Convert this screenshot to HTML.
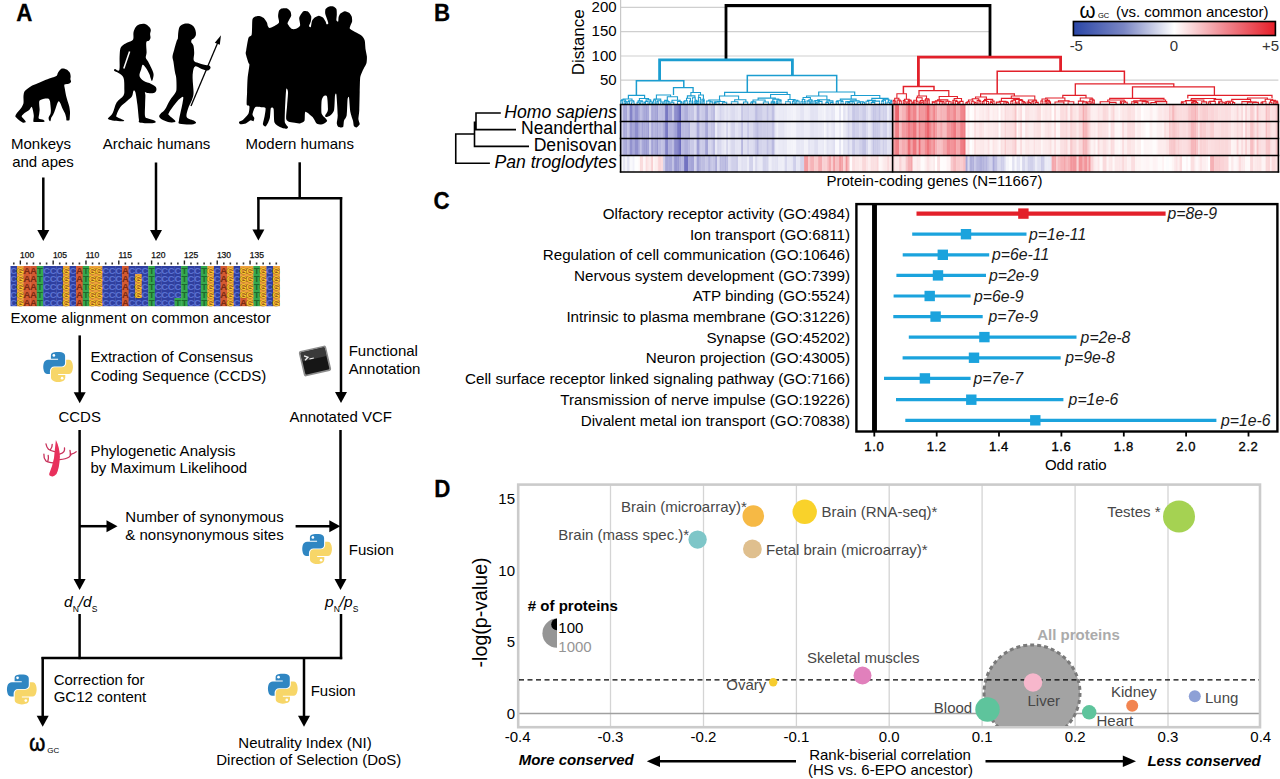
<!DOCTYPE html>
<html><head><meta charset="utf-8"><style>
html,body{margin:0;padding:0;background:#fff;width:1280px;height:779px;overflow:hidden}
svg{display:block}
text{font-family:"Liberation Sans", sans-serif}
</style></head><body>
<svg width="1280" height="779" viewBox="0 0 1280 779">
<rect width="1280" height="779" fill="#fff"/>
<text x="16.3" y="20.9" font-size="24" font-weight="bold" stroke="#000" stroke-width="0.3" transform="translate(16.3,20.9) scale(0.93,1) translate(-16.3,-20.9)">A</text>
<text x="434" y="21.3" font-size="24" font-weight="bold" stroke="#000" stroke-width="0.3" transform="translate(434,21.3) scale(0.93,1) translate(-434,-21.3)">B</text>
<text x="433.5" y="208.8" font-size="24" font-weight="bold" stroke="#000" stroke-width="0.3" transform="translate(433.5,208.8) scale(0.93,1) translate(-433.5,-208.8)">C</text>
<text x="434.2" y="497" font-size="24" font-weight="bold" stroke="#000" stroke-width="0.3" transform="translate(434.2,497) scale(0.93,1) translate(-434.2,-497)">D</text>
<path d="M61.67,68.54 C62.81,68.12 65.53,68.90 66.61,69.44 C67.69,69.97 69.22,71.68 69.76,72.58 C70.30,73.48 70.57,75.28 70.66,76.17 C70.74,77.07 70.33,78.60 70.39,79.32 C70.45,80.04 71.19,81.03 71.10,81.57 C71.02,82.11 70.24,83.03 69.76,83.36 C69.28,83.70 68.23,83.90 67.51,84.08 C66.79,84.26 64.72,84.09 64.37,84.71 C64.01,85.33 64.57,87.26 64.81,88.76 C65.05,90.25 65.74,94.15 66.16,95.94 C66.58,97.74 67.54,100.80 67.96,102.23 C68.38,103.67 69.03,105.41 69.31,106.73 C69.58,108.05 69.97,110.68 70.03,112.12 C70.09,113.56 69.85,116.43 69.76,117.51 C69.66,118.59 69.73,119.82 69.31,120.21 C68.89,120.59 67.03,120.75 66.61,120.39 C66.19,120.03 66.40,118.49 66.16,117.51 C65.92,116.53 65.35,114.34 64.81,113.02 C64.28,111.70 62.72,108.94 62.12,107.63 C61.52,106.31 60.80,103.97 60.32,103.13 C59.84,102.29 59.00,101.10 58.52,101.34 C58.05,101.58 57.21,103.73 56.73,104.93 C56.25,106.13 55.41,109.00 54.93,110.32 C54.45,111.64 53.61,113.86 53.13,114.81 C52.65,115.77 51.70,116.67 51.34,117.51 C50.98,118.35 50.74,120.75 50.44,121.10 C50.14,121.46 49.33,120.69 49.09,120.21 C48.85,119.73 48.46,118.35 48.64,117.51 C48.82,116.67 50.14,114.87 50.44,113.92 C50.74,112.96 50.89,111.52 50.89,110.32 C50.89,109.12 50.56,106.13 50.44,104.93 C50.32,103.73 50.23,102.17 49.99,101.34 C49.75,100.50 49.42,99.00 48.64,98.64 C47.86,98.28 45.34,98.40 44.15,98.64 C42.95,98.88 40.31,99.72 39.65,100.44 C38.99,101.16 39.20,102.83 39.20,104.03 C39.20,105.23 39.65,108.11 39.65,109.42 C39.65,110.74 39.32,112.72 39.20,113.92 C39.08,115.11 38.22,117.63 38.76,118.41 C39.29,119.19 42.53,119.30 43.25,119.76 C43.97,120.21 45.34,121.52 44.15,121.82 C42.95,122.12 35.70,122.22 34.26,122.00 C32.82,121.79 33.42,121.04 33.36,120.21 C33.30,119.37 33.87,117.03 33.81,115.71 C33.75,114.40 33.21,111.52 32.91,110.32 C32.61,109.12 32.11,106.73 31.57,106.73 C31.03,106.73 29.95,109.36 28.87,110.32 C27.79,111.28 24.44,113.08 23.48,113.92 C22.52,114.75 21.56,115.83 21.68,116.61 C21.80,117.39 23.84,119.04 24.38,119.76 C24.92,120.48 25.97,121.64 25.73,122.00 C25.49,122.36 23.72,122.93 22.58,122.45 C21.44,121.97 18.15,119.19 17.19,118.41 C16.23,117.63 15.51,117.21 15.39,116.61 C15.27,116.01 15.57,114.99 16.29,113.92 C17.01,112.84 19.82,109.96 20.78,108.52 C21.74,107.09 23.12,104.81 23.48,103.13 C23.84,101.46 23.30,97.56 23.48,95.94 C23.66,94.33 23.87,92.26 24.83,91.00 C25.79,89.74 28.93,87.53 30.67,86.51 C32.41,85.49 35.82,84.26 37.86,83.36 C39.89,82.46 44.03,80.55 45.94,79.77 C47.86,78.99 50.80,78.06 52.23,77.52 C53.67,76.98 55.95,76.38 56.73,75.73 C57.51,75.07 57.42,73.54 58.08,72.58 C58.73,71.62 60.53,68.96 61.67,68.54Z" fill="#000"/>
<path d="M139.70,24.20 C141.25,23.70 143.50,23.45 145.10,23.90 C146.70,24.35 148.35,25.88 149.30,26.90 C150.25,27.92 150.67,28.83 150.80,30.00 C150.93,31.17 150.15,32.62 150.10,33.90 C150.05,35.18 150.70,36.55 150.50,37.70 C150.30,38.85 149.55,40.15 148.90,40.80 C148.25,41.45 147.05,40.83 146.60,41.60 C146.15,42.37 146.20,43.60 146.20,45.40 C146.20,47.20 146.67,50.33 146.60,52.40 C146.53,54.47 145.55,56.27 145.80,57.80 C146.05,59.33 147.20,59.93 148.10,61.60 C149.00,63.27 150.35,66.00 151.20,67.80 C152.05,69.60 152.82,71.03 153.20,72.40 C153.58,73.77 153.70,74.57 153.50,76.00 C153.30,77.43 152.50,80.72 152.00,81.00 C151.50,81.28 150.95,78.88 150.50,77.70 C150.05,76.52 150.08,75.55 149.30,73.90 C148.52,72.25 146.90,69.33 145.80,67.80 C144.70,66.27 143.47,64.45 142.70,64.70 C141.93,64.95 141.73,67.42 141.20,69.30 C140.67,71.18 139.12,74.08 139.50,76.00 C139.88,77.92 141.55,79.48 143.50,80.80 C145.45,82.12 149.15,82.88 151.20,83.90 C153.25,84.92 154.97,85.75 155.80,86.90 C156.63,88.05 156.58,89.77 156.20,90.80 C155.82,91.83 154.85,92.72 153.50,93.10 C152.15,93.48 149.52,93.23 148.10,93.10 C146.68,92.97 145.45,91.92 145.00,92.30 C144.55,92.68 145.38,93.33 145.40,95.40 C145.42,97.47 145.15,101.23 145.10,104.70 C145.05,108.17 144.60,113.90 145.10,116.20 C145.60,118.50 146.57,117.78 148.10,118.50 C149.63,119.22 153.07,119.85 154.30,120.50 C155.53,121.15 156.13,121.95 155.50,122.40 C154.87,122.85 153.13,123.20 150.50,123.20 C147.87,123.20 141.63,123.05 139.70,122.40 C137.77,121.75 139.28,122.25 138.90,119.30 C138.52,116.35 137.98,109.20 137.40,104.70 C136.82,100.20 136.05,94.62 135.40,92.30 C134.75,89.98 134.07,90.15 133.50,90.80 C132.93,91.45 133.03,94.53 132.00,96.20 C130.97,97.87 129.23,99.00 127.30,100.80 C125.37,102.60 122.18,104.68 120.40,107.00 C118.62,109.32 117.18,113.03 116.60,114.70 C116.02,116.37 115.75,116.10 116.90,117.00 C118.05,117.90 122.47,119.40 123.50,120.10 C124.53,120.80 124.65,121.08 123.10,121.20 C121.55,121.32 116.63,121.12 114.20,120.80 C111.77,120.48 109.45,119.80 108.50,119.30 C107.55,118.80 107.80,118.83 108.50,117.80 C109.20,116.77 111.35,115.67 112.70,113.10 C114.05,110.53 114.80,105.35 116.60,102.40 C118.40,99.45 122.22,97.72 123.50,95.40 C124.78,93.08 124.30,91.45 124.30,88.50 C124.30,85.55 124.47,80.27 123.50,77.70 C122.53,75.13 120.05,74.25 118.50,73.10 C116.95,71.95 114.78,71.50 114.20,70.80 C113.62,70.10 114.15,69.02 115.00,68.90 C115.85,68.78 118.53,72.08 119.30,70.10 C120.07,68.12 119.42,60.60 119.60,57.00 C119.78,53.40 119.75,50.55 120.40,48.50 C121.05,46.45 122.22,45.73 123.50,44.70 C124.78,43.67 126.50,43.15 128.10,42.30 C129.70,41.45 132.20,41.27 133.10,39.60 C134.00,37.93 133.05,34.42 133.50,32.30 C133.95,30.18 134.77,28.25 135.80,26.90 C136.83,25.55 138.15,24.70 139.70,24.20Z" fill="#000"/>
<line x1="129.6" y1="51.5" x2="123.8" y2="68.5" stroke="#fff" stroke-width="1.5"/>
<path d="M184.20,23.80 C185.73,23.37 187.67,23.28 189.20,23.70 C190.73,24.12 192.35,25.17 193.40,26.30 C194.45,27.43 195.08,29.10 195.50,30.50 C195.92,31.90 196.12,33.45 195.90,34.70 C195.68,35.95 194.90,37.17 194.20,38.00 C193.50,38.83 192.18,39.00 191.70,39.70 C191.22,40.40 191.02,41.23 191.30,42.20 C191.58,43.17 192.92,43.70 193.40,45.50 C193.88,47.30 194.13,50.48 194.20,53.00 C194.27,55.52 193.10,58.92 193.80,60.60 C194.50,62.28 196.67,62.42 198.40,63.10 C200.13,63.78 202.40,64.28 204.20,64.70 C206.00,65.12 208.15,65.03 209.20,65.60 C210.25,66.17 210.77,67.27 210.50,68.10 C210.23,68.93 209.07,70.47 207.60,70.60 C206.13,70.73 203.78,69.60 201.70,68.90 C199.62,68.20 196.55,65.98 195.10,66.40 C193.65,66.82 193.42,69.47 193.00,71.40 C192.58,73.33 192.58,75.63 192.60,78.00 C192.62,80.37 192.95,82.92 193.10,85.60 C193.25,88.28 193.73,91.63 193.50,94.10 C193.27,96.57 192.58,98.05 191.70,100.40 C190.82,102.75 189.02,105.38 188.20,108.20 C187.38,111.02 185.75,115.18 186.80,117.30 C187.85,119.42 192.98,119.95 194.50,120.90 C196.02,121.85 196.37,122.42 195.90,123.00 C195.43,123.58 194.40,124.28 191.70,124.40 C189.00,124.52 181.82,124.40 179.70,123.70 C177.58,123.00 178.88,121.97 179.00,120.20 C179.12,118.43 179.82,115.93 180.40,113.10 C180.98,110.27 182.03,105.90 182.50,103.20 C182.97,100.50 183.55,97.72 183.20,96.90 C182.85,96.08 181.57,97.37 180.40,98.30 C179.23,99.23 178.08,100.15 176.20,102.50 C174.32,104.85 170.28,110.28 169.10,112.40 C167.92,114.52 168.15,113.90 169.10,115.20 C170.05,116.50 173.85,119.08 174.80,120.20 C175.75,121.32 175.75,121.55 174.80,121.90 C173.85,122.25 171.23,122.70 169.10,122.30 C166.97,121.90 163.65,120.45 162.00,119.50 C160.35,118.55 159.43,117.55 159.20,116.60 C158.97,115.65 159.65,114.97 160.60,113.80 C161.55,112.63 163.37,111.83 164.90,109.60 C166.43,107.37 168.03,103.23 169.80,100.40 C171.57,97.57 174.38,94.72 175.50,92.60 C176.62,90.48 176.38,90.17 176.50,87.70 C176.62,85.23 176.45,80.37 176.20,77.80 C175.95,75.23 175.47,75.03 175.00,72.30 C174.53,69.57 173.82,64.05 173.40,61.40 C172.98,58.75 172.37,58.35 172.50,56.40 C172.63,54.45 173.57,52.07 174.20,49.70 C174.83,47.33 175.75,43.93 176.30,42.20 C176.85,40.47 177.23,40.00 177.50,39.30 C177.77,38.60 177.75,39.32 177.90,38.00 C178.05,36.68 178.05,33.35 178.40,31.40 C178.75,29.45 179.03,27.57 180.00,26.30 C180.97,25.03 182.67,24.23 184.20,23.80Z" fill="#000"/>
<line x1="217.6" y1="43" x2="191" y2="106" stroke="#000" stroke-width="1.3"/><polygon points="221,35.3 219.8,44.8 214.8,42.8" fill="#000"/>
<path d="M246.20,50.30 C246.51,48.41 247.87,39.48 248.50,37.70 C249.13,35.92 251.18,36.25 251.60,35.00 C252.02,33.75 252.00,28.83 252.10,27.00 C252.20,25.17 252.14,20.51 252.50,19.30 C252.86,18.09 254.41,16.99 255.20,16.60 C255.99,16.21 258.30,15.84 259.30,16.00 C260.30,16.16 262.91,17.24 263.80,18.00 C264.69,18.76 266.43,21.57 266.90,22.50 C267.37,23.43 267.49,25.37 267.80,26.00 C268.12,26.63 268.82,27.90 269.60,27.90 C270.38,27.90 273.40,26.63 274.50,26.00 C275.60,25.37 278.58,23.64 279.00,22.50 C279.42,21.36 278.10,17.56 278.10,16.20 C278.10,14.83 278.58,11.70 279.00,10.80 C279.42,9.90 280.80,8.79 281.70,8.50 C282.60,8.21 285.70,7.99 286.70,8.30 C287.70,8.62 289.78,10.34 290.30,11.20 C290.82,12.06 291.36,14.65 291.20,15.70 C291.04,16.75 289.32,19.25 288.90,20.20 C288.48,21.14 287.29,22.80 287.60,23.80 C287.92,24.80 290.61,28.22 291.60,28.80 C292.59,29.38 295.11,29.17 296.10,28.80 C297.09,28.43 299.74,26.86 300.10,25.60 C300.46,24.34 299.04,19.41 299.20,18.00 C299.36,16.59 300.99,14.29 301.50,13.50 C302.01,12.71 302.83,11.41 303.60,11.20 C304.37,10.99 307.21,11.12 308.10,11.70 C308.99,12.28 310.88,15.04 311.20,16.20 C311.51,17.36 311.06,20.46 310.80,21.60 C310.54,22.74 309.00,25.37 309.00,26.00 C309.00,26.63 310.44,27.62 310.80,27.00 C311.16,26.38 311.63,21.81 312.10,20.70 C312.57,19.59 314.01,18.08 314.80,17.50 C315.59,16.92 317.95,15.70 318.90,15.70 C319.84,15.70 322.12,16.81 322.90,17.50 C323.68,18.19 325.18,20.81 325.60,21.60 C326.02,22.39 326.19,24.09 326.50,24.30 C326.81,24.51 328.24,24.03 328.30,23.40 C328.36,22.77 327.36,20.05 327.00,18.90 C326.64,17.74 325.36,14.65 325.20,13.50 C325.04,12.35 325.18,9.79 325.60,9.00 C326.02,8.21 327.91,6.99 328.80,6.70 C329.69,6.41 332.31,6.23 333.20,6.50 C334.09,6.77 335.98,8.08 336.40,9.00 C336.82,9.92 336.80,13.09 336.80,14.40 C336.80,15.71 336.24,19.36 336.40,20.20 C336.56,21.04 337.94,21.96 338.20,21.60 C338.46,21.24 338.34,18.05 338.60,17.10 C338.86,16.16 339.66,14.19 340.40,13.50 C341.13,12.81 343.85,11.26 344.90,11.20 C345.95,11.14 348.61,12.37 349.40,13.00 C350.19,13.63 351.38,15.60 351.70,16.60 C352.01,17.60 352.26,20.50 352.10,21.60 C351.94,22.70 350.56,25.16 350.30,26.00 C350.04,26.84 349.27,28.07 349.90,28.80 C350.53,29.54 354.29,31.47 355.70,32.30 C357.11,33.13 360.95,34.95 362.00,35.90 C363.05,36.84 364.28,38.82 364.70,40.40 C365.12,41.98 365.34,47.51 365.60,49.40 C365.86,51.29 366.79,55.02 366.90,56.60 C367.00,58.18 366.84,61.57 366.50,62.90 C366.16,64.23 364.52,66.92 364.00,68.00 C363.48,69.08 362.44,71.08 362.00,72.20 C361.56,73.32 360.47,75.29 360.20,77.60 C359.93,79.91 359.81,88.23 359.70,92.00 C359.59,95.77 359.45,106.76 359.30,109.90 C359.15,113.04 358.35,117.22 358.40,118.90 C358.45,120.58 359.91,123.31 359.70,124.30 C359.49,125.29 357.28,127.19 356.60,127.40 C355.92,127.61 354.32,126.88 353.90,126.10 C353.48,125.32 353.42,122.38 353.00,120.70 C352.58,119.02 350.77,114.43 350.30,111.70 C349.83,108.97 349.31,98.77 349.00,97.30 C348.69,95.83 347.87,97.00 347.60,99.10 C347.33,101.20 347.12,112.78 346.70,115.30 C346.28,117.82 344.42,119.34 344.00,120.70 C343.58,122.06 343.73,126.27 343.10,127.00 C342.47,127.73 339.34,127.42 338.60,127.00 C337.87,126.58 336.91,124.77 336.80,123.40 C336.69,122.04 337.75,118.66 337.70,115.30 C337.65,111.94 336.71,96.91 336.40,94.60 C336.08,92.29 335.27,93.72 335.00,95.50 C334.73,97.28 334.62,107.59 334.10,109.90 C333.58,112.21 331.43,114.46 330.50,115.30 C329.57,116.14 326.72,117.10 326.10,117.10 C325.48,117.10 324.99,116.14 325.20,115.30 C325.41,114.46 327.69,112.11 327.90,109.90 C328.11,107.70 327.52,97.98 327.00,96.40 C326.48,94.83 324.03,95.88 323.40,96.40 C322.77,96.93 321.81,98.91 321.60,100.90 C321.39,102.90 321.08,111.40 321.60,113.50 C322.12,115.60 325.47,118.00 326.10,118.90 C326.73,119.80 327.42,120.57 327.00,121.20 C326.58,121.83 323.71,124.04 322.50,124.30 C321.29,124.56 317.75,124.24 316.60,123.40 C315.45,122.56 313.91,118.46 312.60,117.10 C311.29,115.73 306.34,111.28 305.40,111.70 C304.45,112.12 305.13,119.34 304.50,120.70 C303.87,122.06 300.98,123.13 300.00,123.40 C299.02,123.67 297.29,123.16 296.10,123.00 C294.91,122.84 290.96,122.48 289.80,122.00 C288.64,121.52 286.51,120.84 286.20,118.90 C285.88,116.96 286.89,108.54 287.10,105.40 C287.31,102.26 288.11,93.88 288.00,92.00 C287.89,90.12 286.56,87.00 286.20,89.30 C285.84,91.60 285.05,107.83 284.90,111.70 C284.75,115.57 284.54,120.72 284.90,122.50 C285.26,124.28 287.85,126.27 288.00,127.00 C288.15,127.73 287.14,128.80 286.20,128.80 C285.25,128.80 281.26,127.73 279.90,127.00 C278.53,126.27 275.24,124.60 274.50,122.50 C273.76,120.40 274.02,110.68 273.60,109.00 C273.18,107.32 271.32,107.16 270.90,108.10 C270.48,109.04 270.31,115.42 270.00,117.10 C269.69,118.78 268.72,121.40 268.20,122.50 C267.68,123.60 266.12,126.29 265.50,126.50 C264.88,126.71 263.00,125.50 262.90,124.30 C262.79,123.10 264.30,118.09 264.60,116.20 C264.90,114.31 265.91,109.15 265.50,108.10 C265.09,107.05 262.30,107.31 261.10,107.20 C259.90,107.09 256.20,106.36 255.20,107.20 C254.20,108.04 252.60,113.14 252.50,114.40 C252.40,115.66 254.20,117.21 254.30,118.00 C254.41,118.79 253.82,120.93 253.40,121.20 C252.98,121.47 251.59,120.04 250.70,120.30 C249.81,120.56 247.00,122.93 245.80,123.40 C244.60,123.87 241.19,124.46 240.40,124.30 C239.61,124.14 238.69,122.53 239.00,122.00 C239.31,121.47 241.99,120.79 243.10,119.80 C244.21,118.81 247.76,115.08 248.50,113.50 C249.24,111.92 249.61,107.35 249.40,106.30 C249.19,105.25 246.97,106.17 246.70,104.50 C246.43,102.83 247.00,95.03 247.10,92.00 C247.20,88.97 247.33,81.65 247.60,78.50 C247.87,75.35 249.30,66.82 249.40,65.00 C249.50,63.18 248.92,64.19 248.50,62.90 C248.08,61.60 246.07,55.37 245.80,53.90 C245.53,52.43 245.88,52.19 246.20,50.30Z" fill="#000"/>
<text x="41.0" y="149.3" font-size="15" text-anchor="middle" fill="#000" font-weight="normal" font-style="normal" >Monkeys</text>
<text x="43.0" y="167.0" font-size="15" text-anchor="middle" fill="#000" font-weight="normal" font-style="normal" >and apes</text>
<text x="156.5" y="149.3" font-size="15" text-anchor="middle" fill="#000" font-weight="normal" font-style="normal" >Archaic humans</text>
<text x="299.7" y="149.3" font-size="15" text-anchor="middle" fill="#000" font-weight="normal" font-style="normal" >Modern humans</text>
<line x1="43.3" y1="177.5" x2="43.3" y2="231.0" stroke="#000" stroke-width="2.5" />
<polygon points="37.3,230.0 49.3,230.0 43.3,241.0" fill="#000"/>
<line x1="156.0" y1="162.5" x2="156.0" y2="231.0" stroke="#000" stroke-width="2.5" />
<polygon points="150.0,230.0 162.0,230.0 156.0,241.0" fill="#000"/>
<line x1="299.7" y1="162.3" x2="299.7" y2="198.3" stroke="#000" stroke-width="2.5" />
<line x1="257.2" y1="198.3" x2="342.2" y2="198.3" stroke="#000" stroke-width="2.5" />
<line x1="258.4" y1="197.0" x2="258.4" y2="230.5" stroke="#000" stroke-width="2.5" />
<polygon points="252.4,229.5 264.4,229.5 258.4,240.5" fill="#000"/>
<line x1="341.0" y1="197.0" x2="341.0" y2="393.0" stroke="#000" stroke-width="2.5" />
<polygon points="335.0,392.0 347.0,392.0 341.0,403.0" fill="#000"/>
<rect x="10.50" y="266" width="6.86" height="8.2" fill="#2f3f9f"/>
<rect x="10.50" y="274" width="6.86" height="8.2" fill="#2f3f9f"/>
<rect x="10.50" y="282" width="6.86" height="8.2" fill="#2f3f9f"/>
<rect x="10.50" y="290" width="6.86" height="8.2" fill="#2f3f9f"/>
<rect x="10.50" y="298" width="6.86" height="8.2" fill="#2f3f9f"/>
<rect x="17.06" y="266" width="6.86" height="8.2" fill="#eea23c"/>
<rect x="17.06" y="274" width="6.86" height="8.2" fill="#eea23c"/>
<rect x="17.06" y="282" width="6.86" height="8.2" fill="#eea23c"/>
<rect x="17.06" y="290" width="6.86" height="8.2" fill="#eea23c"/>
<rect x="17.06" y="298" width="6.86" height="8.2" fill="#eea23c"/>
<rect x="23.63" y="266" width="6.86" height="8.2" fill="#d45a32"/>
<rect x="23.63" y="274" width="6.86" height="8.2" fill="#d45a32"/>
<rect x="23.63" y="282" width="6.86" height="8.2" fill="#d45a32"/>
<rect x="23.63" y="290" width="6.86" height="8.2" fill="#d45a32"/>
<rect x="23.63" y="298" width="6.86" height="8.2" fill="#d45a32"/>
<rect x="30.19" y="266" width="6.86" height="8.2" fill="#d45a32"/>
<rect x="30.19" y="274" width="6.86" height="8.2" fill="#d45a32"/>
<rect x="30.19" y="282" width="6.86" height="8.2" fill="#d45a32"/>
<rect x="30.19" y="290" width="6.86" height="8.2" fill="#d45a32"/>
<rect x="30.19" y="298" width="6.86" height="8.2" fill="#d45a32"/>
<rect x="36.75" y="266" width="6.86" height="8.2" fill="#35a84e"/>
<rect x="36.75" y="274" width="6.86" height="8.2" fill="#35a84e"/>
<rect x="36.75" y="282" width="6.86" height="8.2" fill="#35a84e"/>
<rect x="36.75" y="290" width="6.86" height="8.2" fill="#35a84e"/>
<rect x="36.75" y="298" width="6.86" height="8.2" fill="#35a84e"/>
<rect x="43.31" y="266" width="6.86" height="8.2" fill="#2f3f9f"/>
<rect x="43.31" y="274" width="6.86" height="8.2" fill="#2f3f9f"/>
<rect x="43.31" y="282" width="6.86" height="8.2" fill="#2f3f9f"/>
<rect x="43.31" y="290" width="6.86" height="8.2" fill="#2f3f9f"/>
<rect x="43.31" y="298" width="6.86" height="8.2" fill="#2f3f9f"/>
<rect x="49.88" y="266" width="6.86" height="8.2" fill="#2f3f9f"/>
<rect x="49.88" y="274" width="6.86" height="8.2" fill="#2f3f9f"/>
<rect x="49.88" y="282" width="6.86" height="8.2" fill="#2f3f9f"/>
<rect x="49.88" y="290" width="6.86" height="8.2" fill="#2f3f9f"/>
<rect x="49.88" y="298" width="6.86" height="8.2" fill="#2f3f9f"/>
<rect x="56.44" y="266" width="6.86" height="8.2" fill="#2f3f9f"/>
<rect x="56.44" y="274" width="6.86" height="8.2" fill="#2f3f9f"/>
<rect x="56.44" y="282" width="6.86" height="8.2" fill="#2f3f9f"/>
<rect x="56.44" y="290" width="6.86" height="8.2" fill="#2f3f9f"/>
<rect x="56.44" y="298" width="6.86" height="8.2" fill="#2f3f9f"/>
<rect x="63.00" y="266" width="6.86" height="8.2" fill="#eea23c"/>
<rect x="63.00" y="274" width="6.86" height="8.2" fill="#eea23c"/>
<rect x="63.00" y="282" width="6.86" height="8.2" fill="#eea23c"/>
<rect x="63.00" y="290" width="6.86" height="8.2" fill="#eea23c"/>
<rect x="63.00" y="298" width="6.86" height="8.2" fill="#eea23c"/>
<rect x="69.57" y="266" width="6.86" height="8.2" fill="#2f3f9f"/>
<rect x="69.57" y="274" width="6.86" height="8.2" fill="#2f3f9f"/>
<rect x="69.57" y="282" width="6.86" height="8.2" fill="#2f3f9f"/>
<rect x="69.57" y="290" width="6.86" height="8.2" fill="#2f3f9f"/>
<rect x="69.57" y="298" width="6.86" height="8.2" fill="#2f3f9f"/>
<rect x="76.13" y="266" width="6.86" height="8.2" fill="#d45a32"/>
<rect x="76.13" y="274" width="6.86" height="8.2" fill="#d45a32"/>
<rect x="76.13" y="282" width="6.86" height="8.2" fill="#d45a32"/>
<rect x="76.13" y="290" width="6.86" height="8.2" fill="#d45a32"/>
<rect x="76.13" y="298" width="6.86" height="8.2" fill="#d45a32"/>
<rect x="82.69" y="266" width="6.86" height="8.2" fill="#35a84e"/>
<rect x="82.69" y="274" width="6.86" height="8.2" fill="#35a84e"/>
<rect x="82.69" y="282" width="6.86" height="8.2" fill="#35a84e"/>
<rect x="82.69" y="290" width="6.86" height="8.2" fill="#35a84e"/>
<rect x="82.69" y="298" width="6.86" height="8.2" fill="#35a84e"/>
<rect x="89.26" y="266" width="6.86" height="8.2" fill="#eea23c"/>
<rect x="89.26" y="274" width="6.86" height="8.2" fill="#eea23c"/>
<rect x="89.26" y="282" width="6.86" height="8.2" fill="#eea23c"/>
<rect x="89.26" y="290" width="6.86" height="8.2" fill="#eea23c"/>
<rect x="89.26" y="298" width="6.86" height="8.2" fill="#eea23c"/>
<rect x="95.82" y="266" width="6.86" height="8.2" fill="#eea23c"/>
<rect x="95.82" y="274" width="6.86" height="8.2" fill="#eea23c"/>
<rect x="95.82" y="282" width="6.86" height="8.2" fill="#eea23c"/>
<rect x="95.82" y="290" width="6.86" height="8.2" fill="#eea23c"/>
<rect x="95.82" y="298" width="6.86" height="8.2" fill="#eea23c"/>
<rect x="102.38" y="266" width="6.86" height="8.2" fill="#2f3f9f"/>
<rect x="102.38" y="274" width="6.86" height="8.2" fill="#2f3f9f"/>
<rect x="102.38" y="282" width="6.86" height="8.2" fill="#2f3f9f"/>
<rect x="102.38" y="290" width="6.86" height="8.2" fill="#2f3f9f"/>
<rect x="102.38" y="298" width="6.86" height="8.2" fill="#2f3f9f"/>
<rect x="108.94" y="266" width="6.86" height="8.2" fill="#2f3f9f"/>
<rect x="108.94" y="274" width="6.86" height="8.2" fill="#2f3f9f"/>
<rect x="108.94" y="282" width="6.86" height="8.2" fill="#2f3f9f"/>
<rect x="108.94" y="290" width="6.86" height="8.2" fill="#2f3f9f"/>
<rect x="108.94" y="298" width="6.86" height="8.2" fill="#2f3f9f"/>
<rect x="115.51" y="266" width="6.86" height="8.2" fill="#2f3f9f"/>
<rect x="115.51" y="274" width="6.86" height="8.2" fill="#2f3f9f"/>
<rect x="115.51" y="282" width="6.86" height="8.2" fill="#2f3f9f"/>
<rect x="115.51" y="290" width="6.86" height="8.2" fill="#2f3f9f"/>
<rect x="115.51" y="298" width="6.86" height="8.2" fill="#2f3f9f"/>
<rect x="122.07" y="266" width="6.86" height="8.2" fill="#d45a32"/>
<rect x="122.07" y="274" width="6.86" height="8.2" fill="#d45a32"/>
<rect x="122.07" y="282" width="6.86" height="8.2" fill="#d45a32"/>
<rect x="122.07" y="290" width="6.86" height="8.2" fill="#d45a32"/>
<rect x="122.07" y="298" width="6.86" height="8.2" fill="#d45a32"/>
<rect x="128.63" y="266" width="6.86" height="8.2" fill="#2f3f9f"/>
<rect x="128.63" y="274" width="6.86" height="8.2" fill="#2f3f9f"/>
<rect x="128.63" y="282" width="6.86" height="8.2" fill="#2f3f9f"/>
<rect x="128.63" y="290" width="6.86" height="8.2" fill="#2f3f9f"/>
<rect x="128.63" y="298" width="6.86" height="8.2" fill="#2f3f9f"/>
<rect x="135.20" y="266" width="6.86" height="8.2" fill="#2f3f9f"/>
<rect x="135.20" y="274" width="6.86" height="8.2" fill="#eea23c"/>
<rect x="135.20" y="282" width="6.86" height="8.2" fill="#eea23c"/>
<rect x="135.20" y="290" width="6.86" height="8.2" fill="#eea23c"/>
<rect x="135.20" y="298" width="6.86" height="8.2" fill="#2f3f9f"/>
<rect x="141.76" y="266" width="6.86" height="8.2" fill="#2f3f9f"/>
<rect x="141.76" y="274" width="6.86" height="8.2" fill="#2f3f9f"/>
<rect x="141.76" y="282" width="6.86" height="8.2" fill="#2f3f9f"/>
<rect x="141.76" y="290" width="6.86" height="8.2" fill="#2f3f9f"/>
<rect x="141.76" y="298" width="6.86" height="8.2" fill="#2f3f9f"/>
<rect x="148.32" y="266" width="6.86" height="8.2" fill="#35a84e"/>
<rect x="148.32" y="274" width="6.86" height="8.2" fill="#35a84e"/>
<rect x="148.32" y="282" width="6.86" height="8.2" fill="#35a84e"/>
<rect x="148.32" y="290" width="6.86" height="8.2" fill="#35a84e"/>
<rect x="148.32" y="298" width="6.86" height="8.2" fill="#35a84e"/>
<rect x="154.89" y="266" width="6.86" height="8.2" fill="#2f3f9f"/>
<rect x="154.89" y="274" width="6.86" height="8.2" fill="#2f3f9f"/>
<rect x="154.89" y="282" width="6.86" height="8.2" fill="#2f3f9f"/>
<rect x="154.89" y="290" width="6.86" height="8.2" fill="#2f3f9f"/>
<rect x="154.89" y="298" width="6.86" height="8.2" fill="#2f3f9f"/>
<rect x="161.45" y="266" width="6.86" height="8.2" fill="#2f3f9f"/>
<rect x="161.45" y="274" width="6.86" height="8.2" fill="#2f3f9f"/>
<rect x="161.45" y="282" width="6.86" height="8.2" fill="#2f3f9f"/>
<rect x="161.45" y="290" width="6.86" height="8.2" fill="#2f3f9f"/>
<rect x="161.45" y="298" width="6.86" height="8.2" fill="#2f3f9f"/>
<rect x="168.01" y="266" width="6.86" height="8.2" fill="#2f3f9f"/>
<rect x="168.01" y="274" width="6.86" height="8.2" fill="#2f3f9f"/>
<rect x="168.01" y="282" width="6.86" height="8.2" fill="#2f3f9f"/>
<rect x="168.01" y="290" width="6.86" height="8.2" fill="#2f3f9f"/>
<rect x="168.01" y="298" width="6.86" height="8.2" fill="#2f3f9f"/>
<rect x="174.57" y="266" width="6.86" height="8.2" fill="#2f3f9f"/>
<rect x="174.57" y="274" width="6.86" height="8.2" fill="#2f3f9f"/>
<rect x="174.57" y="282" width="6.86" height="8.2" fill="#2f3f9f"/>
<rect x="174.57" y="290" width="6.86" height="8.2" fill="#2f3f9f"/>
<rect x="174.57" y="298" width="6.86" height="8.2" fill="#35a84e"/>
<rect x="181.14" y="266" width="6.86" height="8.2" fill="#35a84e"/>
<rect x="181.14" y="274" width="6.86" height="8.2" fill="#35a84e"/>
<rect x="181.14" y="282" width="6.86" height="8.2" fill="#35a84e"/>
<rect x="181.14" y="290" width="6.86" height="8.2" fill="#35a84e"/>
<rect x="181.14" y="298" width="6.86" height="8.2" fill="#35a84e"/>
<rect x="187.70" y="266" width="6.86" height="8.2" fill="#2f3f9f"/>
<rect x="187.70" y="274" width="6.86" height="8.2" fill="#2f3f9f"/>
<rect x="187.70" y="282" width="6.86" height="8.2" fill="#2f3f9f"/>
<rect x="187.70" y="290" width="6.86" height="8.2" fill="#2f3f9f"/>
<rect x="187.70" y="298" width="6.86" height="8.2" fill="#2f3f9f"/>
<rect x="194.26" y="266" width="6.86" height="8.2" fill="#2f3f9f"/>
<rect x="194.26" y="274" width="6.86" height="8.2" fill="#2f3f9f"/>
<rect x="194.26" y="282" width="6.86" height="8.2" fill="#2f3f9f"/>
<rect x="194.26" y="290" width="6.86" height="8.2" fill="#2f3f9f"/>
<rect x="194.26" y="298" width="6.86" height="8.2" fill="#2f3f9f"/>
<rect x="200.83" y="266" width="6.86" height="8.2" fill="#35a84e"/>
<rect x="200.83" y="274" width="6.86" height="8.2" fill="#35a84e"/>
<rect x="200.83" y="282" width="6.86" height="8.2" fill="#35a84e"/>
<rect x="200.83" y="290" width="6.86" height="8.2" fill="#35a84e"/>
<rect x="200.83" y="298" width="6.86" height="8.2" fill="#35a84e"/>
<rect x="207.39" y="266" width="6.86" height="8.2" fill="#eea23c"/>
<rect x="207.39" y="274" width="6.86" height="8.2" fill="#eea23c"/>
<rect x="207.39" y="282" width="6.86" height="8.2" fill="#eea23c"/>
<rect x="207.39" y="290" width="6.86" height="8.2" fill="#eea23c"/>
<rect x="207.39" y="298" width="6.86" height="8.2" fill="#eea23c"/>
<rect x="213.95" y="266" width="6.86" height="8.2" fill="#2f3f9f"/>
<rect x="213.95" y="274" width="6.86" height="8.2" fill="#2f3f9f"/>
<rect x="213.95" y="282" width="6.86" height="8.2" fill="#2f3f9f"/>
<rect x="213.95" y="290" width="6.86" height="8.2" fill="#2f3f9f"/>
<rect x="213.95" y="298" width="6.86" height="8.2" fill="#2f3f9f"/>
<rect x="220.52" y="266" width="6.86" height="8.2" fill="#d45a32"/>
<rect x="220.52" y="274" width="6.86" height="8.2" fill="#d45a32"/>
<rect x="220.52" y="282" width="6.86" height="8.2" fill="#d45a32"/>
<rect x="220.52" y="290" width="6.86" height="8.2" fill="#d45a32"/>
<rect x="220.52" y="298" width="6.86" height="8.2" fill="#d45a32"/>
<rect x="227.08" y="266" width="6.86" height="8.2" fill="#eea23c"/>
<rect x="227.08" y="274" width="6.86" height="8.2" fill="#eea23c"/>
<rect x="227.08" y="282" width="6.86" height="8.2" fill="#eea23c"/>
<rect x="227.08" y="290" width="6.86" height="8.2" fill="#eea23c"/>
<rect x="227.08" y="298" width="6.86" height="8.2" fill="#eea23c"/>
<rect x="233.64" y="266" width="6.86" height="8.2" fill="#2f3f9f"/>
<rect x="233.64" y="274" width="6.86" height="8.2" fill="#2f3f9f"/>
<rect x="233.64" y="282" width="6.86" height="8.2" fill="#2f3f9f"/>
<rect x="233.64" y="290" width="6.86" height="8.2" fill="#2f3f9f"/>
<rect x="233.64" y="298" width="6.86" height="8.2" fill="#2f3f9f"/>
<rect x="240.20" y="266" width="6.86" height="8.2" fill="#eea23c"/>
<rect x="240.20" y="274" width="6.86" height="8.2" fill="#eea23c"/>
<rect x="240.20" y="282" width="6.86" height="8.2" fill="#eea23c"/>
<rect x="240.20" y="290" width="6.86" height="8.2" fill="#eea23c"/>
<rect x="240.20" y="298" width="6.86" height="8.2" fill="#d45a32"/>
<rect x="246.77" y="266" width="6.86" height="8.2" fill="#eea23c"/>
<rect x="246.77" y="274" width="6.86" height="8.2" fill="#eea23c"/>
<rect x="246.77" y="282" width="6.86" height="8.2" fill="#eea23c"/>
<rect x="246.77" y="290" width="6.86" height="8.2" fill="#eea23c"/>
<rect x="246.77" y="298" width="6.86" height="8.2" fill="#eea23c"/>
<rect x="253.33" y="266" width="6.86" height="8.2" fill="#35a84e"/>
<rect x="253.33" y="274" width="6.86" height="8.2" fill="#35a84e"/>
<rect x="253.33" y="282" width="6.86" height="8.2" fill="#35a84e"/>
<rect x="253.33" y="290" width="6.86" height="8.2" fill="#35a84e"/>
<rect x="253.33" y="298" width="6.86" height="8.2" fill="#35a84e"/>
<rect x="259.89" y="266" width="6.86" height="8.2" fill="#eea23c"/>
<rect x="259.89" y="274" width="6.86" height="8.2" fill="#eea23c"/>
<rect x="259.89" y="282" width="6.86" height="8.2" fill="#eea23c"/>
<rect x="259.89" y="290" width="6.86" height="8.2" fill="#eea23c"/>
<rect x="259.89" y="298" width="6.86" height="8.2" fill="#eea23c"/>
<rect x="266.46" y="266" width="6.86" height="8.2" fill="#2f3f9f"/>
<rect x="266.46" y="274" width="6.86" height="8.2" fill="#2f3f9f"/>
<rect x="266.46" y="282" width="6.86" height="8.2" fill="#2f3f9f"/>
<rect x="266.46" y="290" width="6.86" height="8.2" fill="#2f3f9f"/>
<rect x="266.46" y="298" width="6.86" height="8.2" fill="#2f3f9f"/>
<rect x="273.02" y="266" width="6.86" height="8.2" fill="#eea23c"/>
<rect x="273.02" y="274" width="6.86" height="8.2" fill="#eea23c"/>
<rect x="273.02" y="282" width="6.86" height="8.2" fill="#eea23c"/>
<rect x="273.02" y="290" width="6.86" height="8.2" fill="#eea23c"/>
<rect x="273.02" y="298" width="6.86" height="8.2" fill="#eea23c"/>
<g style="font-size:9.5px;font-weight:bold" text-anchor="middle">
<text x="13.78" y="273.6" fill="#5b73d3">C</text>
<text x="13.78" y="281.6" fill="#5b73d3">C</text>
<text x="13.78" y="289.6" fill="#5b73d3">C</text>
<text x="13.78" y="297.6" fill="#5b73d3">C</text>
<text x="13.78" y="305.6" fill="#5b73d3">C</text>
<text x="20.34" y="273.6" fill="#f7c52e" stroke="#6a3a08" stroke-width="0.7" paint-order="stroke">G</text>
<text x="20.34" y="281.6" fill="#f7c52e" stroke="#6a3a08" stroke-width="0.7" paint-order="stroke">G</text>
<text x="20.34" y="289.6" fill="#f7c52e" stroke="#6a3a08" stroke-width="0.7" paint-order="stroke">G</text>
<text x="20.34" y="297.6" fill="#f7c52e" stroke="#6a3a08" stroke-width="0.7" paint-order="stroke">G</text>
<text x="20.34" y="305.6" fill="#f7c52e" stroke="#6a3a08" stroke-width="0.7" paint-order="stroke">G</text>
<text x="26.91" y="273.6" fill="#7a2a12">A</text>
<text x="26.91" y="281.6" fill="#7a2a12">A</text>
<text x="26.91" y="289.6" fill="#7a2a12">A</text>
<text x="26.91" y="297.6" fill="#7a2a12">A</text>
<text x="26.91" y="305.6" fill="#7a2a12">A</text>
<text x="33.47" y="273.6" fill="#7a2a12">A</text>
<text x="33.47" y="281.6" fill="#7a2a12">A</text>
<text x="33.47" y="289.6" fill="#7a2a12">A</text>
<text x="33.47" y="297.6" fill="#7a2a12">A</text>
<text x="33.47" y="305.6" fill="#7a2a12">A</text>
<text x="40.03" y="273.6" fill="#1d6a2c">T</text>
<text x="40.03" y="281.6" fill="#1d6a2c">T</text>
<text x="40.03" y="289.6" fill="#1d6a2c">T</text>
<text x="40.03" y="297.6" fill="#1d6a2c">T</text>
<text x="40.03" y="305.6" fill="#1d6a2c">T</text>
<text x="46.60" y="273.6" fill="#5b73d3">C</text>
<text x="46.60" y="281.6" fill="#5b73d3">C</text>
<text x="46.60" y="289.6" fill="#5b73d3">C</text>
<text x="46.60" y="297.6" fill="#5b73d3">C</text>
<text x="46.60" y="305.6" fill="#5b73d3">C</text>
<text x="53.16" y="273.6" fill="#5b73d3">C</text>
<text x="53.16" y="281.6" fill="#5b73d3">C</text>
<text x="53.16" y="289.6" fill="#5b73d3">C</text>
<text x="53.16" y="297.6" fill="#5b73d3">C</text>
<text x="53.16" y="305.6" fill="#5b73d3">C</text>
<text x="59.72" y="273.6" fill="#5b73d3">C</text>
<text x="59.72" y="281.6" fill="#5b73d3">C</text>
<text x="59.72" y="289.6" fill="#5b73d3">C</text>
<text x="59.72" y="297.6" fill="#5b73d3">C</text>
<text x="59.72" y="305.6" fill="#5b73d3">C</text>
<text x="66.29" y="273.6" fill="#f7c52e" stroke="#6a3a08" stroke-width="0.7" paint-order="stroke">G</text>
<text x="66.29" y="281.6" fill="#f7c52e" stroke="#6a3a08" stroke-width="0.7" paint-order="stroke">G</text>
<text x="66.29" y="289.6" fill="#f7c52e" stroke="#6a3a08" stroke-width="0.7" paint-order="stroke">G</text>
<text x="66.29" y="297.6" fill="#f7c52e" stroke="#6a3a08" stroke-width="0.7" paint-order="stroke">G</text>
<text x="66.29" y="305.6" fill="#f7c52e" stroke="#6a3a08" stroke-width="0.7" paint-order="stroke">G</text>
<text x="72.85" y="273.6" fill="#5b73d3">C</text>
<text x="72.85" y="281.6" fill="#5b73d3">C</text>
<text x="72.85" y="289.6" fill="#5b73d3">C</text>
<text x="72.85" y="297.6" fill="#5b73d3">C</text>
<text x="72.85" y="305.6" fill="#5b73d3">C</text>
<text x="79.41" y="273.6" fill="#7a2a12">A</text>
<text x="79.41" y="281.6" fill="#7a2a12">A</text>
<text x="79.41" y="289.6" fill="#7a2a12">A</text>
<text x="79.41" y="297.6" fill="#7a2a12">A</text>
<text x="79.41" y="305.6" fill="#7a2a12">A</text>
<text x="85.97" y="273.6" fill="#1d6a2c">T</text>
<text x="85.97" y="281.6" fill="#1d6a2c">T</text>
<text x="85.97" y="289.6" fill="#1d6a2c">T</text>
<text x="85.97" y="297.6" fill="#1d6a2c">T</text>
<text x="85.97" y="305.6" fill="#1d6a2c">T</text>
<text x="92.54" y="273.6" fill="#f7c52e" stroke="#6a3a08" stroke-width="0.7" paint-order="stroke">G</text>
<text x="92.54" y="281.6" fill="#f7c52e" stroke="#6a3a08" stroke-width="0.7" paint-order="stroke">G</text>
<text x="92.54" y="289.6" fill="#f7c52e" stroke="#6a3a08" stroke-width="0.7" paint-order="stroke">G</text>
<text x="92.54" y="297.6" fill="#f7c52e" stroke="#6a3a08" stroke-width="0.7" paint-order="stroke">G</text>
<text x="92.54" y="305.6" fill="#f7c52e" stroke="#6a3a08" stroke-width="0.7" paint-order="stroke">G</text>
<text x="99.10" y="273.6" fill="#f7c52e" stroke="#6a3a08" stroke-width="0.7" paint-order="stroke">G</text>
<text x="99.10" y="281.6" fill="#f7c52e" stroke="#6a3a08" stroke-width="0.7" paint-order="stroke">G</text>
<text x="99.10" y="289.6" fill="#f7c52e" stroke="#6a3a08" stroke-width="0.7" paint-order="stroke">G</text>
<text x="99.10" y="297.6" fill="#f7c52e" stroke="#6a3a08" stroke-width="0.7" paint-order="stroke">G</text>
<text x="99.10" y="305.6" fill="#f7c52e" stroke="#6a3a08" stroke-width="0.7" paint-order="stroke">G</text>
<text x="105.66" y="273.6" fill="#5b73d3">C</text>
<text x="105.66" y="281.6" fill="#5b73d3">C</text>
<text x="105.66" y="289.6" fill="#5b73d3">C</text>
<text x="105.66" y="297.6" fill="#5b73d3">C</text>
<text x="105.66" y="305.6" fill="#5b73d3">C</text>
<text x="112.23" y="273.6" fill="#5b73d3">C</text>
<text x="112.23" y="281.6" fill="#5b73d3">C</text>
<text x="112.23" y="289.6" fill="#5b73d3">C</text>
<text x="112.23" y="297.6" fill="#5b73d3">C</text>
<text x="112.23" y="305.6" fill="#5b73d3">C</text>
<text x="118.79" y="273.6" fill="#5b73d3">C</text>
<text x="118.79" y="281.6" fill="#5b73d3">C</text>
<text x="118.79" y="289.6" fill="#5b73d3">C</text>
<text x="118.79" y="297.6" fill="#5b73d3">C</text>
<text x="118.79" y="305.6" fill="#5b73d3">C</text>
<text x="125.35" y="273.6" fill="#7a2a12">A</text>
<text x="125.35" y="281.6" fill="#7a2a12">A</text>
<text x="125.35" y="289.6" fill="#7a2a12">A</text>
<text x="125.35" y="297.6" fill="#7a2a12">A</text>
<text x="125.35" y="305.6" fill="#7a2a12">A</text>
<text x="131.92" y="273.6" fill="#5b73d3">C</text>
<text x="131.92" y="281.6" fill="#5b73d3">C</text>
<text x="131.92" y="289.6" fill="#5b73d3">C</text>
<text x="131.92" y="297.6" fill="#5b73d3">C</text>
<text x="131.92" y="305.6" fill="#5b73d3">C</text>
<text x="138.48" y="273.6" fill="#5b73d3">C</text>
<text x="138.48" y="281.6" fill="#f7c52e" stroke="#6a3a08" stroke-width="0.7" paint-order="stroke">G</text>
<text x="138.48" y="289.6" fill="#f7c52e" stroke="#6a3a08" stroke-width="0.7" paint-order="stroke">G</text>
<text x="138.48" y="297.6" fill="#f7c52e" stroke="#6a3a08" stroke-width="0.7" paint-order="stroke">G</text>
<text x="138.48" y="305.6" fill="#5b73d3">C</text>
<text x="145.04" y="273.6" fill="#5b73d3">C</text>
<text x="145.04" y="281.6" fill="#5b73d3">C</text>
<text x="145.04" y="289.6" fill="#5b73d3">C</text>
<text x="145.04" y="297.6" fill="#5b73d3">C</text>
<text x="145.04" y="305.6" fill="#5b73d3">C</text>
<text x="151.60" y="273.6" fill="#1d6a2c">T</text>
<text x="151.60" y="281.6" fill="#1d6a2c">T</text>
<text x="151.60" y="289.6" fill="#1d6a2c">T</text>
<text x="151.60" y="297.6" fill="#1d6a2c">T</text>
<text x="151.60" y="305.6" fill="#1d6a2c">T</text>
<text x="158.17" y="273.6" fill="#5b73d3">C</text>
<text x="158.17" y="281.6" fill="#5b73d3">C</text>
<text x="158.17" y="289.6" fill="#5b73d3">C</text>
<text x="158.17" y="297.6" fill="#5b73d3">C</text>
<text x="158.17" y="305.6" fill="#5b73d3">C</text>
<text x="164.73" y="273.6" fill="#5b73d3">C</text>
<text x="164.73" y="281.6" fill="#5b73d3">C</text>
<text x="164.73" y="289.6" fill="#5b73d3">C</text>
<text x="164.73" y="297.6" fill="#5b73d3">C</text>
<text x="164.73" y="305.6" fill="#5b73d3">C</text>
<text x="171.29" y="273.6" fill="#5b73d3">C</text>
<text x="171.29" y="281.6" fill="#5b73d3">C</text>
<text x="171.29" y="289.6" fill="#5b73d3">C</text>
<text x="171.29" y="297.6" fill="#5b73d3">C</text>
<text x="171.29" y="305.6" fill="#5b73d3">C</text>
<text x="177.86" y="273.6" fill="#5b73d3">C</text>
<text x="177.86" y="281.6" fill="#5b73d3">C</text>
<text x="177.86" y="289.6" fill="#5b73d3">C</text>
<text x="177.86" y="297.6" fill="#5b73d3">C</text>
<text x="177.86" y="305.6" fill="#1d6a2c">T</text>
<text x="184.42" y="273.6" fill="#1d6a2c">T</text>
<text x="184.42" y="281.6" fill="#1d6a2c">T</text>
<text x="184.42" y="289.6" fill="#1d6a2c">T</text>
<text x="184.42" y="297.6" fill="#1d6a2c">T</text>
<text x="184.42" y="305.6" fill="#1d6a2c">T</text>
<text x="190.98" y="273.6" fill="#5b73d3">C</text>
<text x="190.98" y="281.6" fill="#5b73d3">C</text>
<text x="190.98" y="289.6" fill="#5b73d3">C</text>
<text x="190.98" y="297.6" fill="#5b73d3">C</text>
<text x="190.98" y="305.6" fill="#5b73d3">C</text>
<text x="197.55" y="273.6" fill="#5b73d3">C</text>
<text x="197.55" y="281.6" fill="#5b73d3">C</text>
<text x="197.55" y="289.6" fill="#5b73d3">C</text>
<text x="197.55" y="297.6" fill="#5b73d3">C</text>
<text x="197.55" y="305.6" fill="#5b73d3">C</text>
<text x="204.11" y="273.6" fill="#1d6a2c">T</text>
<text x="204.11" y="281.6" fill="#1d6a2c">T</text>
<text x="204.11" y="289.6" fill="#1d6a2c">T</text>
<text x="204.11" y="297.6" fill="#1d6a2c">T</text>
<text x="204.11" y="305.6" fill="#1d6a2c">T</text>
<text x="210.67" y="273.6" fill="#f7c52e" stroke="#6a3a08" stroke-width="0.7" paint-order="stroke">G</text>
<text x="210.67" y="281.6" fill="#f7c52e" stroke="#6a3a08" stroke-width="0.7" paint-order="stroke">G</text>
<text x="210.67" y="289.6" fill="#f7c52e" stroke="#6a3a08" stroke-width="0.7" paint-order="stroke">G</text>
<text x="210.67" y="297.6" fill="#f7c52e" stroke="#6a3a08" stroke-width="0.7" paint-order="stroke">G</text>
<text x="210.67" y="305.6" fill="#f7c52e" stroke="#6a3a08" stroke-width="0.7" paint-order="stroke">G</text>
<text x="217.23" y="273.6" fill="#5b73d3">C</text>
<text x="217.23" y="281.6" fill="#5b73d3">C</text>
<text x="217.23" y="289.6" fill="#5b73d3">C</text>
<text x="217.23" y="297.6" fill="#5b73d3">C</text>
<text x="217.23" y="305.6" fill="#5b73d3">C</text>
<text x="223.80" y="273.6" fill="#7a2a12">A</text>
<text x="223.80" y="281.6" fill="#7a2a12">A</text>
<text x="223.80" y="289.6" fill="#7a2a12">A</text>
<text x="223.80" y="297.6" fill="#7a2a12">A</text>
<text x="223.80" y="305.6" fill="#7a2a12">A</text>
<text x="230.36" y="273.6" fill="#f7c52e" stroke="#6a3a08" stroke-width="0.7" paint-order="stroke">G</text>
<text x="230.36" y="281.6" fill="#f7c52e" stroke="#6a3a08" stroke-width="0.7" paint-order="stroke">G</text>
<text x="230.36" y="289.6" fill="#f7c52e" stroke="#6a3a08" stroke-width="0.7" paint-order="stroke">G</text>
<text x="230.36" y="297.6" fill="#f7c52e" stroke="#6a3a08" stroke-width="0.7" paint-order="stroke">G</text>
<text x="230.36" y="305.6" fill="#f7c52e" stroke="#6a3a08" stroke-width="0.7" paint-order="stroke">G</text>
<text x="236.92" y="273.6" fill="#5b73d3">C</text>
<text x="236.92" y="281.6" fill="#5b73d3">C</text>
<text x="236.92" y="289.6" fill="#5b73d3">C</text>
<text x="236.92" y="297.6" fill="#5b73d3">C</text>
<text x="236.92" y="305.6" fill="#5b73d3">C</text>
<text x="243.49" y="273.6" fill="#f7c52e" stroke="#6a3a08" stroke-width="0.7" paint-order="stroke">G</text>
<text x="243.49" y="281.6" fill="#f7c52e" stroke="#6a3a08" stroke-width="0.7" paint-order="stroke">G</text>
<text x="243.49" y="289.6" fill="#f7c52e" stroke="#6a3a08" stroke-width="0.7" paint-order="stroke">G</text>
<text x="243.49" y="297.6" fill="#f7c52e" stroke="#6a3a08" stroke-width="0.7" paint-order="stroke">G</text>
<text x="243.49" y="305.6" fill="#7a2a12">A</text>
<text x="250.05" y="273.6" fill="#f7c52e" stroke="#6a3a08" stroke-width="0.7" paint-order="stroke">G</text>
<text x="250.05" y="281.6" fill="#f7c52e" stroke="#6a3a08" stroke-width="0.7" paint-order="stroke">G</text>
<text x="250.05" y="289.6" fill="#f7c52e" stroke="#6a3a08" stroke-width="0.7" paint-order="stroke">G</text>
<text x="250.05" y="297.6" fill="#f7c52e" stroke="#6a3a08" stroke-width="0.7" paint-order="stroke">G</text>
<text x="250.05" y="305.6" fill="#f7c52e" stroke="#6a3a08" stroke-width="0.7" paint-order="stroke">G</text>
<text x="256.61" y="273.6" fill="#1d6a2c">T</text>
<text x="256.61" y="281.6" fill="#1d6a2c">T</text>
<text x="256.61" y="289.6" fill="#1d6a2c">T</text>
<text x="256.61" y="297.6" fill="#1d6a2c">T</text>
<text x="256.61" y="305.6" fill="#1d6a2c">T</text>
<text x="263.18" y="273.6" fill="#f7c52e" stroke="#6a3a08" stroke-width="0.7" paint-order="stroke">G</text>
<text x="263.18" y="281.6" fill="#f7c52e" stroke="#6a3a08" stroke-width="0.7" paint-order="stroke">G</text>
<text x="263.18" y="289.6" fill="#f7c52e" stroke="#6a3a08" stroke-width="0.7" paint-order="stroke">G</text>
<text x="263.18" y="297.6" fill="#f7c52e" stroke="#6a3a08" stroke-width="0.7" paint-order="stroke">G</text>
<text x="263.18" y="305.6" fill="#f7c52e" stroke="#6a3a08" stroke-width="0.7" paint-order="stroke">G</text>
<text x="269.74" y="273.6" fill="#5b73d3">C</text>
<text x="269.74" y="281.6" fill="#5b73d3">C</text>
<text x="269.74" y="289.6" fill="#5b73d3">C</text>
<text x="269.74" y="297.6" fill="#5b73d3">C</text>
<text x="269.74" y="305.6" fill="#5b73d3">C</text>
<text x="276.30" y="273.6" fill="#f7c52e" stroke="#6a3a08" stroke-width="0.7" paint-order="stroke">G</text>
<text x="276.30" y="281.6" fill="#f7c52e" stroke="#6a3a08" stroke-width="0.7" paint-order="stroke">G</text>
<text x="276.30" y="289.6" fill="#f7c52e" stroke="#6a3a08" stroke-width="0.7" paint-order="stroke">G</text>
<text x="276.30" y="297.6" fill="#f7c52e" stroke="#6a3a08" stroke-width="0.7" paint-order="stroke">G</text>
<text x="276.30" y="305.6" fill="#f7c52e" stroke="#6a3a08" stroke-width="0.7" paint-order="stroke">G</text>
</g>
<rect x="12.98" y="262.5" width="1.6" height="2" fill="#333"/>
<rect x="19.64" y="260.5" width="1.4" height="4" fill="#222"/>
<text x="20.0" y="258.0" font-size="8.5" text-anchor="start" fill="#111" font-weight="normal" font-style="normal" stroke="#111" stroke-width="0.25">100</text>
<rect x="26.11" y="262.5" width="1.6" height="2" fill="#333"/>
<rect x="32.67" y="262.5" width="1.6" height="2" fill="#333"/>
<rect x="39.23" y="262.5" width="1.6" height="2" fill="#333"/>
<rect x="45.80" y="262.5" width="1.6" height="2" fill="#333"/>
<rect x="52.46" y="260.5" width="1.4" height="4" fill="#222"/>
<text x="52.9" y="258.0" font-size="8.5" text-anchor="start" fill="#111" font-weight="normal" font-style="normal" stroke="#111" stroke-width="0.25">105</text>
<rect x="58.92" y="262.5" width="1.6" height="2" fill="#333"/>
<rect x="65.49" y="262.5" width="1.6" height="2" fill="#333"/>
<rect x="72.05" y="262.5" width="1.6" height="2" fill="#333"/>
<rect x="78.61" y="262.5" width="1.6" height="2" fill="#333"/>
<rect x="85.27" y="260.5" width="1.4" height="4" fill="#222"/>
<text x="85.7" y="258.0" font-size="8.5" text-anchor="start" fill="#111" font-weight="normal" font-style="normal" stroke="#111" stroke-width="0.25">110</text>
<rect x="91.74" y="262.5" width="1.6" height="2" fill="#333"/>
<rect x="98.30" y="262.5" width="1.6" height="2" fill="#333"/>
<rect x="104.86" y="262.5" width="1.6" height="2" fill="#333"/>
<rect x="111.43" y="262.5" width="1.6" height="2" fill="#333"/>
<rect x="118.09" y="260.5" width="1.4" height="4" fill="#222"/>
<text x="118.5" y="258.0" font-size="8.5" text-anchor="start" fill="#111" font-weight="normal" font-style="normal" stroke="#111" stroke-width="0.25">115</text>
<rect x="124.55" y="262.5" width="1.6" height="2" fill="#333"/>
<rect x="131.12" y="262.5" width="1.6" height="2" fill="#333"/>
<rect x="137.68" y="262.5" width="1.6" height="2" fill="#333"/>
<rect x="144.24" y="262.5" width="1.6" height="2" fill="#333"/>
<rect x="150.90" y="260.5" width="1.4" height="4" fill="#222"/>
<text x="151.3" y="258.0" font-size="8.5" text-anchor="start" fill="#111" font-weight="normal" font-style="normal" stroke="#111" stroke-width="0.25">120</text>
<rect x="157.37" y="262.5" width="1.6" height="2" fill="#333"/>
<rect x="163.93" y="262.5" width="1.6" height="2" fill="#333"/>
<rect x="170.49" y="262.5" width="1.6" height="2" fill="#333"/>
<rect x="177.06" y="262.5" width="1.6" height="2" fill="#333"/>
<rect x="183.72" y="260.5" width="1.4" height="4" fill="#222"/>
<text x="184.1" y="258.0" font-size="8.5" text-anchor="start" fill="#111" font-weight="normal" font-style="normal" stroke="#111" stroke-width="0.25">125</text>
<rect x="190.18" y="262.5" width="1.6" height="2" fill="#333"/>
<rect x="196.75" y="262.5" width="1.6" height="2" fill="#333"/>
<rect x="203.31" y="262.5" width="1.6" height="2" fill="#333"/>
<rect x="209.87" y="262.5" width="1.6" height="2" fill="#333"/>
<rect x="216.53" y="260.5" width="1.4" height="4" fill="#222"/>
<text x="216.9" y="258.0" font-size="8.5" text-anchor="start" fill="#111" font-weight="normal" font-style="normal" stroke="#111" stroke-width="0.25">130</text>
<rect x="223.00" y="262.5" width="1.6" height="2" fill="#333"/>
<rect x="229.56" y="262.5" width="1.6" height="2" fill="#333"/>
<rect x="236.12" y="262.5" width="1.6" height="2" fill="#333"/>
<rect x="242.69" y="262.5" width="1.6" height="2" fill="#333"/>
<rect x="249.35" y="260.5" width="1.4" height="4" fill="#222"/>
<text x="249.7" y="258.0" font-size="8.5" text-anchor="start" fill="#111" font-weight="normal" font-style="normal" stroke="#111" stroke-width="0.25">135</text>
<rect x="255.81" y="262.5" width="1.6" height="2" fill="#333"/>
<rect x="262.38" y="262.5" width="1.6" height="2" fill="#333"/>
<rect x="268.94" y="262.5" width="1.6" height="2" fill="#333"/>
<rect x="275.50" y="262.5" width="1.6" height="2" fill="#333"/>
<text x="10.5" y="323.0" font-size="15" text-anchor="start" fill="#000" font-weight="normal" font-style="normal" >Exome alignment on common ancestor</text>
<g transform="translate(43,352) scale(0.2727)"><path d="M54.9,0 C50.3,0 46,0.4 42.2,1.1 C31,3.1 29,7.2 29,14.9 L29,25 L55.2,25 L55.2,28.4 L29,28.4 L19,28.4 C11.4,28.4 4.8,33 2.7,41.6 C0.3,51.5 0.2,57.7 2.7,68 C4.6,75.7 8.9,81.1 16.5,81.1 L25.4,81.1 L25.4,69.3 C25.4,60.7 32.9,53.1 41.7,53.1 L67.9,53.1 C75.2,53.1 81,47.1 81,39.9 L81,14.9 C81,7.8 75,2.5 67.9,1.3 C63.4,0.5 58.7,0.2 54.9,0 Z" fill="#2f86c2"/><path d="M84.9,28.4 L84.9,39.9 C84.9,48.8 77.4,56.3 68.7,56.3 L42.5,56.3 C35.3,56.3 29.4,62.4 29.4,69.6 L29.4,94.6 C29.4,101.7 35.6,105.9 42.5,107.9 C50.8,110.4 58.8,110.8 68.7,107.9 C75.3,106 81.7,102.2 81.7,94.6 L81.7,84.6 L55.6,84.6 L55.6,81.1 L81.7,81.1 L94.9,81.1 C102.5,81.1 105.3,75.8 107.9,68 C110.6,60 110.5,52.3 107.9,41.6 C106,34 102.4,28.4 94.9,28.4 Z" fill="#f7d668"/><circle cx="39.8" cy="12.6" r="4.9" fill="#fff"/><circle cx="70" cy="96" r="4.9" fill="#fff"/></g>
<text x="90.4" y="362.0" font-size="15" text-anchor="start" fill="#000" font-weight="normal" font-style="normal" >Extraction of Consensus</text>
<text x="90.4" y="380.6" font-size="15" text-anchor="start" fill="#000" font-weight="normal" font-style="normal" >Coding Sequence (CCDS)</text>
<line x1="79.7" y1="335.4" x2="79.7" y2="393.2" stroke="#000" stroke-width="2.5" />
<polygon points="73.7,392.2 85.7,392.2 79.7,403.2" fill="#000"/>
<text x="79.7" y="421.7" font-size="15" text-anchor="middle" fill="#000" font-weight="normal" font-style="normal" >CCDS</text>
<g fill="none" stroke="#c8305a" stroke-width="1.3" stroke-linecap="round"><path d="M54.6,451.7 Q50,450.5 48.5,449.3 Q46.5,447 46,444 M50.3,449.9 Q52.5,447 52.2,444.3"/><path d="M53.4,462.8 Q48,462.5 46,461 Q43.5,458 43.9,454.2 M47.9,461 Q48.8,458 48.2,455.4"/><path d="M59.6,454.2 Q63,453 63.9,451.7 Q64.8,450 64.5,448"/><path d="M59.6,459.7 Q66,459 68.8,457.3 Q71,455.5 71.3,454.2 Q74,453.5 76.2,451.7 M70.2,455.6 Q70.5,452.5 70,450.5"/></g>
<path d="M55.9,440 Q59.5,447 59.9,456.6 Q59.5,468 56.5,474 Q54,476.8 52.2,476.4 Q48.5,476 49.3,473.5 Q52.5,466 54,458 Q55,448 55.9,440 Z" fill="#e8305c"/>
<text x="90.4" y="455.6" font-size="15" text-anchor="start" fill="#000" font-weight="normal" font-style="normal" >Phylogenetic Analysis</text>
<text x="90.4" y="473.0" font-size="15" text-anchor="start" fill="#000" font-weight="normal" font-style="normal" >by Maximum Likelihood</text>
<g transform="translate(315,361) rotate(-13)"><rect x="-14" y="-13" width="28" height="26" rx="2" fill="#8c8c8c"/><rect x="-12.3" y="-11.3" width="24.6" height="22.6" rx="1.2" fill="#161616"/><rect x="-12.3" y="-11.3" width="24.6" height="9" rx="1.2" fill="#3a3a3a"/><path d="M-9.5,-7.5 L-6,-5.2 L-9.5,-3" stroke="#eee" stroke-width="1.3" fill="none"/><path d="M-5,-3.2 H-0.5" stroke="#eee" stroke-width="1.2"/></g>
<text x="348.7" y="356.0" font-size="15" text-anchor="start" fill="#000" font-weight="normal" font-style="normal" >Functional</text>
<text x="348.7" y="373.8" font-size="15" text-anchor="start" fill="#000" font-weight="normal" font-style="normal" >Annotation</text>
<text x="340.7" y="421.6" font-size="15" text-anchor="middle" fill="#000" font-weight="normal" font-style="normal" >Annotated VCF</text>
<line x1="79.6" y1="430.0" x2="79.6" y2="580.0" stroke="#000" stroke-width="2.5" />
<polygon points="73.6,579.0 85.6,579.0 79.6,590.0" fill="#000"/>
<line x1="340.5" y1="430.0" x2="340.5" y2="580.0" stroke="#000" stroke-width="2.5" />
<polygon points="334.5,579.0 346.5,579.0 340.5,590.0" fill="#000"/>
<line x1="79.6" y1="526.2" x2="107.5" y2="526.2" stroke="#000" stroke-width="2.5" />
<polygon points="106.5,520.2 106.5,532.2 117.5,526.2" fill="#000"/>
<line x1="295.6" y1="526.2" x2="330.3" y2="526.2" stroke="#000" stroke-width="2.5" />
<polygon points="329.3,520.2 329.3,532.2 340.3,526.2" fill="#000"/>
<text x="125.3" y="522.0" font-size="15" text-anchor="start" fill="#000" font-weight="normal" font-style="normal" >Number of synonymous</text>
<text x="125.3" y="540.0" font-size="15" text-anchor="start" fill="#000" font-weight="normal" font-style="normal" >&amp; nonsynonymous sites</text>
<g transform="translate(302,534) scale(0.2727)"><path d="M54.9,0 C50.3,0 46,0.4 42.2,1.1 C31,3.1 29,7.2 29,14.9 L29,25 L55.2,25 L55.2,28.4 L29,28.4 L19,28.4 C11.4,28.4 4.8,33 2.7,41.6 C0.3,51.5 0.2,57.7 2.7,68 C4.6,75.7 8.9,81.1 16.5,81.1 L25.4,81.1 L25.4,69.3 C25.4,60.7 32.9,53.1 41.7,53.1 L67.9,53.1 C75.2,53.1 81,47.1 81,39.9 L81,14.9 C81,7.8 75,2.5 67.9,1.3 C63.4,0.5 58.7,0.2 54.9,0 Z" fill="#2f86c2"/><path d="M84.9,28.4 L84.9,39.9 C84.9,48.8 77.4,56.3 68.7,56.3 L42.5,56.3 C35.3,56.3 29.4,62.4 29.4,69.6 L29.4,94.6 C29.4,101.7 35.6,105.9 42.5,107.9 C50.8,110.4 58.8,110.8 68.7,107.9 C75.3,106 81.7,102.2 81.7,94.6 L81.7,84.6 L55.6,84.6 L55.6,81.1 L81.7,81.1 L94.9,81.1 C102.5,81.1 105.3,75.8 107.9,68 C110.6,60 110.5,52.3 107.9,41.6 C106,34 102.4,28.4 94.9,28.4 Z" fill="#f7d668"/><circle cx="39.8" cy="12.6" r="4.9" fill="#fff"/><circle cx="70" cy="96" r="4.9" fill="#fff"/></g>
<text x="348.8" y="555.0" font-size="15" text-anchor="start" fill="#000" font-weight="normal" font-style="normal" >Fusion</text>
<text x="64" y="607.2" font-size="15.5" font-style="italic">d<tspan font-size="8.5" font-style="normal" dy="4.3">N</tspan><tspan dy="-4.3">/d</tspan><tspan font-size="8.5" font-style="normal" dy="4.3">S</tspan></text>
<text x="325" y="607.2" font-size="15.5" font-style="italic">p<tspan font-size="8.5" font-style="normal" dy="4.3">N</tspan><tspan dy="-4.3">/p</tspan><tspan font-size="8.5" font-style="normal" dy="4.3">S</tspan></text>
<line x1="79.6" y1="614.0" x2="79.6" y2="659.2" stroke="#000" stroke-width="2.5" />
<line x1="341.0" y1="614.0" x2="341.0" y2="659.2" stroke="#000" stroke-width="2.5" />
<line x1="41.5" y1="658.0" x2="342.2" y2="658.0" stroke="#000" stroke-width="2.5" />
<line x1="42.7" y1="657.0" x2="42.7" y2="716.8" stroke="#000" stroke-width="2.5" />
<polygon points="36.7,715.8 48.7,715.8 42.7,726.8" fill="#000"/>
<line x1="304.0" y1="657.0" x2="304.0" y2="716.8" stroke="#000" stroke-width="2.5" />
<polygon points="298.0,715.8 310.0,715.8 304.0,726.8" fill="#000"/>
<g transform="translate(6.7,674.4) scale(0.2727)"><path d="M54.9,0 C50.3,0 46,0.4 42.2,1.1 C31,3.1 29,7.2 29,14.9 L29,25 L55.2,25 L55.2,28.4 L29,28.4 L19,28.4 C11.4,28.4 4.8,33 2.7,41.6 C0.3,51.5 0.2,57.7 2.7,68 C4.6,75.7 8.9,81.1 16.5,81.1 L25.4,81.1 L25.4,69.3 C25.4,60.7 32.9,53.1 41.7,53.1 L67.9,53.1 C75.2,53.1 81,47.1 81,39.9 L81,14.9 C81,7.8 75,2.5 67.9,1.3 C63.4,0.5 58.7,0.2 54.9,0 Z" fill="#2f86c2"/><path d="M84.9,28.4 L84.9,39.9 C84.9,48.8 77.4,56.3 68.7,56.3 L42.5,56.3 C35.3,56.3 29.4,62.4 29.4,69.6 L29.4,94.6 C29.4,101.7 35.6,105.9 42.5,107.9 C50.8,110.4 58.8,110.8 68.7,107.9 C75.3,106 81.7,102.2 81.7,94.6 L81.7,84.6 L55.6,84.6 L55.6,81.1 L81.7,81.1 L94.9,81.1 C102.5,81.1 105.3,75.8 107.9,68 C110.6,60 110.5,52.3 107.9,41.6 C106,34 102.4,28.4 94.9,28.4 Z" fill="#f7d668"/><circle cx="39.8" cy="12.6" r="4.9" fill="#fff"/><circle cx="70" cy="96" r="4.9" fill="#fff"/></g>
<text x="53.7" y="684.5" font-size="15" text-anchor="start" fill="#000" font-weight="normal" font-style="normal" >Correction for</text>
<text x="53.7" y="702.3" font-size="15" text-anchor="start" fill="#000" font-weight="normal" font-style="normal" >GC12 content</text>
<g transform="translate(267.7,673.7) scale(0.2727)"><path d="M54.9,0 C50.3,0 46,0.4 42.2,1.1 C31,3.1 29,7.2 29,14.9 L29,25 L55.2,25 L55.2,28.4 L29,28.4 L19,28.4 C11.4,28.4 4.8,33 2.7,41.6 C0.3,51.5 0.2,57.7 2.7,68 C4.6,75.7 8.9,81.1 16.5,81.1 L25.4,81.1 L25.4,69.3 C25.4,60.7 32.9,53.1 41.7,53.1 L67.9,53.1 C75.2,53.1 81,47.1 81,39.9 L81,14.9 C81,7.8 75,2.5 67.9,1.3 C63.4,0.5 58.7,0.2 54.9,0 Z" fill="#2f86c2"/><path d="M84.9,28.4 L84.9,39.9 C84.9,48.8 77.4,56.3 68.7,56.3 L42.5,56.3 C35.3,56.3 29.4,62.4 29.4,69.6 L29.4,94.6 C29.4,101.7 35.6,105.9 42.5,107.9 C50.8,110.4 58.8,110.8 68.7,107.9 C75.3,106 81.7,102.2 81.7,94.6 L81.7,84.6 L55.6,84.6 L55.6,81.1 L81.7,81.1 L94.9,81.1 C102.5,81.1 105.3,75.8 107.9,68 C110.6,60 110.5,52.3 107.9,41.6 C106,34 102.4,28.4 94.9,28.4 Z" fill="#f7d668"/><circle cx="39.8" cy="12.6" r="4.9" fill="#fff"/><circle cx="70" cy="96" r="4.9" fill="#fff"/></g>
<text x="310.7" y="695.6" font-size="15" text-anchor="start" fill="#000" font-weight="normal" font-style="normal" >Fusion</text>
<text x="0" y="0" font-size="20.5" stroke="#000" stroke-width="0.5" transform="translate(29.3,750.6) scale(1,1.17)">ω</text>
<text x="47.2" y="753.0" font-size="8" text-anchor="start" fill="#000" font-weight="normal" font-style="normal" >GC</text>
<text x="305.0" y="747.6" font-size="15" text-anchor="middle" fill="#000" font-weight="normal" font-style="normal" >Neutrality Index (NI)</text>
<text x="308.8" y="765.0" font-size="15" text-anchor="middle" fill="#000" font-weight="normal" font-style="normal" >Direction of Selection (DoS)</text>
<line x1="621.0" y1="7.3" x2="990.0" y2="7.3" stroke="#cfcfcf" stroke-width="1.2" />
<text x="616.6" y="11.9" font-size="15" text-anchor="end" fill="#000" font-weight="normal" font-style="normal" >200</text>
<line x1="621.0" y1="31.7" x2="990.0" y2="31.7" stroke="#cfcfcf" stroke-width="1.2" />
<text x="616.6" y="36.3" font-size="15" text-anchor="end" fill="#000" font-weight="normal" font-style="normal" >150</text>
<line x1="621.0" y1="56.0" x2="990.0" y2="56.0" stroke="#cfcfcf" stroke-width="1.2" />
<text x="616.6" y="60.6" font-size="15" text-anchor="end" fill="#000" font-weight="normal" font-style="normal" >100</text>
<line x1="621.0" y1="80.2" x2="1278.4" y2="80.2" stroke="#cfcfcf" stroke-width="1.2" />
<text x="616.6" y="84.8" font-size="15" text-anchor="end" fill="#000" font-weight="normal" font-style="normal" >50</text>
<line x1="620.6" y1="0.0" x2="620.6" y2="104.0" stroke="#c8c8c8" stroke-width="1.2" />
<text transform="translate(584,42.3) rotate(-90)" font-size="17" text-anchor="middle">Distance</text>
<g stroke-linejoin="miter"><path d="M726.0,59.8 V5.5 H990.0 V57.2" stroke="#000" stroke-width="2.8" fill="none"/><path d="M659.6,80.7 V59.8 H792.4 V75.5" stroke="#1b9dd0" stroke-width="2.8" fill="none"/><path d="M636.4,95.4 V80.7 H683.8 V87.7" stroke="#1b9dd0" stroke-width="1.5" fill="none"/><path d="M628.4,99.0 V95.4 H644.6 V98.5" stroke="#1b9dd0" stroke-width="1.2" fill="none"/><path d="M623.1,99.9 V99.0 H632.0 V100.8" stroke="#1b9dd0" stroke-width="1.1" fill="none"/><path d="M621.6,100.6 V99.9 H625.3 V101.2" stroke="#1b9dd0" stroke-width="1.1" fill="none"/><path d="M620.9,102.2 V100.6 H622.4 V101.3" stroke="#1b9dd0" stroke-width="1.1" fill="none"/><path d="M620.9,102.2 V104" stroke="#1b9dd0" stroke-width="1" fill="none"/><path d="M622.4,101.3 V104" stroke="#1b9dd0" stroke-width="1" fill="none"/><path d="M624.2,102.3 V101.2 H626.3 V102.1" stroke="#1b9dd0" stroke-width="1.1" fill="none"/><path d="M624.2,102.3 V104" stroke="#1b9dd0" stroke-width="1" fill="none"/><path d="M625.5,102.6 V102.1 H626.9 V102.5" stroke="#1b9dd0" stroke-width="1.1" fill="none"/><path d="M625.5,102.6 V104" stroke="#1b9dd0" stroke-width="1" fill="none"/><path d="M626.9,102.5 V104" stroke="#1b9dd0" stroke-width="1" fill="none"/><path d="M628.5,101.5 V100.8 H633.7 V102.0" stroke="#1b9dd0" stroke-width="1.1" fill="none"/><path d="M627.9,102.0 V101.5 H629.6 V102.0" stroke="#1b9dd0" stroke-width="1.1" fill="none"/><path d="M627.9,102.0 V104" stroke="#1b9dd0" stroke-width="1" fill="none"/><path d="M629.6,102.0 V104" stroke="#1b9dd0" stroke-width="1" fill="none"/><path d="M631.5,102.6 V102.0 H634.1 V102.8" stroke="#1b9dd0" stroke-width="1.1" fill="none"/><path d="M631.5,102.6 V104" stroke="#1b9dd0" stroke-width="1" fill="none"/><path d="M634.1,102.8 V104" stroke="#1b9dd0" stroke-width="1" fill="none"/><path d="M639.4,100.9 V98.5 H648.6 V99.9" stroke="#1b9dd0" stroke-width="1.1" fill="none"/><path d="M638.1,102.2 V100.9 H642.3 V101.7" stroke="#1b9dd0" stroke-width="1.1" fill="none"/><path d="M637.1,103.0 V102.2 H639.4 V102.6" stroke="#1b9dd0" stroke-width="1.1" fill="none"/><path d="M637.1,103.0 V104" stroke="#1b9dd0" stroke-width="1" fill="none"/><path d="M639.4,102.6 V104" stroke="#1b9dd0" stroke-width="1" fill="none"/><path d="M640.7,102.7 V101.7 H642.9 V102.6" stroke="#1b9dd0" stroke-width="1.1" fill="none"/><path d="M640.7,102.7 V104" stroke="#1b9dd0" stroke-width="1" fill="none"/><path d="M642.9,102.6 V104" stroke="#1b9dd0" stroke-width="1" fill="none"/><path d="M646.1,101.5 V99.9 H650.7 V101.4" stroke="#1b9dd0" stroke-width="1.1" fill="none"/><path d="M645.3,102.3 V101.5 H648.1 V102.5" stroke="#1b9dd0" stroke-width="1.1" fill="none"/><path d="M644.2,103.2 V102.3 H645.5 V103.1" stroke="#1b9dd0" stroke-width="1.1" fill="none"/><path d="M644.2,103.2 V104" stroke="#1b9dd0" stroke-width="1" fill="none"/><path d="M645.5,103.1 V104" stroke="#1b9dd0" stroke-width="1" fill="none"/><path d="M648.1,102.5 V104" stroke="#1b9dd0" stroke-width="1" fill="none"/><path d="M649.7,101.8 V101.4 H651.2 V102.3" stroke="#1b9dd0" stroke-width="1.1" fill="none"/><path d="M649.7,101.8 V104" stroke="#1b9dd0" stroke-width="1" fill="none"/><path d="M651.2,102.3 V104" stroke="#1b9dd0" stroke-width="1" fill="none"/><path d="M673.5,95.0 V87.7 H693.1 V92.5" stroke="#1b9dd0" stroke-width="1.3" fill="none"/><path d="M656.4,99.1 V95.0 H670.6 V96.8" stroke="#1b9dd0" stroke-width="1.1" fill="none"/><path d="M654.1,100.0 V99.1 H660.7 V100.7" stroke="#1b9dd0" stroke-width="1.1" fill="none"/><path d="M653.5,102.0 V100.0 H655.7 V101.0" stroke="#1b9dd0" stroke-width="1.1" fill="none"/><path d="M652.5,103.1 V102.0 H653.9 V102.4" stroke="#1b9dd0" stroke-width="1.1" fill="none"/><path d="M652.5,103.1 V104" stroke="#1b9dd0" stroke-width="1" fill="none"/><path d="M653.9,102.4 V104" stroke="#1b9dd0" stroke-width="1" fill="none"/><path d="M655.7,101.0 V104" stroke="#1b9dd0" stroke-width="1" fill="none"/><path d="M657.6,101.9 V100.7 H660.9 V102.0" stroke="#1b9dd0" stroke-width="1.1" fill="none"/><path d="M656.9,102.5 V101.9 H658.3 V102.7" stroke="#1b9dd0" stroke-width="1.1" fill="none"/><path d="M656.9,102.5 V104" stroke="#1b9dd0" stroke-width="1" fill="none"/><path d="M658.3,102.7 V104" stroke="#1b9dd0" stroke-width="1" fill="none"/><path d="M660.7,102.8 V102.0 H662.7 V102.8" stroke="#1b9dd0" stroke-width="1.1" fill="none"/><path d="M660.7,102.8 V104" stroke="#1b9dd0" stroke-width="1" fill="none"/><path d="M662.7,102.8 V104" stroke="#1b9dd0" stroke-width="1" fill="none"/><path d="M667.3,100.4 V96.8 H677.5 V100.2" stroke="#1b9dd0" stroke-width="1.1" fill="none"/><path d="M664.7,101.9 V100.4 H667.6 V101.0" stroke="#1b9dd0" stroke-width="1.1" fill="none"/><path d="M663.8,102.5 V101.9 H665.1 V102.2" stroke="#1b9dd0" stroke-width="1.1" fill="none"/><path d="M663.8,102.5 V104" stroke="#1b9dd0" stroke-width="1" fill="none"/><path d="M665.1,102.2 V104" stroke="#1b9dd0" stroke-width="1" fill="none"/><path d="M666.7,101.9 V101.0 H668.2 V101.5" stroke="#1b9dd0" stroke-width="1.1" fill="none"/><path d="M666.7,101.9 V104" stroke="#1b9dd0" stroke-width="1" fill="none"/><path d="M668.1,102.1 V101.5 H669.2 V102.2" stroke="#1b9dd0" stroke-width="1.1" fill="none"/><path d="M668.1,102.1 V104" stroke="#1b9dd0" stroke-width="1" fill="none"/><path d="M669.2,102.2 V104" stroke="#1b9dd0" stroke-width="1" fill="none"/><path d="M672.0,102.3 V100.2 H680.1 V101.5" stroke="#1b9dd0" stroke-width="1.1" fill="none"/><path d="M670.8,102.8 V102.3 H673.8 V102.7" stroke="#1b9dd0" stroke-width="1.1" fill="none"/><path d="M670.8,102.8 V104" stroke="#1b9dd0" stroke-width="1" fill="none"/><path d="M673.8,102.7 V104" stroke="#1b9dd0" stroke-width="1" fill="none"/><path d="M677.5,102.8 V101.5 H681.3 V102.4" stroke="#1b9dd0" stroke-width="1.1" fill="none"/><path d="M677.5,102.8 V104" stroke="#1b9dd0" stroke-width="1" fill="none"/><path d="M680.8,103.0 V102.4 H681.9 V103.3" stroke="#1b9dd0" stroke-width="1.1" fill="none"/><path d="M680.8,103.0 V104" stroke="#1b9dd0" stroke-width="1" fill="none"/><path d="M681.9,103.3 V104" stroke="#1b9dd0" stroke-width="1" fill="none"/><path d="M690.9,95.9 V92.5 H700.5 V95.0" stroke="#1b9dd0" stroke-width="1.1" fill="none"/><path d="M687.4,98.2 V95.9 H694.9 V97.8" stroke="#1b9dd0" stroke-width="1.1" fill="none"/><path d="M686.5,100.9 V98.2 H690.4 V101.0" stroke="#1b9dd0" stroke-width="1.1" fill="none"/><path d="M684.3,101.8 V100.9 H687.3 V101.4" stroke="#1b9dd0" stroke-width="1.1" fill="none"/><path d="M683.4,102.8 V101.8 H684.9 V103.0" stroke="#1b9dd0" stroke-width="1.1" fill="none"/><path d="M683.4,102.8 V104" stroke="#1b9dd0" stroke-width="1" fill="none"/><path d="M684.9,103.0 V104" stroke="#1b9dd0" stroke-width="1" fill="none"/><path d="M687.3,101.4 V104" stroke="#1b9dd0" stroke-width="1" fill="none"/><path d="M689.4,102.6 V101.0 H691.0 V101.9" stroke="#1b9dd0" stroke-width="1.1" fill="none"/><path d="M689.4,102.6 V104" stroke="#1b9dd0" stroke-width="1" fill="none"/><path d="M691.0,101.9 V104" stroke="#1b9dd0" stroke-width="1" fill="none"/><path d="M692.5,99.3 V97.8 H695.2 V100.3" stroke="#1b9dd0" stroke-width="1.1" fill="none"/><path d="M692.5,99.3 V104" stroke="#1b9dd0" stroke-width="1" fill="none"/><path d="M695.1,101.8 V100.3 H696.6 V102.0" stroke="#1b9dd0" stroke-width="1.1" fill="none"/><path d="M694.2,102.8 V101.8 H695.5 V102.8" stroke="#1b9dd0" stroke-width="1.1" fill="none"/><path d="M694.2,102.8 V104" stroke="#1b9dd0" stroke-width="1" fill="none"/><path d="M695.5,102.8 V104" stroke="#1b9dd0" stroke-width="1" fill="none"/><path d="M696.6,102.0 V104" stroke="#1b9dd0" stroke-width="1" fill="none"/><path d="M698.7,97.5 V95.0 H703.4 V99.2" stroke="#1b9dd0" stroke-width="1.1" fill="none"/><path d="M698.4,101.0 V97.5 H700.4 V100.4" stroke="#1b9dd0" stroke-width="1.1" fill="none"/><path d="M697.6,102.5 V101.0 H698.8 V102.4" stroke="#1b9dd0" stroke-width="1.1" fill="none"/><path d="M697.6,102.5 V104" stroke="#1b9dd0" stroke-width="1" fill="none"/><path d="M698.8,102.4 V104" stroke="#1b9dd0" stroke-width="1" fill="none"/><path d="M700.4,100.4 V104" stroke="#1b9dd0" stroke-width="1" fill="none"/><path d="M701.9,101.2 V99.2 H704.1 V100.6" stroke="#1b9dd0" stroke-width="1.1" fill="none"/><path d="M701.9,101.2 V104" stroke="#1b9dd0" stroke-width="1" fill="none"/><path d="M703.0,102.4 V100.6 H704.2 V102.0" stroke="#1b9dd0" stroke-width="1.1" fill="none"/><path d="M703.0,102.4 V104" stroke="#1b9dd0" stroke-width="1" fill="none"/><path d="M704.2,102.0 V104" stroke="#1b9dd0" stroke-width="1" fill="none"/><path d="M747.3,92.3 V75.5 H836.7 V92.0" stroke="#1b9dd0" stroke-width="1.5" fill="none"/><path d="M724.6,96.0 V92.3 H787.2 V94.5" stroke="#1b9dd0" stroke-width="1.2" fill="none"/><path d="M719.5,100.0 V96.0 H738.6 V99.8" stroke="#1b9dd0" stroke-width="1.1" fill="none"/><path d="M708.8,101.0 V100.0 H720.0 V101.5" stroke="#1b9dd0" stroke-width="1.1" fill="none"/><path d="M706.7,102.5 V101.0 H710.6 V101.9" stroke="#1b9dd0" stroke-width="1.1" fill="none"/><path d="M706.7,102.5 V104" stroke="#1b9dd0" stroke-width="1" fill="none"/><path d="M709.9,102.5 V101.9 H712.8 V103.0" stroke="#1b9dd0" stroke-width="1.1" fill="none"/><path d="M709.9,102.5 V104" stroke="#1b9dd0" stroke-width="1" fill="none"/><path d="M712.8,103.0 V104" stroke="#1b9dd0" stroke-width="1" fill="none"/><path d="M717.4,101.9 V101.5 H724.5 V102.3" stroke="#1b9dd0" stroke-width="1.1" fill="none"/><path d="M714.8,102.4 V101.9 H719.1 V102.6" stroke="#1b9dd0" stroke-width="1.1" fill="none"/><path d="M714.6,103.0 V102.4 H715.9 V103.0" stroke="#1b9dd0" stroke-width="1.1" fill="none"/><path d="M714.6,103.0 V104" stroke="#1b9dd0" stroke-width="1" fill="none"/><path d="M715.9,103.0 V104" stroke="#1b9dd0" stroke-width="1" fill="none"/><path d="M719.1,102.6 V104" stroke="#1b9dd0" stroke-width="1" fill="none"/><path d="M722.6,102.8 V102.3 H726.7 V102.8" stroke="#1b9dd0" stroke-width="1.1" fill="none"/><path d="M722.6,102.8 V104" stroke="#1b9dd0" stroke-width="1" fill="none"/><path d="M726.7,102.8 V104" stroke="#1b9dd0" stroke-width="1" fill="none"/><path d="M734.7,101.7 V99.8 H745.9 V102.0" stroke="#1b9dd0" stroke-width="1.1" fill="none"/><path d="M731.4,102.5 V101.7 H737.9 V102.7" stroke="#1b9dd0" stroke-width="1.1" fill="none"/><path d="M731.4,102.5 V104" stroke="#1b9dd0" stroke-width="1" fill="none"/><path d="M737.9,102.7 V104" stroke="#1b9dd0" stroke-width="1" fill="none"/><path d="M743.5,103.0 V102.0 H747.7 V102.9" stroke="#1b9dd0" stroke-width="1.1" fill="none"/><path d="M743.5,103.0 V104" stroke="#1b9dd0" stroke-width="1" fill="none"/><path d="M747.7,102.9 V104" stroke="#1b9dd0" stroke-width="1" fill="none"/><path d="M770.6,98.1 V94.5 H790.0 V99.5" stroke="#1b9dd0" stroke-width="1.1" fill="none"/><path d="M758.1,100.0 V98.1 H775.3 V99.1" stroke="#1b9dd0" stroke-width="1.1" fill="none"/><path d="M753.0,101.9 V100.0 H765.1 V102.0" stroke="#1b9dd0" stroke-width="1.1" fill="none"/><path d="M751.7,102.3 V101.9 H755.8 V102.9" stroke="#1b9dd0" stroke-width="1.1" fill="none"/><path d="M750.8,102.8 V102.3 H752.6 V102.9" stroke="#1b9dd0" stroke-width="1.1" fill="none"/><path d="M750.8,102.8 V104" stroke="#1b9dd0" stroke-width="1" fill="none"/><path d="M752.6,102.9 V104" stroke="#1b9dd0" stroke-width="1" fill="none"/><path d="M755.8,102.9 V104" stroke="#1b9dd0" stroke-width="1" fill="none"/><path d="M763.4,102.7 V102.0 H768.4 V102.7" stroke="#1b9dd0" stroke-width="1.1" fill="none"/><path d="M763.4,102.7 V104" stroke="#1b9dd0" stroke-width="1" fill="none"/><path d="M768.4,102.7 V104" stroke="#1b9dd0" stroke-width="1" fill="none"/><path d="M772.8,101.3 V99.1 H778.8 V99.9" stroke="#1b9dd0" stroke-width="1.1" fill="none"/><path d="M772.0,102.0 V101.3 H774.3 V102.4" stroke="#1b9dd0" stroke-width="1.1" fill="none"/><path d="M771.2,102.9 V102.0 H772.9 V103.1" stroke="#1b9dd0" stroke-width="1.1" fill="none"/><path d="M771.2,102.9 V104" stroke="#1b9dd0" stroke-width="1" fill="none"/><path d="M772.9,103.1 V104" stroke="#1b9dd0" stroke-width="1" fill="none"/><path d="M773.7,103.1 V102.4 H774.8 V102.8" stroke="#1b9dd0" stroke-width="1.1" fill="none"/><path d="M773.7,103.1 V104" stroke="#1b9dd0" stroke-width="1" fill="none"/><path d="M774.8,102.8 V104" stroke="#1b9dd0" stroke-width="1" fill="none"/><path d="M777.0,101.9 V99.9 H780.9 V100.9" stroke="#1b9dd0" stroke-width="1.1" fill="none"/><path d="M776.4,102.8 V101.9 H777.5 V102.3" stroke="#1b9dd0" stroke-width="1.1" fill="none"/><path d="M776.4,102.8 V104" stroke="#1b9dd0" stroke-width="1" fill="none"/><path d="M777.5,102.3 V104" stroke="#1b9dd0" stroke-width="1" fill="none"/><path d="M779.0,101.5 V100.9 H781.0 V102.5" stroke="#1b9dd0" stroke-width="1.1" fill="none"/><path d="M779.0,101.5 V104" stroke="#1b9dd0" stroke-width="1" fill="none"/><path d="M781.0,102.5 V104" stroke="#1b9dd0" stroke-width="1" fill="none"/><path d="M788.2,101.7 V99.5 H795.1 V100.3" stroke="#1b9dd0" stroke-width="1.1" fill="none"/><path d="M785.6,102.6 V101.7 H790.3 V102.9" stroke="#1b9dd0" stroke-width="1.1" fill="none"/><path d="M785.6,102.6 V104" stroke="#1b9dd0" stroke-width="1" fill="none"/><path d="M790.3,102.9 V104" stroke="#1b9dd0" stroke-width="1" fill="none"/><path d="M793.4,101.2 V100.3 H797.7 V101.0" stroke="#1b9dd0" stroke-width="1.1" fill="none"/><path d="M792.6,102.0 V101.2 H794.2 V102.0" stroke="#1b9dd0" stroke-width="1.1" fill="none"/><path d="M792.6,102.0 V104" stroke="#1b9dd0" stroke-width="1" fill="none"/><path d="M794.2,102.0 V104" stroke="#1b9dd0" stroke-width="1" fill="none"/><path d="M796.6,101.7 V101.0 H799.1 V101.9" stroke="#1b9dd0" stroke-width="1.1" fill="none"/><path d="M795.7,102.7 V101.7 H796.9 V102.5" stroke="#1b9dd0" stroke-width="1.1" fill="none"/><path d="M795.7,102.7 V104" stroke="#1b9dd0" stroke-width="1" fill="none"/><path d="M796.9,102.5 V104" stroke="#1b9dd0" stroke-width="1" fill="none"/><path d="M799.1,101.9 V104" stroke="#1b9dd0" stroke-width="1" fill="none"/><path d="M818.7,96.0 V92.0 H854.7 V95.5" stroke="#1b9dd0" stroke-width="1.2" fill="none"/><path d="M806.5,97.5 V96.0 H826.9 V99.8" stroke="#1b9dd0" stroke-width="1.1" fill="none"/><path d="M803.1,99.5 V97.5 H810.4 V99.8" stroke="#1b9dd0" stroke-width="1.1" fill="none"/><path d="M802.3,101.7 V99.5 H804.8 V101.5" stroke="#1b9dd0" stroke-width="1.1" fill="none"/><path d="M800.9,102.1 V101.7 H802.7 V102.2" stroke="#1b9dd0" stroke-width="1.1" fill="none"/><path d="M800.9,102.1 V104" stroke="#1b9dd0" stroke-width="1" fill="none"/><path d="M802.7,102.2 V104" stroke="#1b9dd0" stroke-width="1" fill="none"/><path d="M804.1,102.0 V101.5 H805.2 V101.9" stroke="#1b9dd0" stroke-width="1.1" fill="none"/><path d="M804.1,102.0 V104" stroke="#1b9dd0" stroke-width="1" fill="none"/><path d="M805.2,101.9 V104" stroke="#1b9dd0" stroke-width="1" fill="none"/><path d="M808.9,100.9 V99.8 H812.0 V100.9" stroke="#1b9dd0" stroke-width="1.1" fill="none"/><path d="M807.1,101.9 V100.9 H809.1 V101.7" stroke="#1b9dd0" stroke-width="1.1" fill="none"/><path d="M807.1,101.9 V104" stroke="#1b9dd0" stroke-width="1" fill="none"/><path d="M809.2,102.3 V101.7 H810.2 V102.9" stroke="#1b9dd0" stroke-width="1.1" fill="none"/><path d="M809.2,102.3 V104" stroke="#1b9dd0" stroke-width="1" fill="none"/><path d="M810.2,102.9 V104" stroke="#1b9dd0" stroke-width="1" fill="none"/><path d="M811.1,101.8 V100.9 H812.2 V101.9" stroke="#1b9dd0" stroke-width="1.1" fill="none"/><path d="M811.1,101.8 V104" stroke="#1b9dd0" stroke-width="1" fill="none"/><path d="M812.2,101.9 V104" stroke="#1b9dd0" stroke-width="1" fill="none"/><path d="M817.6,100.5 V99.8 H829.6 V100.9" stroke="#1b9dd0" stroke-width="1.1" fill="none"/><path d="M814.9,101.0 V100.5 H819.5 V101.4" stroke="#1b9dd0" stroke-width="1.1" fill="none"/><path d="M813.9,102.4 V101.0 H815.7 V102.3" stroke="#1b9dd0" stroke-width="1.1" fill="none"/><path d="M813.9,102.4 V104" stroke="#1b9dd0" stroke-width="1" fill="none"/><path d="M815.4,102.7 V102.3 H816.3 V103.2" stroke="#1b9dd0" stroke-width="1.1" fill="none"/><path d="M815.4,102.7 V104" stroke="#1b9dd0" stroke-width="1" fill="none"/><path d="M816.3,103.2 V104" stroke="#1b9dd0" stroke-width="1" fill="none"/><path d="M818.3,101.9 V101.4 H822.0 V102.7" stroke="#1b9dd0" stroke-width="1.1" fill="none"/><path d="M817.8,102.9 V101.9 H819.1 V102.3" stroke="#1b9dd0" stroke-width="1.1" fill="none"/><path d="M817.8,102.9 V104" stroke="#1b9dd0" stroke-width="1" fill="none"/><path d="M819.1,102.3 V104" stroke="#1b9dd0" stroke-width="1" fill="none"/><path d="M822.0,102.7 V104" stroke="#1b9dd0" stroke-width="1" fill="none"/><path d="M826.9,102.4 V100.9 H832.9 V102.4" stroke="#1b9dd0" stroke-width="1.1" fill="none"/><path d="M825.9,103.1 V102.4 H828.5 V102.8" stroke="#1b9dd0" stroke-width="1.1" fill="none"/><path d="M825.9,103.1 V104" stroke="#1b9dd0" stroke-width="1" fill="none"/><path d="M828.5,102.8 V104" stroke="#1b9dd0" stroke-width="1" fill="none"/><path d="M830.3,102.7 V102.4 H833.0 V103.2" stroke="#1b9dd0" stroke-width="1.1" fill="none"/><path d="M830.3,102.7 V104" stroke="#1b9dd0" stroke-width="1" fill="none"/><path d="M833.0,103.2 V104" stroke="#1b9dd0" stroke-width="1" fill="none"/><path d="M851.2,99.1 V95.5 H879.8 V98.4" stroke="#1b9dd0" stroke-width="1.1" fill="none"/><path d="M840.3,100.8 V99.1 H856.1 V100.9" stroke="#1b9dd0" stroke-width="1.1" fill="none"/><path d="M836.9,101.6 V100.8 H842.4 V101.4" stroke="#1b9dd0" stroke-width="1.1" fill="none"/><path d="M836.2,102.7 V101.6 H838.3 V102.9" stroke="#1b9dd0" stroke-width="1.1" fill="none"/><path d="M836.2,102.7 V104" stroke="#1b9dd0" stroke-width="1" fill="none"/><path d="M838.3,102.9 V104" stroke="#1b9dd0" stroke-width="1" fill="none"/><path d="M841.0,102.5 V101.4 H843.1 V102.6" stroke="#1b9dd0" stroke-width="1.1" fill="none"/><path d="M841.0,102.5 V104" stroke="#1b9dd0" stroke-width="1" fill="none"/><path d="M843.1,102.6 V104" stroke="#1b9dd0" stroke-width="1" fill="none"/><path d="M850.3,101.5 V100.9 H859.1 V101.7" stroke="#1b9dd0" stroke-width="1.1" fill="none"/><path d="M847.1,101.9 V101.5 H853.3 V102.0" stroke="#1b9dd0" stroke-width="1.1" fill="none"/><path d="M845.6,102.8 V101.9 H849.1 V102.5" stroke="#1b9dd0" stroke-width="1.1" fill="none"/><path d="M845.6,102.8 V104" stroke="#1b9dd0" stroke-width="1" fill="none"/><path d="M847.9,102.8 V102.5 H849.9 V103.2" stroke="#1b9dd0" stroke-width="1.1" fill="none"/><path d="M847.9,102.8 V104" stroke="#1b9dd0" stroke-width="1" fill="none"/><path d="M849.9,103.2 V104" stroke="#1b9dd0" stroke-width="1" fill="none"/><path d="M852.1,102.3 V102.0 H854.5 V102.6" stroke="#1b9dd0" stroke-width="1.1" fill="none"/><path d="M852.1,102.3 V104" stroke="#1b9dd0" stroke-width="1" fill="none"/><path d="M854.5,102.6 V104" stroke="#1b9dd0" stroke-width="1" fill="none"/><path d="M859.4,102.3 V101.7 H863.3 V102.2" stroke="#1b9dd0" stroke-width="1.1" fill="none"/><path d="M857.2,102.6 V102.3 H860.6 V102.9" stroke="#1b9dd0" stroke-width="1.1" fill="none"/><path d="M857.2,102.6 V104" stroke="#1b9dd0" stroke-width="1" fill="none"/><path d="M860.6,102.9 V104" stroke="#1b9dd0" stroke-width="1" fill="none"/><path d="M862.5,102.8 V102.2 H864.6 V103.1" stroke="#1b9dd0" stroke-width="1.1" fill="none"/><path d="M862.5,102.8 V104" stroke="#1b9dd0" stroke-width="1" fill="none"/><path d="M864.6,103.1 V104" stroke="#1b9dd0" stroke-width="1" fill="none"/><path d="M871.8,100.4 V98.4 H888.1 V99.3" stroke="#1b9dd0" stroke-width="1.1" fill="none"/><path d="M867.5,101.3 V100.4 H875.3 V101.1" stroke="#1b9dd0" stroke-width="1.1" fill="none"/><path d="M866.0,101.7 V101.3 H868.8 V102.5" stroke="#1b9dd0" stroke-width="1.1" fill="none"/><path d="M866.0,101.7 V104" stroke="#1b9dd0" stroke-width="1" fill="none"/><path d="M868.8,102.5 V104" stroke="#1b9dd0" stroke-width="1" fill="none"/><path d="M872.6,102.4 V101.1 H879.5 V102.6" stroke="#1b9dd0" stroke-width="1.1" fill="none"/><path d="M871.3,103.3 V102.4 H874.8 V103.0" stroke="#1b9dd0" stroke-width="1.1" fill="none"/><path d="M871.3,103.3 V104" stroke="#1b9dd0" stroke-width="1" fill="none"/><path d="M874.8,103.0 V104" stroke="#1b9dd0" stroke-width="1" fill="none"/><path d="M879.5,102.6 V104" stroke="#1b9dd0" stroke-width="1" fill="none"/><path d="M883.5,100.1 V99.3 H888.9 V100.2" stroke="#1b9dd0" stroke-width="1.1" fill="none"/><path d="M882.4,101.1 V100.1 H885.4 V101.1" stroke="#1b9dd0" stroke-width="1.1" fill="none"/><path d="M881.7,102.6 V101.1 H883.4 V102.6" stroke="#1b9dd0" stroke-width="1.1" fill="none"/><path d="M881.7,102.6 V104" stroke="#1b9dd0" stroke-width="1" fill="none"/><path d="M883.4,102.6 V104" stroke="#1b9dd0" stroke-width="1" fill="none"/><path d="M885.4,101.1 V104" stroke="#1b9dd0" stroke-width="1" fill="none"/><path d="M888.3,102.2 V100.2 H891.6 V101.6" stroke="#1b9dd0" stroke-width="1.1" fill="none"/><path d="M887.0,102.8 V102.2 H889.4 V103.0" stroke="#1b9dd0" stroke-width="1.1" fill="none"/><path d="M887.0,102.8 V104" stroke="#1b9dd0" stroke-width="1" fill="none"/><path d="M889.4,103.0 V104" stroke="#1b9dd0" stroke-width="1" fill="none"/><path d="M890.7,102.9 V101.6 H891.8 V102.1" stroke="#1b9dd0" stroke-width="1.1" fill="none"/><path d="M890.7,102.9 V104" stroke="#1b9dd0" stroke-width="1" fill="none"/><path d="M891.8,102.1 V104" stroke="#1b9dd0" stroke-width="1" fill="none"/><path d="M918.4,86.6 V57.2 H1060.6 V71.2" stroke="#e2202a" stroke-width="2.8" fill="none"/><path d="M903.4,93.8 V86.6 H934.0 V90.6" stroke="#e2202a" stroke-width="1.5" fill="none"/><path d="M896.9,98.3 V93.8 H906.4 V99.3" stroke="#e2202a" stroke-width="1.1" fill="none"/><path d="M894.7,100.4 V98.3 H898.9 V100.1" stroke="#e2202a" stroke-width="1.1" fill="none"/><path d="M893.2,102.3 V100.4 H895.0 V101.7" stroke="#e2202a" stroke-width="1.1" fill="none"/><path d="M893.2,102.3 V104" stroke="#e2202a" stroke-width="1" fill="none"/><path d="M894.6,102.4 V101.7 H895.9 V102.2" stroke="#e2202a" stroke-width="1.1" fill="none"/><path d="M894.6,102.4 V104" stroke="#e2202a" stroke-width="1" fill="none"/><path d="M895.9,102.2 V104" stroke="#e2202a" stroke-width="1" fill="none"/><path d="M897.2,100.8 V100.1 H900.2 V101.0" stroke="#e2202a" stroke-width="1.1" fill="none"/><path d="M897.2,100.8 V104" stroke="#e2202a" stroke-width="1" fill="none"/><path d="M899.3,102.4 V101.0 H901.3 V102.0" stroke="#e2202a" stroke-width="1.1" fill="none"/><path d="M899.3,102.4 V104" stroke="#e2202a" stroke-width="1" fill="none"/><path d="M901.3,102.0 V104" stroke="#e2202a" stroke-width="1" fill="none"/><path d="M904.4,100.6 V99.3 H909.2 V100.1" stroke="#e2202a" stroke-width="1.1" fill="none"/><path d="M903.3,101.8 V100.6 H905.0 V102.0" stroke="#e2202a" stroke-width="1.1" fill="none"/><path d="M903.3,101.8 V104" stroke="#e2202a" stroke-width="1" fill="none"/><path d="M904.7,102.5 V102.0 H906.2 V102.6" stroke="#e2202a" stroke-width="1.1" fill="none"/><path d="M904.7,102.5 V104" stroke="#e2202a" stroke-width="1" fill="none"/><path d="M906.2,102.6 V104" stroke="#e2202a" stroke-width="1" fill="none"/><path d="M908.3,102.1 V100.1 H910.9 V100.7" stroke="#e2202a" stroke-width="1.1" fill="none"/><path d="M907.1,102.7 V102.1 H908.6 V102.8" stroke="#e2202a" stroke-width="1.1" fill="none"/><path d="M907.1,102.7 V104" stroke="#e2202a" stroke-width="1" fill="none"/><path d="M908.6,102.8 V104" stroke="#e2202a" stroke-width="1" fill="none"/><path d="M909.6,102.3 V100.7 H911.3 V102.3" stroke="#e2202a" stroke-width="1.1" fill="none"/><path d="M909.6,102.3 V104" stroke="#e2202a" stroke-width="1" fill="none"/><path d="M911.3,102.3 V104" stroke="#e2202a" stroke-width="1" fill="none"/><path d="M919.0,96.0 V90.6 H948.8 V96.5" stroke="#e2202a" stroke-width="1.2" fill="none"/><path d="M917.3,97.7 V96.0 H926.5 V98.9" stroke="#e2202a" stroke-width="1.1" fill="none"/><path d="M916.5,100.3 V97.7 H922.1 V100.6" stroke="#e2202a" stroke-width="1.1" fill="none"/><path d="M913.8,102.0 V100.3 H916.8 V101.2" stroke="#e2202a" stroke-width="1.1" fill="none"/><path d="M913.2,102.4 V102.0 H914.8 V102.5" stroke="#e2202a" stroke-width="1.1" fill="none"/><path d="M912.7,102.7 V102.4 H913.7 V103.0" stroke="#e2202a" stroke-width="1.1" fill="none"/><path d="M912.7,102.7 V104" stroke="#e2202a" stroke-width="1" fill="none"/><path d="M913.7,103.0 V104" stroke="#e2202a" stroke-width="1" fill="none"/><path d="M914.8,102.5 V104" stroke="#e2202a" stroke-width="1" fill="none"/><path d="M916.3,102.3 V101.2 H918.1 V101.6" stroke="#e2202a" stroke-width="1.1" fill="none"/><path d="M916.3,102.3 V104" stroke="#e2202a" stroke-width="1" fill="none"/><path d="M918.1,101.6 V104" stroke="#e2202a" stroke-width="1" fill="none"/><path d="M920.2,102.0 V100.6 H923.3 V102.3" stroke="#e2202a" stroke-width="1.1" fill="none"/><path d="M919.6,103.1 V102.0 H920.7 V102.8" stroke="#e2202a" stroke-width="1.1" fill="none"/><path d="M919.6,103.1 V104" stroke="#e2202a" stroke-width="1" fill="none"/><path d="M920.7,102.8 V104" stroke="#e2202a" stroke-width="1" fill="none"/><path d="M921.8,103.0 V102.3 H923.5 V102.8" stroke="#e2202a" stroke-width="1.1" fill="none"/><path d="M921.8,103.0 V104" stroke="#e2202a" stroke-width="1" fill="none"/><path d="M923.5,102.8 V104" stroke="#e2202a" stroke-width="1" fill="none"/><path d="M925.6,100.1 V98.9 H928.8 V99.7" stroke="#e2202a" stroke-width="1.1" fill="none"/><path d="M924.9,101.0 V100.1 H926.1 V101.9" stroke="#e2202a" stroke-width="1.1" fill="none"/><path d="M924.9,101.0 V104" stroke="#e2202a" stroke-width="1" fill="none"/><path d="M926.1,101.9 V104" stroke="#e2202a" stroke-width="1" fill="none"/><path d="M927.7,102.0 V99.7 H929.2 V100.9" stroke="#e2202a" stroke-width="1.1" fill="none"/><path d="M927.7,102.0 V104" stroke="#e2202a" stroke-width="1" fill="none"/><path d="M929.2,100.9 V104" stroke="#e2202a" stroke-width="1" fill="none"/><path d="M939.2,99.9 V96.5 H957.4 V98.5" stroke="#e2202a" stroke-width="1.1" fill="none"/><path d="M937.5,100.9 V99.9 H947.8 V101.2" stroke="#e2202a" stroke-width="1.1" fill="none"/><path d="M935.4,101.8 V100.9 H941.0 V101.6" stroke="#e2202a" stroke-width="1.1" fill="none"/><path d="M932.3,102.2 V101.8 H936.8 V102.5" stroke="#e2202a" stroke-width="1.1" fill="none"/><path d="M932.4,103.2 V102.2 H935.0 V103.1" stroke="#e2202a" stroke-width="1.1" fill="none"/><path d="M932.4,103.2 V104" stroke="#e2202a" stroke-width="1" fill="none"/><path d="M935.0,103.1 V104" stroke="#e2202a" stroke-width="1" fill="none"/><path d="M936.8,102.5 V104" stroke="#e2202a" stroke-width="1" fill="none"/><path d="M939.6,102.7 V101.6 H943.6 V102.0" stroke="#e2202a" stroke-width="1.1" fill="none"/><path d="M939.6,102.7 V104" stroke="#e2202a" stroke-width="1" fill="none"/><path d="M942.2,102.6 V102.0 H944.1 V102.4" stroke="#e2202a" stroke-width="1.1" fill="none"/><path d="M942.2,102.6 V104" stroke="#e2202a" stroke-width="1" fill="none"/><path d="M944.1,102.4 V104" stroke="#e2202a" stroke-width="1" fill="none"/><path d="M945.9,102.7 V101.2 H949.3 V101.8" stroke="#e2202a" stroke-width="1.1" fill="none"/><path d="M945.9,102.7 V104" stroke="#e2202a" stroke-width="1" fill="none"/><path d="M948.5,102.8 V101.8 H951.1 V102.8" stroke="#e2202a" stroke-width="1.1" fill="none"/><path d="M948.5,102.8 V104" stroke="#e2202a" stroke-width="1" fill="none"/><path d="M951.1,102.8 V104" stroke="#e2202a" stroke-width="1" fill="none"/><path d="M954.2,100.2 V98.5 H961.5 V101.4" stroke="#e2202a" stroke-width="1.1" fill="none"/><path d="M953.0,100.8 V100.2 H956.7 V101.4" stroke="#e2202a" stroke-width="1.1" fill="none"/><path d="M952.8,101.3 V100.8 H953.7 V101.3" stroke="#e2202a" stroke-width="1.1" fill="none"/><path d="M952.8,101.3 V104" stroke="#e2202a" stroke-width="1" fill="none"/><path d="M953.7,101.3 V104" stroke="#e2202a" stroke-width="1" fill="none"/><path d="M955.4,102.7 V101.4 H957.6 V102.1" stroke="#e2202a" stroke-width="1.1" fill="none"/><path d="M955.4,102.7 V104" stroke="#e2202a" stroke-width="1" fill="none"/><path d="M957.6,102.1 V104" stroke="#e2202a" stroke-width="1" fill="none"/><path d="M959.9,102.0 V101.4 H963.1 V102.5" stroke="#e2202a" stroke-width="1.1" fill="none"/><path d="M958.7,102.9 V102.0 H959.9 V103.0" stroke="#e2202a" stroke-width="1.1" fill="none"/><path d="M958.7,102.9 V104" stroke="#e2202a" stroke-width="1" fill="none"/><path d="M959.9,103.0 V104" stroke="#e2202a" stroke-width="1" fill="none"/><path d="M963.1,102.5 V104" stroke="#e2202a" stroke-width="1" fill="none"/><path d="M997.2,93.8 V71.2 H1124.4 V83.8" stroke="#e2202a" stroke-width="1.5" fill="none"/><path d="M980.6,97.0 V93.8 H1014.4 V96.0" stroke="#e2202a" stroke-width="1.2" fill="none"/><path d="M975.5,98.7 V97.0 H986.4 V99.4" stroke="#e2202a" stroke-width="1.1" fill="none"/><path d="M972.2,100.0 V98.7 H978.8 V100.4" stroke="#e2202a" stroke-width="1.1" fill="none"/><path d="M968.5,101.9 V100.0 H972.9 V101.8" stroke="#e2202a" stroke-width="1.1" fill="none"/><path d="M967.1,102.5 V101.9 H969.7 V102.5" stroke="#e2202a" stroke-width="1.1" fill="none"/><path d="M965.9,102.8 V102.5 H967.3 V103.2" stroke="#e2202a" stroke-width="1.1" fill="none"/><path d="M965.9,102.8 V104" stroke="#e2202a" stroke-width="1" fill="none"/><path d="M967.3,103.2 V104" stroke="#e2202a" stroke-width="1" fill="none"/><path d="M969.7,102.5 V104" stroke="#e2202a" stroke-width="1" fill="none"/><path d="M971.5,102.6 V101.8 H974.1 V102.4" stroke="#e2202a" stroke-width="1.1" fill="none"/><path d="M971.5,102.6 V104" stroke="#e2202a" stroke-width="1" fill="none"/><path d="M974.4,102.8 V102.4 H976.0 V102.7" stroke="#e2202a" stroke-width="1.1" fill="none"/><path d="M974.4,102.8 V104" stroke="#e2202a" stroke-width="1" fill="none"/><path d="M976.0,102.7 V104" stroke="#e2202a" stroke-width="1" fill="none"/><path d="M977.2,101.6 V100.4 H980.1 V101.3" stroke="#e2202a" stroke-width="1.1" fill="none"/><path d="M977.2,101.6 V104" stroke="#e2202a" stroke-width="1" fill="none"/><path d="M979.0,102.5 V101.3 H980.8 V102.6" stroke="#e2202a" stroke-width="1.1" fill="none"/><path d="M979.0,102.5 V104" stroke="#e2202a" stroke-width="1" fill="none"/><path d="M980.8,102.6 V104" stroke="#e2202a" stroke-width="1" fill="none"/><path d="M984.5,100.6 V99.4 H992.7 V101.1" stroke="#e2202a" stroke-width="1.1" fill="none"/><path d="M983.6,101.5 V100.6 H986.7 V101.5" stroke="#e2202a" stroke-width="1.1" fill="none"/><path d="M982.4,102.2 V101.5 H984.0 V102.2" stroke="#e2202a" stroke-width="1.1" fill="none"/><path d="M982.4,102.2 V104" stroke="#e2202a" stroke-width="1" fill="none"/><path d="M984.0,102.2 V104" stroke="#e2202a" stroke-width="1" fill="none"/><path d="M986.5,102.7 V101.5 H988.5 V102.5" stroke="#e2202a" stroke-width="1.1" fill="none"/><path d="M986.5,102.7 V104" stroke="#e2202a" stroke-width="1" fill="none"/><path d="M988.5,102.5 V104" stroke="#e2202a" stroke-width="1" fill="none"/><path d="M990.7,102.5 V101.1 H994.1 V102.5" stroke="#e2202a" stroke-width="1.1" fill="none"/><path d="M990.2,102.8 V102.5 H992.5 V102.8" stroke="#e2202a" stroke-width="1.1" fill="none"/><path d="M990.2,102.8 V104" stroke="#e2202a" stroke-width="1" fill="none"/><path d="M992.5,102.8 V104" stroke="#e2202a" stroke-width="1" fill="none"/><path d="M994.1,102.5 V104" stroke="#e2202a" stroke-width="1" fill="none"/><path d="M1011.3,98.4 V96.0 H1034.8 V100.0" stroke="#e2202a" stroke-width="1.1" fill="none"/><path d="M1001.4,101.4 V98.4 H1019.3 V99.5" stroke="#e2202a" stroke-width="1.1" fill="none"/><path d="M999.3,102.1 V101.4 H1005.9 V101.9" stroke="#e2202a" stroke-width="1.1" fill="none"/><path d="M996.3,102.9 V102.1 H1000.7 V102.6" stroke="#e2202a" stroke-width="1.1" fill="none"/><path d="M996.3,102.9 V104" stroke="#e2202a" stroke-width="1" fill="none"/><path d="M1000.7,102.6 V104" stroke="#e2202a" stroke-width="1" fill="none"/><path d="M1003.9,102.4 V101.9 H1007.7 V102.5" stroke="#e2202a" stroke-width="1.1" fill="none"/><path d="M1003.9,102.4 V104" stroke="#e2202a" stroke-width="1" fill="none"/><path d="M1006.2,102.7 V102.5 H1008.4 V102.8" stroke="#e2202a" stroke-width="1.1" fill="none"/><path d="M1006.2,102.7 V104" stroke="#e2202a" stroke-width="1" fill="none"/><path d="M1008.4,102.8 V104" stroke="#e2202a" stroke-width="1" fill="none"/><path d="M1013.7,100.3 V99.5 H1022.0 V100.4" stroke="#e2202a" stroke-width="1.1" fill="none"/><path d="M1011.9,101.3 V100.3 H1015.5 V102.3" stroke="#e2202a" stroke-width="1.1" fill="none"/><path d="M1010.8,102.2 V101.3 H1012.8 V102.6" stroke="#e2202a" stroke-width="1.1" fill="none"/><path d="M1010.8,102.2 V104" stroke="#e2202a" stroke-width="1" fill="none"/><path d="M1012.8,102.6 V104" stroke="#e2202a" stroke-width="1" fill="none"/><path d="M1015.2,103.0 V102.3 H1016.7 V102.7" stroke="#e2202a" stroke-width="1.1" fill="none"/><path d="M1015.2,103.0 V104" stroke="#e2202a" stroke-width="1" fill="none"/><path d="M1016.7,102.7 V104" stroke="#e2202a" stroke-width="1" fill="none"/><path d="M1018.9,102.1 V100.4 H1022.8 V101.6" stroke="#e2202a" stroke-width="1.1" fill="none"/><path d="M1018.1,102.4 V102.1 H1019.4 V102.8" stroke="#e2202a" stroke-width="1.1" fill="none"/><path d="M1018.1,102.4 V104" stroke="#e2202a" stroke-width="1" fill="none"/><path d="M1019.4,102.8 V104" stroke="#e2202a" stroke-width="1" fill="none"/><path d="M1022.0,102.5 V101.6 H1024.3 V102.3" stroke="#e2202a" stroke-width="1.1" fill="none"/><path d="M1022.0,102.5 V104" stroke="#e2202a" stroke-width="1" fill="none"/><path d="M1023.8,102.9 V102.3 H1025.3 V103.2" stroke="#e2202a" stroke-width="1.1" fill="none"/><path d="M1023.8,102.9 V104" stroke="#e2202a" stroke-width="1" fill="none"/><path d="M1025.3,103.2 V104" stroke="#e2202a" stroke-width="1" fill="none"/><path d="M1028.4,102.1 V100.0 H1036.2 V100.9" stroke="#e2202a" stroke-width="1.1" fill="none"/><path d="M1027.1,102.8 V102.1 H1029.7 V102.5" stroke="#e2202a" stroke-width="1.1" fill="none"/><path d="M1027.1,102.8 V104" stroke="#e2202a" stroke-width="1" fill="none"/><path d="M1028.7,103.1 V102.5 H1030.4 V103.2" stroke="#e2202a" stroke-width="1.1" fill="none"/><path d="M1028.7,103.1 V104" stroke="#e2202a" stroke-width="1" fill="none"/><path d="M1030.4,103.2 V104" stroke="#e2202a" stroke-width="1" fill="none"/><path d="M1032.8,101.9 V100.9 H1036.6 V102.4" stroke="#e2202a" stroke-width="1.1" fill="none"/><path d="M1031.7,102.5 V101.9 H1033.4 V102.6" stroke="#e2202a" stroke-width="1.1" fill="none"/><path d="M1031.7,102.5 V104" stroke="#e2202a" stroke-width="1" fill="none"/><path d="M1033.4,102.6 V104" stroke="#e2202a" stroke-width="1" fill="none"/><path d="M1035.2,103.1 V102.4 H1038.2 V103.2" stroke="#e2202a" stroke-width="1.1" fill="none"/><path d="M1035.2,103.1 V104" stroke="#e2202a" stroke-width="1" fill="none"/><path d="M1038.2,103.2 V104" stroke="#e2202a" stroke-width="1" fill="none"/><path d="M1075.3,95.3 V83.8 H1173.8 V86.9" stroke="#e2202a" stroke-width="1.3" fill="none"/><path d="M1062.8,98.0 V95.3 H1086.0 V98.0" stroke="#e2202a" stroke-width="1.2" fill="none"/><path d="M1045.7,99.0 V98.0 H1064.9 V100.9" stroke="#e2202a" stroke-width="1.1" fill="none"/><path d="M1042.0,101.0 V99.0 H1047.6 V100.4" stroke="#e2202a" stroke-width="1.1" fill="none"/><path d="M1040.9,102.2 V101.0 H1042.8 V102.0" stroke="#e2202a" stroke-width="1.1" fill="none"/><path d="M1040.9,102.2 V104" stroke="#e2202a" stroke-width="1" fill="none"/><path d="M1042.8,102.0 V104" stroke="#e2202a" stroke-width="1" fill="none"/><path d="M1045.1,101.6 V100.4 H1049.3 V101.2" stroke="#e2202a" stroke-width="1.1" fill="none"/><path d="M1045.1,102.1 V101.6 H1046.6 V102.4" stroke="#e2202a" stroke-width="1.1" fill="none"/><path d="M1045.1,102.1 V104" stroke="#e2202a" stroke-width="1" fill="none"/><path d="M1046.6,102.4 V104" stroke="#e2202a" stroke-width="1" fill="none"/><path d="M1047.8,101.8 V101.2 H1049.8 V102.1" stroke="#e2202a" stroke-width="1.1" fill="none"/><path d="M1047.8,101.8 V104" stroke="#e2202a" stroke-width="1" fill="none"/><path d="M1049.0,102.5 V102.1 H1050.5 V103.0" stroke="#e2202a" stroke-width="1.1" fill="none"/><path d="M1049.0,102.5 V104" stroke="#e2202a" stroke-width="1" fill="none"/><path d="M1050.5,103.0 V104" stroke="#e2202a" stroke-width="1" fill="none"/><path d="M1058.4,102.0 V100.9 H1069.1 V101.8" stroke="#e2202a" stroke-width="1.1" fill="none"/><path d="M1055.0,103.1 V102.0 H1063.9 V102.9" stroke="#e2202a" stroke-width="1.1" fill="none"/><path d="M1055.0,103.1 V104" stroke="#e2202a" stroke-width="1" fill="none"/><path d="M1063.9,102.9 V104" stroke="#e2202a" stroke-width="1" fill="none"/><path d="M1068.1,102.6 V101.8 H1073.8 V103.0" stroke="#e2202a" stroke-width="1.1" fill="none"/><path d="M1068.1,102.6 V104" stroke="#e2202a" stroke-width="1" fill="none"/><path d="M1073.8,103.0 V104" stroke="#e2202a" stroke-width="1" fill="none"/><path d="M1080.3,101.1 V98.0 H1092.2 V99.1" stroke="#e2202a" stroke-width="1.1" fill="none"/><path d="M1078.4,102.6 V101.1 H1083.8 V101.9" stroke="#e2202a" stroke-width="1.1" fill="none"/><path d="M1078.4,102.6 V104" stroke="#e2202a" stroke-width="1" fill="none"/><path d="M1082.7,103.0 V101.9 H1086.9 V102.4" stroke="#e2202a" stroke-width="1.1" fill="none"/><path d="M1082.7,103.0 V104" stroke="#e2202a" stroke-width="1" fill="none"/><path d="M1086.1,102.6 V102.4 H1087.4 V102.7" stroke="#e2202a" stroke-width="1.1" fill="none"/><path d="M1086.1,102.6 V104" stroke="#e2202a" stroke-width="1" fill="none"/><path d="M1087.4,102.7 V104" stroke="#e2202a" stroke-width="1" fill="none"/><path d="M1089.9,101.6 V99.1 H1093.1 V100.1" stroke="#e2202a" stroke-width="1.1" fill="none"/><path d="M1088.9,102.6 V101.6 H1090.3 V102.3" stroke="#e2202a" stroke-width="1.1" fill="none"/><path d="M1088.9,102.6 V104" stroke="#e2202a" stroke-width="1" fill="none"/><path d="M1090.3,102.3 V104" stroke="#e2202a" stroke-width="1" fill="none"/><path d="M1092.2,102.1 V100.1 H1094.3 V100.9" stroke="#e2202a" stroke-width="1.1" fill="none"/><path d="M1091.8,103.0 V102.1 H1093.1 V102.6" stroke="#e2202a" stroke-width="1.1" fill="none"/><path d="M1091.8,103.0 V104" stroke="#e2202a" stroke-width="1" fill="none"/><path d="M1093.1,102.6 V104" stroke="#e2202a" stroke-width="1" fill="none"/><path d="M1094.3,100.9 V104" stroke="#e2202a" stroke-width="1" fill="none"/><path d="M1132.5,98.4 V86.9 H1214.4 V95.3" stroke="#e2202a" stroke-width="1.3" fill="none"/><path d="M1109.7,100.0 V98.4 H1164.0 V100.0" stroke="#e2202a" stroke-width="1.1" fill="none"/><path d="M1107.7,101.8 V100.0 H1124.2 V101.3" stroke="#e2202a" stroke-width="1.1" fill="none"/><path d="M1100.2,102.9 V101.8 H1109.6 V102.4" stroke="#e2202a" stroke-width="1.1" fill="none"/><path d="M1100.2,102.9 V104" stroke="#e2202a" stroke-width="1" fill="none"/><path d="M1109.5,103.0 V102.4 H1116.1 V102.8" stroke="#e2202a" stroke-width="1.1" fill="none"/><path d="M1109.5,103.0 V104" stroke="#e2202a" stroke-width="1" fill="none"/><path d="M1116.1,102.8 V104" stroke="#e2202a" stroke-width="1" fill="none"/><path d="M1120.5,102.4 V101.3 H1125.5 V102.2" stroke="#e2202a" stroke-width="1.1" fill="none"/><path d="M1120.4,102.8 V102.4 H1121.6 V103.0" stroke="#e2202a" stroke-width="1.1" fill="none"/><path d="M1120.4,102.8 V104" stroke="#e2202a" stroke-width="1" fill="none"/><path d="M1121.6,103.0 V104" stroke="#e2202a" stroke-width="1" fill="none"/><path d="M1123.4,102.5 V102.2 H1127.2 V102.7" stroke="#e2202a" stroke-width="1.1" fill="none"/><path d="M1123.4,102.5 V104" stroke="#e2202a" stroke-width="1" fill="none"/><path d="M1127.2,102.7 V104" stroke="#e2202a" stroke-width="1" fill="none"/><path d="M1140.2,100.9 V100.0 H1165.6 V101.6" stroke="#e2202a" stroke-width="1.1" fill="none"/><path d="M1133.7,101.7 V100.9 H1145.8 V101.6" stroke="#e2202a" stroke-width="1.1" fill="none"/><path d="M1131.7,102.8 V101.7 H1137.1 V102.4" stroke="#e2202a" stroke-width="1.1" fill="none"/><path d="M1131.7,102.8 V104" stroke="#e2202a" stroke-width="1" fill="none"/><path d="M1134.1,103.0 V102.4 H1137.8 V102.9" stroke="#e2202a" stroke-width="1.1" fill="none"/><path d="M1134.1,103.0 V104" stroke="#e2202a" stroke-width="1" fill="none"/><path d="M1137.8,102.9 V104" stroke="#e2202a" stroke-width="1" fill="none"/><path d="M1142.2,102.6 V101.6 H1147.9 V102.2" stroke="#e2202a" stroke-width="1.1" fill="none"/><path d="M1142.2,102.6 V104" stroke="#e2202a" stroke-width="1" fill="none"/><path d="M1146.1,102.7 V102.2 H1148.8 V102.6" stroke="#e2202a" stroke-width="1.1" fill="none"/><path d="M1146.1,102.7 V104" stroke="#e2202a" stroke-width="1" fill="none"/><path d="M1148.8,102.6 V104" stroke="#e2202a" stroke-width="1" fill="none"/><path d="M1155.2,102.5 V101.6 H1166.7 V102.9" stroke="#e2202a" stroke-width="1.1" fill="none"/><path d="M1150.9,103.0 V102.5 H1156.4 V103.1" stroke="#e2202a" stroke-width="1.1" fill="none"/><path d="M1150.9,103.0 V104" stroke="#e2202a" stroke-width="1" fill="none"/><path d="M1156.4,103.1 V104" stroke="#e2202a" stroke-width="1" fill="none"/><path d="M1166.7,102.9 V104" stroke="#e2202a" stroke-width="1" fill="none"/><path d="M1187.8,98.5 V95.3 H1272.0 V98.0" stroke="#e2202a" stroke-width="1.2" fill="none"/><path d="M1191.3,100.0 V98.5 H1215.6 V99.4" stroke="#e2202a" stroke-width="1.1" fill="none"/><path d="M1190.8,100.6 V100.0 H1203.9 V101.9" stroke="#e2202a" stroke-width="1.1" fill="none"/><path d="M1185.4,101.7 V100.6 H1195.3 V101.4" stroke="#e2202a" stroke-width="1.1" fill="none"/><path d="M1181.6,102.4 V101.7 H1186.4 V102.7" stroke="#e2202a" stroke-width="1.1" fill="none"/><path d="M1181.3,102.8 V102.4 H1183.1 V103.0" stroke="#e2202a" stroke-width="1.1" fill="none"/><path d="M1181.3,102.8 V104" stroke="#e2202a" stroke-width="1" fill="none"/><path d="M1183.1,103.0 V104" stroke="#e2202a" stroke-width="1" fill="none"/><path d="M1186.4,102.7 V104" stroke="#e2202a" stroke-width="1" fill="none"/><path d="M1193.1,102.1 V101.4 H1196.5 V102.5" stroke="#e2202a" stroke-width="1.1" fill="none"/><path d="M1192.0,102.4 V102.1 H1194.1 V102.6" stroke="#e2202a" stroke-width="1.1" fill="none"/><path d="M1191.6,103.1 V102.4 H1192.9 V102.8" stroke="#e2202a" stroke-width="1.1" fill="none"/><path d="M1191.6,103.1 V104" stroke="#e2202a" stroke-width="1" fill="none"/><path d="M1192.9,102.8 V104" stroke="#e2202a" stroke-width="1" fill="none"/><path d="M1194.1,102.6 V104" stroke="#e2202a" stroke-width="1" fill="none"/><path d="M1195.7,103.3 V102.5 H1197.7 V103.1" stroke="#e2202a" stroke-width="1.1" fill="none"/><path d="M1195.7,103.3 V104" stroke="#e2202a" stroke-width="1" fill="none"/><path d="M1197.7,103.1 V104" stroke="#e2202a" stroke-width="1" fill="none"/><path d="M1201.5,102.6 V101.9 H1206.7 V102.9" stroke="#e2202a" stroke-width="1.1" fill="none"/><path d="M1201.5,102.6 V104" stroke="#e2202a" stroke-width="1" fill="none"/><path d="M1206.7,102.9 V104" stroke="#e2202a" stroke-width="1" fill="none"/><path d="M1214.1,101.4 V99.4 H1221.3 V101.2" stroke="#e2202a" stroke-width="1.1" fill="none"/><path d="M1209.8,101.9 V101.4 H1215.3 V102.8" stroke="#e2202a" stroke-width="1.1" fill="none"/><path d="M1208.7,103.0 V101.9 H1210.6 V102.5" stroke="#e2202a" stroke-width="1.1" fill="none"/><path d="M1208.7,103.0 V104" stroke="#e2202a" stroke-width="1" fill="none"/><path d="M1210.6,102.5 V104" stroke="#e2202a" stroke-width="1" fill="none"/><path d="M1215.3,102.8 V104" stroke="#e2202a" stroke-width="1" fill="none"/><path d="M1218.8,102.4 V101.2 H1222.1 V102.3" stroke="#e2202a" stroke-width="1.1" fill="none"/><path d="M1218.7,103.0 V102.4 H1219.8 V102.9" stroke="#e2202a" stroke-width="1.1" fill="none"/><path d="M1218.7,103.0 V104" stroke="#e2202a" stroke-width="1" fill="none"/><path d="M1219.8,102.9 V104" stroke="#e2202a" stroke-width="1" fill="none"/><path d="M1222.1,102.6 V102.3 H1224.3 V103.1" stroke="#e2202a" stroke-width="1.1" fill="none"/><path d="M1222.1,102.6 V104" stroke="#e2202a" stroke-width="1" fill="none"/><path d="M1224.3,103.1 V104" stroke="#e2202a" stroke-width="1" fill="none"/><path d="M1247.5,99.4 V98.0 H1267.4 V99.2" stroke="#e2202a" stroke-width="1.1" fill="none"/><path d="M1231.7,101.3 V99.4 H1250.6 V101.6" stroke="#e2202a" stroke-width="1.1" fill="none"/><path d="M1227.7,101.8 V101.3 H1233.1 V102.5" stroke="#e2202a" stroke-width="1.1" fill="none"/><path d="M1226.0,102.1 V101.8 H1229.2 V102.3" stroke="#e2202a" stroke-width="1.1" fill="none"/><path d="M1225.5,102.6 V102.1 H1226.6 V103.1" stroke="#e2202a" stroke-width="1.1" fill="none"/><path d="M1225.5,102.6 V104" stroke="#e2202a" stroke-width="1" fill="none"/><path d="M1226.6,103.1 V104" stroke="#e2202a" stroke-width="1" fill="none"/><path d="M1228.5,102.6 V102.3 H1230.3 V102.9" stroke="#e2202a" stroke-width="1.1" fill="none"/><path d="M1228.5,102.6 V104" stroke="#e2202a" stroke-width="1" fill="none"/><path d="M1230.3,102.9 V104" stroke="#e2202a" stroke-width="1" fill="none"/><path d="M1232.5,103.1 V102.5 H1234.7 V103.0" stroke="#e2202a" stroke-width="1.1" fill="none"/><path d="M1232.5,103.1 V104" stroke="#e2202a" stroke-width="1" fill="none"/><path d="M1234.7,103.0 V104" stroke="#e2202a" stroke-width="1" fill="none"/><path d="M1241.9,102.7 V101.6 H1251.2 V102.1" stroke="#e2202a" stroke-width="1.1" fill="none"/><path d="M1241.9,102.7 V104" stroke="#e2202a" stroke-width="1" fill="none"/><path d="M1247.4,103.1 V102.1 H1256.1 V102.4" stroke="#e2202a" stroke-width="1.1" fill="none"/><path d="M1247.4,103.1 V104" stroke="#e2202a" stroke-width="1" fill="none"/><path d="M1252.7,102.8 V102.4 H1258.4 V103.0" stroke="#e2202a" stroke-width="1.1" fill="none"/><path d="M1252.7,102.8 V104" stroke="#e2202a" stroke-width="1" fill="none"/><path d="M1258.4,103.0 V104" stroke="#e2202a" stroke-width="1" fill="none"/><path d="M1265.2,101.7 V99.2 H1272.7 V100.4" stroke="#e2202a" stroke-width="1.1" fill="none"/><path d="M1262.2,102.2 V101.7 H1266.0 V102.6" stroke="#e2202a" stroke-width="1.1" fill="none"/><path d="M1261.1,103.0 V102.2 H1262.7 V102.9" stroke="#e2202a" stroke-width="1.1" fill="none"/><path d="M1261.1,103.0 V104" stroke="#e2202a" stroke-width="1" fill="none"/><path d="M1262.7,102.9 V104" stroke="#e2202a" stroke-width="1" fill="none"/><path d="M1266.0,102.6 V104" stroke="#e2202a" stroke-width="1" fill="none"/><path d="M1270.5,102.2 V100.4 H1275.4 V101.1" stroke="#e2202a" stroke-width="1.1" fill="none"/><path d="M1269.4,102.7 V102.2 H1271.9 V103.1" stroke="#e2202a" stroke-width="1.1" fill="none"/><path d="M1269.4,102.7 V104" stroke="#e2202a" stroke-width="1" fill="none"/><path d="M1271.9,103.1 V104" stroke="#e2202a" stroke-width="1" fill="none"/><path d="M1274.1,101.8 V101.1 H1277.3 V102.1" stroke="#e2202a" stroke-width="1.1" fill="none"/><path d="M1273.6,102.7 V101.8 H1275.0 V102.4" stroke="#e2202a" stroke-width="1.1" fill="none"/><path d="M1273.6,102.7 V104" stroke="#e2202a" stroke-width="1" fill="none"/><path d="M1275.0,102.4 V104" stroke="#e2202a" stroke-width="1" fill="none"/><path d="M1276.1,102.9 V102.1 H1277.8 V102.9" stroke="#e2202a" stroke-width="1.1" fill="none"/><path d="M1276.1,102.9 V104" stroke="#e2202a" stroke-width="1" fill="none"/><path d="M1277.8,102.9 V104" stroke="#e2202a" stroke-width="1" fill="none"/></g>
<g><rect x="620.6" y="104.5" width="2.75" height="17.0" fill="#d1d1eb"/><rect x="620.6" y="121.5" width="2.75" height="17.0" fill="#d0d0ea"/><rect x="620.6" y="138.5" width="2.75" height="17.0" fill="#c8c8e7"/><rect x="620.6" y="155.5" width="2.75" height="16.5" fill="#fbfbfd"/><rect x="623.1" y="104.5" width="2.25" height="17.0" fill="#a6a6d8"/><rect x="623.1" y="121.5" width="2.25" height="17.0" fill="#a9a9d9"/><rect x="623.1" y="138.5" width="2.25" height="17.0" fill="#adadda"/><rect x="623.1" y="155.5" width="2.25" height="16.5" fill="#e5e5f4"/><rect x="625.1" y="104.5" width="2.25" height="17.0" fill="#a5a5d7"/><rect x="625.1" y="121.5" width="2.25" height="17.0" fill="#adadda"/><rect x="625.1" y="138.5" width="2.25" height="17.0" fill="#a7a7d8"/><rect x="625.1" y="155.5" width="2.25" height="16.5" fill="#f4f4fa"/><rect x="627.1" y="104.5" width="2.75" height="17.0" fill="#c7c7e6"/><rect x="627.1" y="121.5" width="2.75" height="17.0" fill="#c6c6e6"/><rect x="627.1" y="138.5" width="2.75" height="17.0" fill="#bbbbe1"/><rect x="627.1" y="155.5" width="2.75" height="16.5" fill="#e3e3f3"/><rect x="629.6" y="104.5" width="3.25" height="17.0" fill="#8383c8"/><rect x="629.6" y="121.5" width="3.25" height="17.0" fill="#9999d1"/><rect x="629.6" y="138.5" width="3.25" height="17.0" fill="#9292ce"/><rect x="629.6" y="155.5" width="3.25" height="16.5" fill="#f9f9fc"/><rect x="632.6" y="104.5" width="2.25" height="17.0" fill="#aeaedb"/><rect x="632.6" y="121.5" width="2.25" height="17.0" fill="#a6a6d7"/><rect x="632.6" y="138.5" width="2.25" height="17.0" fill="#a9a9d9"/><rect x="632.6" y="155.5" width="2.25" height="16.5" fill="#f1f1f9"/><rect x="634.6" y="104.5" width="4.25" height="17.0" fill="#9494d0"/><rect x="634.6" y="121.5" width="4.25" height="17.0" fill="#8e8ecd"/><rect x="634.6" y="138.5" width="4.25" height="17.0" fill="#9292ce"/><rect x="634.6" y="155.5" width="4.25" height="16.5" fill="#fefefe"/><rect x="638.6" y="104.5" width="1.75" height="17.0" fill="#b0b0dc"/><rect x="638.6" y="121.5" width="1.75" height="17.0" fill="#aeaedb"/><rect x="638.6" y="138.5" width="1.75" height="17.0" fill="#afafdb"/><rect x="638.6" y="155.5" width="1.75" height="16.5" fill="#fef7f7"/><rect x="640.1" y="104.5" width="1.75" height="17.0" fill="#bcbce1"/><rect x="640.1" y="121.5" width="1.75" height="17.0" fill="#b2b2dd"/><rect x="640.1" y="138.5" width="1.75" height="17.0" fill="#bfbfe2"/><rect x="640.1" y="155.5" width="1.75" height="16.5" fill="#fad6d8"/><rect x="641.6" y="104.5" width="1.75" height="17.0" fill="#b5b5de"/><rect x="641.6" y="121.5" width="1.75" height="17.0" fill="#a2a2d6"/><rect x="641.6" y="138.5" width="1.75" height="17.0" fill="#a9a9d9"/><rect x="641.6" y="155.5" width="1.75" height="16.5" fill="#fbdcde"/><rect x="643.1" y="104.5" width="2.75" height="17.0" fill="#a7a7d8"/><rect x="643.1" y="121.5" width="2.75" height="17.0" fill="#ababd9"/><rect x="643.1" y="138.5" width="2.75" height="17.0" fill="#a0a0d4"/><rect x="643.1" y="155.5" width="2.75" height="16.5" fill="#fef6f7"/><rect x="645.6" y="104.5" width="2.25" height="17.0" fill="#a0a0d5"/><rect x="645.6" y="121.5" width="2.25" height="17.0" fill="#ababda"/><rect x="645.6" y="138.5" width="2.25" height="17.0" fill="#9a9ad2"/><rect x="645.6" y="155.5" width="2.25" height="16.5" fill="#fbdcde"/><rect x="647.6" y="104.5" width="1.75" height="17.0" fill="#aaaad9"/><rect x="647.6" y="121.5" width="1.75" height="17.0" fill="#9d9dd3"/><rect x="647.6" y="138.5" width="1.75" height="17.0" fill="#a5a5d7"/><rect x="647.6" y="155.5" width="1.75" height="16.5" fill="#fce7e8"/><rect x="649.1" y="104.5" width="2.25" height="17.0" fill="#d8d8ee"/><rect x="649.1" y="121.5" width="2.25" height="17.0" fill="#d0d0ea"/><rect x="649.1" y="138.5" width="2.25" height="17.0" fill="#cfcfea"/><rect x="649.1" y="155.5" width="2.25" height="16.5" fill="#fce9ea"/><rect x="651.1" y="104.5" width="2.25" height="17.0" fill="#a9a9d9"/><rect x="651.1" y="121.5" width="2.25" height="17.0" fill="#ababda"/><rect x="651.1" y="138.5" width="2.25" height="17.0" fill="#a3a3d6"/><rect x="651.1" y="155.5" width="2.25" height="16.5" fill="#f9d0d2"/><rect x="653.1" y="104.5" width="1.75" height="17.0" fill="#a9a9d9"/><rect x="653.1" y="121.5" width="1.75" height="17.0" fill="#b3b3dd"/><rect x="653.1" y="138.5" width="1.75" height="17.0" fill="#aeaedb"/><rect x="653.1" y="155.5" width="1.75" height="16.5" fill="#fef6f6"/><rect x="654.6" y="104.5" width="2.25" height="17.0" fill="#a6a6d7"/><rect x="654.6" y="121.5" width="2.25" height="17.0" fill="#b1b1dc"/><rect x="654.6" y="138.5" width="2.25" height="17.0" fill="#a8a8d8"/><rect x="654.6" y="155.5" width="2.25" height="16.5" fill="#fdedee"/><rect x="656.6" y="104.5" width="1.75" height="17.0" fill="#9e9ed4"/><rect x="656.6" y="121.5" width="1.75" height="17.0" fill="#a8a8d8"/><rect x="656.6" y="138.5" width="1.75" height="17.0" fill="#9a9ad2"/><rect x="656.6" y="155.5" width="1.75" height="16.5" fill="#fceaeb"/><rect x="658.1" y="104.5" width="3.25" height="17.0" fill="#c1c1e4"/><rect x="658.1" y="121.5" width="3.25" height="17.0" fill="#b7b7df"/><rect x="658.1" y="138.5" width="3.25" height="17.0" fill="#b9b9e0"/><rect x="658.1" y="155.5" width="3.25" height="16.5" fill="#fad5d8"/><rect x="661.1" y="104.5" width="2.25" height="17.0" fill="#bcbce1"/><rect x="661.1" y="121.5" width="2.25" height="17.0" fill="#babae0"/><rect x="661.1" y="138.5" width="2.25" height="17.0" fill="#c3c3e4"/><rect x="661.1" y="155.5" width="2.25" height="16.5" fill="#fbdbdd"/><rect x="663.1" y="104.5" width="2.25" height="17.0" fill="#bbbbe1"/><rect x="663.1" y="121.5" width="2.25" height="17.0" fill="#a6a6d8"/><rect x="663.1" y="138.5" width="2.25" height="17.0" fill="#bbbbe1"/><rect x="663.1" y="155.5" width="2.25" height="16.5" fill="#cfcfea"/><rect x="665.1" y="104.5" width="3.25" height="17.0" fill="#7979c3"/><rect x="665.1" y="121.5" width="3.25" height="17.0" fill="#7b7bc4"/><rect x="665.1" y="138.5" width="3.25" height="17.0" fill="#8686c9"/><rect x="665.1" y="155.5" width="3.25" height="16.5" fill="#a7a7d8"/><rect x="668.1" y="104.5" width="4.25" height="17.0" fill="#a6a6d7"/><rect x="668.1" y="121.5" width="4.25" height="17.0" fill="#b5b5de"/><rect x="668.1" y="138.5" width="4.25" height="17.0" fill="#afafdb"/><rect x="668.1" y="155.5" width="4.25" height="16.5" fill="#a9a9d9"/><rect x="672.1" y="104.5" width="2.25" height="17.0" fill="#c8c8e6"/><rect x="672.1" y="121.5" width="2.25" height="17.0" fill="#b0b0dc"/><rect x="672.1" y="138.5" width="2.25" height="17.0" fill="#babae0"/><rect x="672.1" y="155.5" width="2.25" height="16.5" fill="#c0c0e3"/><rect x="674.1" y="104.5" width="3.25" height="17.0" fill="#8e8ecd"/><rect x="674.1" y="121.5" width="3.25" height="17.0" fill="#a2a2d6"/><rect x="674.1" y="138.5" width="3.25" height="17.0" fill="#8c8ccc"/><rect x="674.1" y="155.5" width="3.25" height="16.5" fill="#9797d1"/><rect x="677.1" y="104.5" width="2.25" height="17.0" fill="#7f7fc6"/><rect x="677.1" y="121.5" width="2.25" height="17.0" fill="#7878c3"/><rect x="677.1" y="138.5" width="2.25" height="17.0" fill="#8080c6"/><rect x="677.1" y="155.5" width="2.25" height="16.5" fill="#9a9ad2"/><rect x="679.1" y="104.5" width="2.25" height="17.0" fill="#6464ba"/><rect x="679.1" y="121.5" width="2.25" height="17.0" fill="#6e6ebf"/><rect x="679.1" y="138.5" width="2.25" height="17.0" fill="#6a6abd"/><rect x="679.1" y="155.5" width="2.25" height="16.5" fill="#ababd9"/><rect x="681.1" y="104.5" width="3.25" height="17.0" fill="#bdbde2"/><rect x="681.1" y="121.5" width="3.25" height="17.0" fill="#bbbbe1"/><rect x="681.1" y="138.5" width="3.25" height="17.0" fill="#bbbbe1"/><rect x="681.1" y="155.5" width="3.25" height="16.5" fill="#b9b9e0"/><rect x="684.1" y="104.5" width="4.25" height="17.0" fill="#aeaedb"/><rect x="684.1" y="121.5" width="4.25" height="17.0" fill="#babae0"/><rect x="684.1" y="138.5" width="4.25" height="17.0" fill="#afafdc"/><rect x="684.1" y="155.5" width="4.25" height="16.5" fill="#7373c1"/><rect x="688.1" y="104.5" width="2.25" height="17.0" fill="#c2c2e4"/><rect x="688.1" y="121.5" width="2.25" height="17.0" fill="#b0b0dc"/><rect x="688.1" y="138.5" width="2.25" height="17.0" fill="#b9b9e0"/><rect x="688.1" y="155.5" width="2.25" height="16.5" fill="#ababda"/><rect x="690.1" y="104.5" width="4.25" height="17.0" fill="#c4c4e5"/><rect x="690.1" y="121.5" width="4.25" height="17.0" fill="#d5d5ec"/><rect x="690.1" y="138.5" width="4.25" height="17.0" fill="#c9c9e7"/><rect x="690.1" y="155.5" width="4.25" height="16.5" fill="#a4a4d7"/><rect x="694.1" y="104.5" width="2.75" height="17.0" fill="#dbdbef"/><rect x="694.1" y="121.5" width="2.75" height="17.0" fill="#d2d2eb"/><rect x="694.1" y="138.5" width="2.75" height="17.0" fill="#d9d9ee"/><rect x="694.1" y="155.5" width="2.75" height="16.5" fill="#d3d3eb"/><rect x="696.6" y="104.5" width="3.25" height="17.0" fill="#adaddb"/><rect x="696.6" y="121.5" width="3.25" height="17.0" fill="#a8a8d8"/><rect x="696.6" y="138.5" width="3.25" height="17.0" fill="#a0a0d5"/><rect x="696.6" y="155.5" width="3.25" height="16.5" fill="#a4a4d6"/><rect x="699.6" y="104.5" width="1.75" height="17.0" fill="#d1d1eb"/><rect x="699.6" y="121.5" width="1.75" height="17.0" fill="#cfcfea"/><rect x="699.6" y="138.5" width="1.75" height="17.0" fill="#cccce8"/><rect x="699.6" y="155.5" width="1.75" height="16.5" fill="#b7b7df"/><rect x="701.1" y="104.5" width="4.25" height="17.0" fill="#c9c9e7"/><rect x="701.1" y="121.5" width="4.25" height="17.0" fill="#c9c9e7"/><rect x="701.1" y="138.5" width="4.25" height="17.0" fill="#cbcbe8"/><rect x="701.1" y="155.5" width="4.25" height="16.5" fill="#bebee2"/><rect x="705.1" y="104.5" width="3.25" height="17.0" fill="#adadda"/><rect x="705.1" y="121.5" width="3.25" height="17.0" fill="#aaaad9"/><rect x="705.1" y="138.5" width="3.25" height="17.0" fill="#a5a5d7"/><rect x="705.1" y="155.5" width="3.25" height="16.5" fill="#c9c9e7"/><rect x="708.1" y="104.5" width="2.75" height="17.0" fill="#d1d1eb"/><rect x="708.1" y="121.5" width="2.75" height="17.0" fill="#cdcde9"/><rect x="708.1" y="138.5" width="2.75" height="17.0" fill="#d6d6ed"/><rect x="708.1" y="155.5" width="2.75" height="16.5" fill="#b5b5de"/><rect x="710.6" y="104.5" width="2.25" height="17.0" fill="#c3c3e4"/><rect x="710.6" y="121.5" width="2.25" height="17.0" fill="#c2c2e4"/><rect x="710.6" y="138.5" width="2.25" height="17.0" fill="#d1d1eb"/><rect x="710.6" y="155.5" width="2.25" height="16.5" fill="#c7c7e6"/><rect x="712.6" y="104.5" width="2.75" height="17.0" fill="#bbbbe1"/><rect x="712.6" y="121.5" width="2.75" height="17.0" fill="#bfbfe2"/><rect x="712.6" y="138.5" width="2.75" height="17.0" fill="#bcbce1"/><rect x="712.6" y="155.5" width="2.75" height="16.5" fill="#c5c5e5"/><rect x="715.1" y="104.5" width="2.25" height="17.0" fill="#eaeaf6"/><rect x="715.1" y="121.5" width="2.25" height="17.0" fill="#ededf7"/><rect x="715.1" y="138.5" width="2.25" height="17.0" fill="#e9e9f5"/><rect x="715.1" y="155.5" width="2.25" height="16.5" fill="#acacda"/><rect x="717.1" y="104.5" width="2.75" height="17.0" fill="#e1e1f1"/><rect x="717.1" y="121.5" width="2.75" height="17.0" fill="#d5d5ec"/><rect x="717.1" y="138.5" width="2.75" height="17.0" fill="#d5d5ec"/><rect x="717.1" y="155.5" width="2.75" height="16.5" fill="#ddddf0"/><rect x="719.6" y="104.5" width="2.25" height="17.0" fill="#d3d3ec"/><rect x="719.6" y="121.5" width="2.25" height="17.0" fill="#dadaee"/><rect x="719.6" y="138.5" width="2.25" height="17.0" fill="#d8d8ee"/><rect x="719.6" y="155.5" width="2.25" height="16.5" fill="#babae0"/><rect x="721.6" y="104.5" width="3.25" height="17.0" fill="#ddddf0"/><rect x="721.6" y="121.5" width="3.25" height="17.0" fill="#e4e4f3"/><rect x="721.6" y="138.5" width="3.25" height="17.0" fill="#e6e6f4"/><rect x="721.6" y="155.5" width="3.25" height="16.5" fill="#bebee2"/><rect x="724.6" y="104.5" width="1.75" height="17.0" fill="#e7e7f4"/><rect x="724.6" y="121.5" width="1.75" height="17.0" fill="#ececf6"/><rect x="724.6" y="138.5" width="1.75" height="17.0" fill="#ededf7"/><rect x="724.6" y="155.5" width="1.75" height="16.5" fill="#b4b4de"/><rect x="726.1" y="104.5" width="2.25" height="17.0" fill="#dedef0"/><rect x="726.1" y="121.5" width="2.25" height="17.0" fill="#d3d3ec"/><rect x="726.1" y="138.5" width="2.25" height="17.0" fill="#d5d5ec"/><rect x="726.1" y="155.5" width="2.25" height="16.5" fill="#bebee2"/><rect x="728.1" y="104.5" width="1.75" height="17.0" fill="#e5e5f3"/><rect x="728.1" y="121.5" width="1.75" height="17.0" fill="#ececf7"/><rect x="728.1" y="138.5" width="1.75" height="17.0" fill="#ececf7"/><rect x="728.1" y="155.5" width="1.75" height="16.5" fill="#ddddf0"/><rect x="729.6" y="104.5" width="1.75" height="17.0" fill="#e0e0f1"/><rect x="729.6" y="121.5" width="1.75" height="17.0" fill="#e0e0f1"/><rect x="729.6" y="138.5" width="1.75" height="17.0" fill="#e2e2f2"/><rect x="729.6" y="155.5" width="1.75" height="16.5" fill="#dbdbef"/><rect x="731.1" y="104.5" width="4.25" height="17.0" fill="#dbdbef"/><rect x="731.1" y="121.5" width="4.25" height="17.0" fill="#d3d3eb"/><rect x="731.1" y="138.5" width="4.25" height="17.0" fill="#d9d9ee"/><rect x="731.1" y="155.5" width="4.25" height="16.5" fill="#d0d0ea"/><rect x="735.1" y="104.5" width="3.25" height="17.0" fill="#e2e2f2"/><rect x="735.1" y="121.5" width="3.25" height="17.0" fill="#e3e3f3"/><rect x="735.1" y="138.5" width="3.25" height="17.0" fill="#e4e4f3"/><rect x="735.1" y="155.5" width="3.25" height="16.5" fill="#cccce8"/><rect x="738.1" y="104.5" width="3.25" height="17.0" fill="#e7e7f4"/><rect x="738.1" y="121.5" width="3.25" height="17.0" fill="#dbdbef"/><rect x="738.1" y="138.5" width="3.25" height="17.0" fill="#e5e5f3"/><rect x="738.1" y="155.5" width="3.25" height="16.5" fill="#e9e9f5"/><rect x="741.1" y="104.5" width="2.25" height="17.0" fill="#c6c6e5"/><rect x="741.1" y="121.5" width="2.25" height="17.0" fill="#c2c2e4"/><rect x="741.1" y="138.5" width="2.25" height="17.0" fill="#b8b8df"/><rect x="741.1" y="155.5" width="2.25" height="16.5" fill="#e0e0f1"/><rect x="743.1" y="104.5" width="4.25" height="17.0" fill="#d5d5ec"/><rect x="743.1" y="121.5" width="4.25" height="17.0" fill="#dfdff1"/><rect x="743.1" y="138.5" width="4.25" height="17.0" fill="#e1e1f1"/><rect x="743.1" y="155.5" width="4.25" height="16.5" fill="#e2e2f2"/><rect x="747.1" y="104.5" width="2.25" height="17.0" fill="#d0d0ea"/><rect x="747.1" y="121.5" width="2.25" height="17.0" fill="#c8c8e7"/><rect x="747.1" y="138.5" width="2.25" height="17.0" fill="#d1d1eb"/><rect x="747.1" y="155.5" width="2.25" height="16.5" fill="#eeeef7"/><rect x="749.1" y="104.5" width="4.25" height="17.0" fill="#d9d9ee"/><rect x="749.1" y="121.5" width="4.25" height="17.0" fill="#dbdbef"/><rect x="749.1" y="138.5" width="4.25" height="17.0" fill="#dedef0"/><rect x="749.1" y="155.5" width="4.25" height="16.5" fill="#d2d2eb"/><rect x="753.1" y="104.5" width="2.25" height="17.0" fill="#d5d5ec"/><rect x="753.1" y="121.5" width="2.25" height="17.0" fill="#cdcde9"/><rect x="753.1" y="138.5" width="2.25" height="17.0" fill="#d7d7ed"/><rect x="753.1" y="155.5" width="2.25" height="16.5" fill="#efeff8"/><rect x="755.1" y="104.5" width="2.25" height="17.0" fill="#bdbde2"/><rect x="755.1" y="121.5" width="2.25" height="17.0" fill="#c3c3e4"/><rect x="755.1" y="138.5" width="2.25" height="17.0" fill="#c5c5e5"/><rect x="755.1" y="155.5" width="2.25" height="16.5" fill="#d9d9ee"/><rect x="757.1" y="104.5" width="1.75" height="17.0" fill="#c1c1e3"/><rect x="757.1" y="121.5" width="1.75" height="17.0" fill="#b8b8df"/><rect x="757.1" y="138.5" width="1.75" height="17.0" fill="#b1b1dc"/><rect x="757.1" y="155.5" width="1.75" height="16.5" fill="#e3e3f2"/><rect x="758.6" y="104.5" width="4.25" height="17.0" fill="#cccce8"/><rect x="758.6" y="121.5" width="4.25" height="17.0" fill="#cccce8"/><rect x="758.6" y="138.5" width="4.25" height="17.0" fill="#d3d3eb"/><rect x="758.6" y="155.5" width="4.25" height="16.5" fill="#eaeaf6"/><rect x="762.6" y="104.5" width="4.25" height="17.0" fill="#d7d7ed"/><rect x="762.6" y="121.5" width="4.25" height="17.0" fill="#cecee9"/><rect x="762.6" y="138.5" width="4.25" height="17.0" fill="#d7d7ed"/><rect x="762.6" y="155.5" width="4.25" height="16.5" fill="#d2d2eb"/><rect x="766.6" y="104.5" width="2.25" height="17.0" fill="#c4c4e5"/><rect x="766.6" y="121.5" width="2.25" height="17.0" fill="#cacae7"/><rect x="766.6" y="138.5" width="2.25" height="17.0" fill="#c4c4e5"/><rect x="766.6" y="155.5" width="2.25" height="16.5" fill="#d5d5ec"/><rect x="768.6" y="104.5" width="3.25" height="17.0" fill="#d6d6ed"/><rect x="768.6" y="121.5" width="3.25" height="17.0" fill="#d1d1eb"/><rect x="768.6" y="138.5" width="3.25" height="17.0" fill="#d3d3eb"/><rect x="768.6" y="155.5" width="3.25" height="16.5" fill="#efeff8"/><rect x="771.6" y="104.5" width="3.25" height="17.0" fill="#c0c0e3"/><rect x="771.6" y="121.5" width="3.25" height="17.0" fill="#c2c2e4"/><rect x="771.6" y="138.5" width="3.25" height="17.0" fill="#babae0"/><rect x="771.6" y="155.5" width="3.25" height="16.5" fill="#e4e4f3"/><rect x="774.6" y="104.5" width="2.25" height="17.0" fill="#e7e7f4"/><rect x="774.6" y="121.5" width="2.25" height="17.0" fill="#e6e6f4"/><rect x="774.6" y="138.5" width="2.25" height="17.0" fill="#eaeaf6"/><rect x="774.6" y="155.5" width="2.25" height="16.5" fill="#e3e3f3"/><rect x="776.6" y="104.5" width="1.75" height="17.0" fill="#ededf7"/><rect x="776.6" y="121.5" width="1.75" height="17.0" fill="#f1f1f9"/><rect x="776.6" y="138.5" width="1.75" height="17.0" fill="#efeff8"/><rect x="776.6" y="155.5" width="1.75" height="16.5" fill="#e1e1f2"/><rect x="778.1" y="104.5" width="4.25" height="17.0" fill="#eaeaf6"/><rect x="778.1" y="121.5" width="4.25" height="17.0" fill="#e5e5f3"/><rect x="778.1" y="138.5" width="4.25" height="17.0" fill="#eaeaf6"/><rect x="778.1" y="155.5" width="4.25" height="16.5" fill="#ededf7"/><rect x="782.1" y="104.5" width="2.75" height="17.0" fill="#e8e8f5"/><rect x="782.1" y="121.5" width="2.75" height="17.0" fill="#e4e4f3"/><rect x="782.1" y="138.5" width="2.75" height="17.0" fill="#e7e7f4"/><rect x="782.1" y="155.5" width="2.75" height="16.5" fill="#eeeef7"/><rect x="784.6" y="104.5" width="2.75" height="17.0" fill="#eaeaf6"/><rect x="784.6" y="121.5" width="2.75" height="17.0" fill="#ededf7"/><rect x="784.6" y="138.5" width="2.75" height="17.0" fill="#e9e9f5"/><rect x="784.6" y="155.5" width="2.75" height="16.5" fill="#d8d8ee"/><rect x="787.1" y="104.5" width="4.25" height="17.0" fill="#efeff8"/><rect x="787.1" y="121.5" width="4.25" height="17.0" fill="#f1f1f9"/><rect x="787.1" y="138.5" width="4.25" height="17.0" fill="#f2f2f9"/><rect x="787.1" y="155.5" width="4.25" height="16.5" fill="#e9e9f5"/><rect x="791.1" y="104.5" width="2.25" height="17.0" fill="#f0f0f9"/><rect x="791.1" y="121.5" width="2.25" height="17.0" fill="#f3f3fa"/><rect x="791.1" y="138.5" width="2.25" height="17.0" fill="#f3f3fa"/><rect x="791.1" y="155.5" width="2.25" height="16.5" fill="#e5e5f3"/><rect x="793.1" y="104.5" width="3.25" height="17.0" fill="#f3f3fa"/><rect x="793.1" y="121.5" width="3.25" height="17.0" fill="#f3f3fa"/><rect x="793.1" y="138.5" width="3.25" height="17.0" fill="#f5f5fb"/><rect x="793.1" y="155.5" width="3.25" height="16.5" fill="#cfcfea"/><rect x="796.1" y="104.5" width="4.25" height="17.0" fill="#ececf6"/><rect x="796.1" y="121.5" width="4.25" height="17.0" fill="#e8e8f5"/><rect x="796.1" y="138.5" width="4.25" height="17.0" fill="#e8e8f5"/><rect x="796.1" y="155.5" width="4.25" height="16.5" fill="#e7e7f4"/><rect x="800.1" y="104.5" width="4.25" height="17.0" fill="#e4e4f3"/><rect x="800.1" y="121.5" width="4.25" height="17.0" fill="#e7e7f4"/><rect x="800.1" y="138.5" width="4.25" height="17.0" fill="#e8e8f5"/><rect x="800.1" y="155.5" width="4.25" height="16.5" fill="#d4d4ec"/><rect x="804.1" y="104.5" width="4.25" height="17.0" fill="#efeff8"/><rect x="804.1" y="121.5" width="4.25" height="17.0" fill="#ededf7"/><rect x="804.1" y="138.5" width="4.25" height="17.0" fill="#f2f2f9"/><rect x="804.1" y="155.5" width="4.25" height="16.5" fill="#f39ca1"/><rect x="808.1" y="104.5" width="2.25" height="17.0" fill="#ececf7"/><rect x="808.1" y="121.5" width="2.25" height="17.0" fill="#ebebf6"/><rect x="808.1" y="138.5" width="2.25" height="17.0" fill="#e3e3f2"/><rect x="808.1" y="155.5" width="2.25" height="16.5" fill="#f8c9cc"/><rect x="810.1" y="104.5" width="4.25" height="17.0" fill="#e2e2f2"/><rect x="810.1" y="121.5" width="4.25" height="17.0" fill="#e3e3f2"/><rect x="810.1" y="138.5" width="4.25" height="17.0" fill="#e8e8f5"/><rect x="810.1" y="155.5" width="4.25" height="16.5" fill="#f6b4b8"/><rect x="814.1" y="104.5" width="4.25" height="17.0" fill="#e3e3f3"/><rect x="814.1" y="121.5" width="4.25" height="17.0" fill="#e6e6f4"/><rect x="814.1" y="138.5" width="4.25" height="17.0" fill="#dfdff1"/><rect x="814.1" y="155.5" width="4.25" height="16.5" fill="#f9ccce"/><rect x="818.1" y="104.5" width="4.25" height="17.0" fill="#eeeef7"/><rect x="818.1" y="121.5" width="4.25" height="17.0" fill="#e9e9f5"/><rect x="818.1" y="138.5" width="4.25" height="17.0" fill="#ececf7"/><rect x="818.1" y="155.5" width="4.25" height="16.5" fill="#f5adb2"/><rect x="822.1" y="104.5" width="2.25" height="17.0" fill="#f0f0f8"/><rect x="822.1" y="121.5" width="2.25" height="17.0" fill="#eaeaf6"/><rect x="822.1" y="138.5" width="2.25" height="17.0" fill="#e9e9f5"/><rect x="822.1" y="155.5" width="2.25" height="16.5" fill="#f9d2d5"/><rect x="824.1" y="104.5" width="1.75" height="17.0" fill="#f5f5fb"/><rect x="824.1" y="121.5" width="1.75" height="17.0" fill="#f9f9fc"/><rect x="824.1" y="138.5" width="1.75" height="17.0" fill="#f4f4fa"/><rect x="824.1" y="155.5" width="1.75" height="16.5" fill="#f9cccf"/><rect x="825.6" y="104.5" width="1.75" height="17.0" fill="#eaeaf6"/><rect x="825.6" y="121.5" width="1.75" height="17.0" fill="#ececf6"/><rect x="825.6" y="138.5" width="1.75" height="17.0" fill="#ebebf6"/><rect x="825.6" y="155.5" width="1.75" height="16.5" fill="#fad3d5"/><rect x="827.1" y="104.5" width="1.75" height="17.0" fill="#e7e7f4"/><rect x="827.1" y="121.5" width="1.75" height="17.0" fill="#e0e0f1"/><rect x="827.1" y="138.5" width="1.75" height="17.0" fill="#e0e0f1"/><rect x="827.1" y="155.5" width="1.75" height="16.5" fill="#f7bec2"/><rect x="828.6" y="104.5" width="2.75" height="17.0" fill="#ededf7"/><rect x="828.6" y="121.5" width="2.75" height="17.0" fill="#efeff8"/><rect x="828.6" y="138.5" width="2.75" height="17.0" fill="#e9e9f5"/><rect x="828.6" y="155.5" width="2.75" height="16.5" fill="#f4a9ad"/><rect x="831.1" y="104.5" width="2.25" height="17.0" fill="#e5e5f4"/><rect x="831.1" y="121.5" width="2.25" height="17.0" fill="#e8e8f5"/><rect x="831.1" y="138.5" width="2.25" height="17.0" fill="#e5e5f3"/><rect x="831.1" y="155.5" width="2.25" height="16.5" fill="#f9cccf"/><rect x="833.1" y="104.5" width="2.25" height="17.0" fill="#e7e7f4"/><rect x="833.1" y="121.5" width="2.25" height="17.0" fill="#e2e2f2"/><rect x="833.1" y="138.5" width="2.25" height="17.0" fill="#dfdff1"/><rect x="833.1" y="155.5" width="2.25" height="16.5" fill="#f39fa4"/><rect x="835.1" y="104.5" width="4.25" height="17.0" fill="#f9f9fd"/><rect x="835.1" y="121.5" width="4.25" height="17.0" fill="#f5f5fb"/><rect x="835.1" y="138.5" width="4.25" height="17.0" fill="#fafafd"/><rect x="835.1" y="155.5" width="4.25" height="16.5" fill="#f7c2c5"/><rect x="839.1" y="104.5" width="2.25" height="17.0" fill="#e4e4f3"/><rect x="839.1" y="121.5" width="2.25" height="17.0" fill="#ebebf6"/><rect x="839.1" y="138.5" width="2.25" height="17.0" fill="#e5e5f3"/><rect x="839.1" y="155.5" width="2.25" height="16.5" fill="#f2999e"/><rect x="841.1" y="104.5" width="2.25" height="17.0" fill="#fcfcfe"/><rect x="841.1" y="121.5" width="2.25" height="17.0" fill="#fafafd"/><rect x="841.1" y="138.5" width="2.25" height="17.0" fill="#fafafd"/><rect x="841.1" y="155.5" width="2.25" height="16.5" fill="#f4a4a9"/><rect x="843.1" y="104.5" width="2.75" height="17.0" fill="#e3e3f3"/><rect x="843.1" y="121.5" width="2.75" height="17.0" fill="#eaeaf5"/><rect x="843.1" y="138.5" width="2.75" height="17.0" fill="#e4e4f3"/><rect x="843.1" y="155.5" width="2.75" height="16.5" fill="#fad3d5"/><rect x="845.6" y="104.5" width="2.25" height="17.0" fill="#f0f0f8"/><rect x="845.6" y="121.5" width="2.25" height="17.0" fill="#e3e3f3"/><rect x="845.6" y="138.5" width="2.25" height="17.0" fill="#e7e7f4"/><rect x="845.6" y="155.5" width="2.25" height="16.5" fill="#f2979c"/><rect x="847.6" y="104.5" width="2.25" height="17.0" fill="#d6d6ed"/><rect x="847.6" y="121.5" width="2.25" height="17.0" fill="#d4d4ec"/><rect x="847.6" y="138.5" width="2.25" height="17.0" fill="#d4d4ec"/><rect x="847.6" y="155.5" width="2.25" height="16.5" fill="#f7bec2"/><rect x="849.6" y="104.5" width="2.75" height="17.0" fill="#e1e1f2"/><rect x="849.6" y="121.5" width="2.75" height="17.0" fill="#e2e2f2"/><rect x="849.6" y="138.5" width="2.75" height="17.0" fill="#e5e5f4"/><rect x="849.6" y="155.5" width="2.75" height="16.5" fill="#fffcfc"/><rect x="852.1" y="104.5" width="3.25" height="17.0" fill="#c7c7e6"/><rect x="852.1" y="121.5" width="3.25" height="17.0" fill="#cacae8"/><rect x="852.1" y="138.5" width="3.25" height="17.0" fill="#cbcbe8"/><rect x="852.1" y="155.5" width="3.25" height="16.5" fill="#fbdfe1"/><rect x="855.1" y="104.5" width="4.25" height="17.0" fill="#cecee9"/><rect x="855.1" y="121.5" width="4.25" height="17.0" fill="#d1d1ea"/><rect x="855.1" y="138.5" width="4.25" height="17.0" fill="#dbdbef"/><rect x="855.1" y="155.5" width="4.25" height="16.5" fill="#fce7e8"/><rect x="859.1" y="104.5" width="3.25" height="17.0" fill="#d6d6ed"/><rect x="859.1" y="121.5" width="3.25" height="17.0" fill="#dbdbef"/><rect x="859.1" y="138.5" width="3.25" height="17.0" fill="#d0d0ea"/><rect x="859.1" y="155.5" width="3.25" height="16.5" fill="#fdebec"/><rect x="862.1" y="104.5" width="4.25" height="17.0" fill="#cccce8"/><rect x="862.1" y="121.5" width="4.25" height="17.0" fill="#cecee9"/><rect x="862.1" y="138.5" width="4.25" height="17.0" fill="#c3c3e4"/><rect x="862.1" y="155.5" width="4.25" height="16.5" fill="#fad8da"/><rect x="866.1" y="104.5" width="2.25" height="17.0" fill="#dcdcef"/><rect x="866.1" y="121.5" width="2.25" height="17.0" fill="#dadaef"/><rect x="866.1" y="138.5" width="2.25" height="17.0" fill="#d6d6ed"/><rect x="866.1" y="155.5" width="2.25" height="16.5" fill="#fce5e7"/><rect x="868.1" y="104.5" width="2.75" height="17.0" fill="#e7e7f4"/><rect x="868.1" y="121.5" width="2.75" height="17.0" fill="#e9e9f5"/><rect x="868.1" y="138.5" width="2.75" height="17.0" fill="#eaeaf6"/><rect x="868.1" y="155.5" width="2.75" height="16.5" fill="#fdeeef"/><rect x="870.6" y="104.5" width="2.25" height="17.0" fill="#d5d5ec"/><rect x="870.6" y="121.5" width="2.25" height="17.0" fill="#dfdff1"/><rect x="870.6" y="138.5" width="2.25" height="17.0" fill="#dbdbef"/><rect x="870.6" y="155.5" width="2.25" height="16.5" fill="#fbdfe1"/><rect x="872.6" y="104.5" width="1.75" height="17.0" fill="#c4c4e5"/><rect x="872.6" y="121.5" width="1.75" height="17.0" fill="#c1c1e3"/><rect x="872.6" y="138.5" width="1.75" height="17.0" fill="#c3c3e4"/><rect x="872.6" y="155.5" width="1.75" height="16.5" fill="#fbdfe1"/><rect x="874.1" y="104.5" width="2.75" height="17.0" fill="#c7c7e6"/><rect x="874.1" y="121.5" width="2.75" height="17.0" fill="#c8c8e6"/><rect x="874.1" y="138.5" width="2.75" height="17.0" fill="#cbcbe8"/><rect x="874.1" y="155.5" width="2.75" height="16.5" fill="#fbe0e2"/><rect x="876.6" y="104.5" width="2.25" height="17.0" fill="#d0d0ea"/><rect x="876.6" y="121.5" width="2.25" height="17.0" fill="#c9c9e7"/><rect x="876.6" y="138.5" width="2.25" height="17.0" fill="#cacae7"/><rect x="876.6" y="155.5" width="2.25" height="16.5" fill="#fad6d9"/><rect x="878.6" y="104.5" width="2.25" height="17.0" fill="#c3c3e4"/><rect x="878.6" y="121.5" width="2.25" height="17.0" fill="#cecee9"/><rect x="878.6" y="138.5" width="2.25" height="17.0" fill="#cfcfea"/><rect x="878.6" y="155.5" width="2.25" height="16.5" fill="#fef7f8"/><rect x="880.6" y="104.5" width="2.25" height="17.0" fill="#d7d7ed"/><rect x="880.6" y="121.5" width="2.25" height="17.0" fill="#dedef1"/><rect x="880.6" y="138.5" width="2.25" height="17.0" fill="#dcdcef"/><rect x="880.6" y="155.5" width="2.25" height="16.5" fill="#fef5f5"/><rect x="882.6" y="104.5" width="1.75" height="17.0" fill="#cfcfe9"/><rect x="882.6" y="121.5" width="1.75" height="17.0" fill="#d2d2eb"/><rect x="882.6" y="138.5" width="1.75" height="17.0" fill="#cecee9"/><rect x="882.6" y="155.5" width="1.75" height="16.5" fill="#fdeced"/><rect x="884.1" y="104.5" width="3.25" height="17.0" fill="#d2d2eb"/><rect x="884.1" y="121.5" width="3.25" height="17.0" fill="#cfcfea"/><rect x="884.1" y="138.5" width="3.25" height="17.0" fill="#d5d5ec"/><rect x="884.1" y="155.5" width="3.25" height="16.5" fill="#fce8e9"/><rect x="887.1" y="104.5" width="2.25" height="17.0" fill="#ececf7"/><rect x="887.1" y="121.5" width="2.25" height="17.0" fill="#e5e5f3"/><rect x="887.1" y="138.5" width="2.25" height="17.0" fill="#e3e3f2"/><rect x="887.1" y="155.5" width="2.25" height="16.5" fill="#fadadc"/><rect x="889.1" y="104.5" width="3.25" height="17.0" fill="#dbdbef"/><rect x="889.1" y="121.5" width="3.25" height="17.0" fill="#dadaee"/><rect x="889.1" y="138.5" width="3.25" height="17.0" fill="#e0e0f1"/><rect x="889.1" y="155.5" width="3.25" height="16.5" fill="#fce7e8"/><rect x="892.1" y="104.5" width="3.25" height="17.0" fill="#f5afb4"/><rect x="892.1" y="121.5" width="3.25" height="17.0" fill="#f5b1b5"/><rect x="892.1" y="138.5" width="3.25" height="17.0" fill="#f39a9f"/><rect x="892.1" y="155.5" width="3.25" height="16.5" fill="#fbdee0"/><rect x="895.1" y="104.5" width="4.25" height="17.0" fill="#ec676f"/><rect x="895.1" y="121.5" width="4.25" height="17.0" fill="#f08289"/><rect x="895.1" y="138.5" width="4.25" height="17.0" fill="#ef8188"/><rect x="895.1" y="155.5" width="4.25" height="16.5" fill="#fce9ea"/><rect x="899.1" y="104.5" width="2.75" height="17.0" fill="#f8c3c6"/><rect x="899.1" y="121.5" width="2.75" height="17.0" fill="#f7bdc1"/><rect x="899.1" y="138.5" width="2.75" height="17.0" fill="#f7bbbf"/><rect x="899.1" y="155.5" width="2.75" height="16.5" fill="#f9d2d5"/><rect x="901.6" y="104.5" width="4.25" height="17.0" fill="#f6b3b7"/><rect x="901.6" y="121.5" width="4.25" height="17.0" fill="#f39ba0"/><rect x="901.6" y="138.5" width="4.25" height="17.0" fill="#f5abb0"/><rect x="901.6" y="155.5" width="4.25" height="16.5" fill="#fce5e6"/><rect x="905.6" y="104.5" width="2.25" height="17.0" fill="#f2959b"/><rect x="905.6" y="121.5" width="2.25" height="17.0" fill="#f29298"/><rect x="905.6" y="138.5" width="2.25" height="17.0" fill="#f5abaf"/><rect x="905.6" y="155.5" width="2.25" height="16.5" fill="#f8c5c9"/><rect x="907.6" y="104.5" width="3.25" height="17.0" fill="#ed7078"/><rect x="907.6" y="121.5" width="3.25" height="17.0" fill="#ef7a82"/><rect x="907.6" y="138.5" width="3.25" height="17.0" fill="#ed7178"/><rect x="907.6" y="155.5" width="3.25" height="16.5" fill="#f5b0b4"/><rect x="910.6" y="104.5" width="2.25" height="17.0" fill="#f2969c"/><rect x="910.6" y="121.5" width="2.25" height="17.0" fill="#f18b92"/><rect x="910.6" y="138.5" width="2.25" height="17.0" fill="#f3a1a6"/><rect x="910.6" y="155.5" width="2.25" height="16.5" fill="#f4a4a9"/><rect x="912.6" y="104.5" width="4.25" height="17.0" fill="#f0848a"/><rect x="912.6" y="121.5" width="4.25" height="17.0" fill="#ee757c"/><rect x="912.6" y="138.5" width="4.25" height="17.0" fill="#ee777e"/><rect x="912.6" y="155.5" width="4.25" height="16.5" fill="#fdeff0"/><rect x="916.6" y="104.5" width="2.25" height="17.0" fill="#f7bec2"/><rect x="916.6" y="121.5" width="2.25" height="17.0" fill="#f5aeb3"/><rect x="916.6" y="138.5" width="2.25" height="17.0" fill="#f5b1b5"/><rect x="916.6" y="155.5" width="2.25" height="16.5" fill="#fce7e8"/><rect x="918.6" y="104.5" width="2.25" height="17.0" fill="#f18990"/><rect x="918.6" y="121.5" width="2.25" height="17.0" fill="#ef8087"/><rect x="918.6" y="138.5" width="2.25" height="17.0" fill="#ed6c75"/><rect x="918.6" y="155.5" width="2.25" height="16.5" fill="#fceaeb"/><rect x="920.6" y="104.5" width="4.25" height="17.0" fill="#f2999e"/><rect x="920.6" y="121.5" width="4.25" height="17.0" fill="#f39a9f"/><rect x="920.6" y="138.5" width="4.25" height="17.0" fill="#f4a7ac"/><rect x="920.6" y="155.5" width="4.25" height="16.5" fill="#fefbfb"/><rect x="924.6" y="104.5" width="2.25" height="17.0" fill="#f18b92"/><rect x="924.6" y="121.5" width="2.25" height="17.0" fill="#ee7980"/><rect x="924.6" y="138.5" width="2.25" height="17.0" fill="#f18c92"/><rect x="924.6" y="155.5" width="2.25" height="16.5" fill="#fdf0f0"/><rect x="926.6" y="104.5" width="3.25" height="17.0" fill="#ec656d"/><rect x="926.6" y="121.5" width="3.25" height="17.0" fill="#ec656e"/><rect x="926.6" y="138.5" width="3.25" height="17.0" fill="#ee757c"/><rect x="926.6" y="155.5" width="3.25" height="16.5" fill="#fbe2e4"/><rect x="929.6" y="104.5" width="2.25" height="17.0" fill="#f39ea3"/><rect x="929.6" y="121.5" width="2.25" height="17.0" fill="#f0868c"/><rect x="929.6" y="138.5" width="2.25" height="17.0" fill="#f18d93"/><rect x="929.6" y="155.5" width="2.25" height="16.5" fill="#fdedee"/><rect x="931.6" y="104.5" width="1.75" height="17.0" fill="#f3a0a5"/><rect x="931.6" y="121.5" width="1.75" height="17.0" fill="#f3a0a5"/><rect x="931.6" y="138.5" width="1.75" height="17.0" fill="#f39fa4"/><rect x="931.6" y="155.5" width="1.75" height="16.5" fill="#fdf2f2"/><rect x="933.1" y="104.5" width="2.25" height="17.0" fill="#f0848b"/><rect x="933.1" y="121.5" width="2.25" height="17.0" fill="#f0838a"/><rect x="933.1" y="138.5" width="2.25" height="17.0" fill="#f18b91"/><rect x="933.1" y="155.5" width="2.25" height="16.5" fill="#fceaeb"/><rect x="935.1" y="104.5" width="2.25" height="17.0" fill="#f3a1a6"/><rect x="935.1" y="121.5" width="2.25" height="17.0" fill="#f39da2"/><rect x="935.1" y="138.5" width="2.25" height="17.0" fill="#f5b0b5"/><rect x="935.1" y="155.5" width="2.25" height="16.5" fill="#ffffff"/><rect x="937.1" y="104.5" width="3.25" height="17.0" fill="#f7bdc1"/><rect x="937.1" y="121.5" width="3.25" height="17.0" fill="#f6b9bc"/><rect x="937.1" y="138.5" width="3.25" height="17.0" fill="#f7c1c5"/><rect x="937.1" y="155.5" width="3.25" height="16.5" fill="#fbe1e3"/><rect x="940.1" y="104.5" width="2.75" height="17.0" fill="#f5b0b4"/><rect x="940.1" y="121.5" width="2.75" height="17.0" fill="#f4a8ad"/><rect x="940.1" y="138.5" width="2.75" height="17.0" fill="#f7bfc2"/><rect x="940.1" y="155.5" width="2.75" height="16.5" fill="#fffdfd"/><rect x="942.6" y="104.5" width="4.25" height="17.0" fill="#f6b5b9"/><rect x="942.6" y="121.5" width="4.25" height="17.0" fill="#f7bec1"/><rect x="942.6" y="138.5" width="4.25" height="17.0" fill="#f4aaae"/><rect x="942.6" y="155.5" width="4.25" height="16.5" fill="#fffcfc"/><rect x="946.6" y="104.5" width="4.25" height="17.0" fill="#f19096"/><rect x="946.6" y="121.5" width="4.25" height="17.0" fill="#f2989d"/><rect x="946.6" y="138.5" width="4.25" height="17.0" fill="#f18a91"/><rect x="946.6" y="155.5" width="4.25" height="16.5" fill="#fef3f4"/><rect x="950.6" y="104.5" width="2.75" height="17.0" fill="#f39ea4"/><rect x="950.6" y="121.5" width="2.75" height="17.0" fill="#f18a91"/><rect x="950.6" y="138.5" width="2.75" height="17.0" fill="#f2949a"/><rect x="950.6" y="155.5" width="2.75" height="16.5" fill="#f8c9cc"/><rect x="953.1" y="104.5" width="3.25" height="17.0" fill="#f0898f"/><rect x="953.1" y="121.5" width="3.25" height="17.0" fill="#ee777f"/><rect x="953.1" y="138.5" width="3.25" height="17.0" fill="#f18a90"/><rect x="953.1" y="155.5" width="3.25" height="16.5" fill="#f6b9bd"/><rect x="956.1" y="104.5" width="4.25" height="17.0" fill="#f5adb1"/><rect x="956.1" y="121.5" width="4.25" height="17.0" fill="#f3a1a6"/><rect x="956.1" y="138.5" width="4.25" height="17.0" fill="#f4aaae"/><rect x="956.1" y="155.5" width="4.25" height="16.5" fill="#f9cacd"/><rect x="960.1" y="104.5" width="3.25" height="17.0" fill="#f0868d"/><rect x="960.1" y="121.5" width="3.25" height="17.0" fill="#ef8087"/><rect x="960.1" y="138.5" width="3.25" height="17.0" fill="#ef7d85"/><rect x="960.1" y="155.5" width="3.25" height="16.5" fill="#f9cdd0"/><rect x="963.1" y="104.5" width="2.75" height="17.0" fill="#ef7b82"/><rect x="963.1" y="121.5" width="2.75" height="17.0" fill="#ef7e85"/><rect x="963.1" y="138.5" width="2.75" height="17.0" fill="#ed6f76"/><rect x="963.1" y="155.5" width="2.75" height="16.5" fill="#f7bdc1"/><rect x="965.6" y="104.5" width="2.25" height="17.0" fill="#fef9f9"/><rect x="965.6" y="121.5" width="2.25" height="17.0" fill="#fefbfb"/><rect x="965.6" y="138.5" width="2.25" height="17.0" fill="#fdf2f3"/><rect x="965.6" y="155.5" width="2.25" height="16.5" fill="#a7a7d8"/><rect x="967.6" y="104.5" width="2.25" height="17.0" fill="#fdeced"/><rect x="967.6" y="121.5" width="2.25" height="17.0" fill="#fdedee"/><rect x="967.6" y="138.5" width="2.25" height="17.0" fill="#fce4e5"/><rect x="967.6" y="155.5" width="2.25" height="16.5" fill="#d9d9ee"/><rect x="969.6" y="104.5" width="2.75" height="17.0" fill="#fffefe"/><rect x="969.6" y="121.5" width="2.75" height="17.0" fill="#fefafa"/><rect x="969.6" y="138.5" width="2.75" height="17.0" fill="#fefeff"/><rect x="969.6" y="155.5" width="2.75" height="16.5" fill="#afafdb"/><rect x="972.1" y="104.5" width="2.25" height="17.0" fill="#fffbfb"/><rect x="972.1" y="121.5" width="2.25" height="17.0" fill="#fef5f6"/><rect x="972.1" y="138.5" width="2.25" height="17.0" fill="#fef7f7"/><rect x="972.1" y="155.5" width="2.25" height="16.5" fill="#b1b1dc"/><rect x="974.1" y="104.5" width="2.25" height="17.0" fill="#fce6e7"/><rect x="974.1" y="121.5" width="2.25" height="17.0" fill="#fbdfe1"/><rect x="974.1" y="138.5" width="2.25" height="17.0" fill="#fbdfe1"/><rect x="974.1" y="155.5" width="2.25" height="16.5" fill="#c8c8e7"/><rect x="976.1" y="104.5" width="3.25" height="17.0" fill="#fef3f4"/><rect x="976.1" y="121.5" width="3.25" height="17.0" fill="#fdebed"/><rect x="976.1" y="138.5" width="3.25" height="17.0" fill="#fdebec"/><rect x="976.1" y="155.5" width="3.25" height="16.5" fill="#b8b8df"/><rect x="979.1" y="104.5" width="3.25" height="17.0" fill="#fdedee"/><rect x="979.1" y="121.5" width="3.25" height="17.0" fill="#fce3e5"/><rect x="979.1" y="138.5" width="3.25" height="17.0" fill="#fce9ea"/><rect x="979.1" y="155.5" width="3.25" height="16.5" fill="#b0b0dc"/><rect x="982.1" y="104.5" width="2.25" height="17.0" fill="#fce9ea"/><rect x="982.1" y="121.5" width="2.25" height="17.0" fill="#fce7e8"/><rect x="982.1" y="138.5" width="2.25" height="17.0" fill="#fce7e8"/><rect x="982.1" y="155.5" width="2.25" height="16.5" fill="#b4b4dd"/><rect x="984.1" y="104.5" width="1.75" height="17.0" fill="#fdeeef"/><rect x="984.1" y="121.5" width="1.75" height="17.0" fill="#fdf1f2"/><rect x="984.1" y="138.5" width="1.75" height="17.0" fill="#fdeced"/><rect x="984.1" y="155.5" width="1.75" height="16.5" fill="#b9b9e0"/><rect x="985.6" y="104.5" width="2.25" height="17.0" fill="#fce8ea"/><rect x="985.6" y="121.5" width="2.25" height="17.0" fill="#fdeeef"/><rect x="985.6" y="138.5" width="2.25" height="17.0" fill="#fdeeef"/><rect x="985.6" y="155.5" width="2.25" height="16.5" fill="#b6b6df"/><rect x="987.6" y="104.5" width="2.25" height="17.0" fill="#fbe0e2"/><rect x="987.6" y="121.5" width="2.25" height="17.0" fill="#fce9ea"/><rect x="987.6" y="138.5" width="2.25" height="17.0" fill="#fbe1e3"/><rect x="987.6" y="155.5" width="2.25" height="16.5" fill="#c8c8e6"/><rect x="989.6" y="104.5" width="3.25" height="17.0" fill="#fef3f4"/><rect x="989.6" y="121.5" width="3.25" height="17.0" fill="#fdebec"/><rect x="989.6" y="138.5" width="3.25" height="17.0" fill="#fef5f5"/><rect x="989.6" y="155.5" width="3.25" height="16.5" fill="#d3d3ec"/><rect x="992.6" y="104.5" width="2.25" height="17.0" fill="#fdeced"/><rect x="992.6" y="121.5" width="2.25" height="17.0" fill="#fce9eb"/><rect x="992.6" y="138.5" width="2.25" height="17.0" fill="#fce4e5"/><rect x="992.6" y="155.5" width="2.25" height="16.5" fill="#a9a9d9"/><rect x="994.6" y="104.5" width="2.75" height="17.0" fill="#fdeff0"/><rect x="994.6" y="121.5" width="2.75" height="17.0" fill="#fce7e8"/><rect x="994.6" y="138.5" width="2.75" height="17.0" fill="#fceaeb"/><rect x="994.6" y="155.5" width="2.75" height="16.5" fill="#c1c1e3"/><rect x="997.1" y="104.5" width="1.75" height="17.0" fill="#fce8ea"/><rect x="997.1" y="121.5" width="1.75" height="17.0" fill="#fbe2e4"/><rect x="997.1" y="138.5" width="1.75" height="17.0" fill="#fdedee"/><rect x="997.1" y="155.5" width="1.75" height="16.5" fill="#d4d4ec"/><rect x="998.6" y="104.5" width="2.25" height="17.0" fill="#fffefe"/><rect x="998.6" y="121.5" width="2.25" height="17.0" fill="#fffdfd"/><rect x="998.6" y="138.5" width="2.25" height="17.0" fill="#fef7f8"/><rect x="998.6" y="155.5" width="2.25" height="16.5" fill="#dcdcef"/><rect x="1000.6" y="104.5" width="2.25" height="17.0" fill="#fce7e8"/><rect x="1000.6" y="121.5" width="2.25" height="17.0" fill="#fbe3e4"/><rect x="1000.6" y="138.5" width="2.25" height="17.0" fill="#fbe0e1"/><rect x="1000.6" y="155.5" width="2.25" height="16.5" fill="#cdcde9"/><rect x="1002.6" y="104.5" width="2.25" height="17.0" fill="#fdeff0"/><rect x="1002.6" y="121.5" width="2.25" height="17.0" fill="#fce6e7"/><rect x="1002.6" y="138.5" width="2.25" height="17.0" fill="#fce6e7"/><rect x="1002.6" y="155.5" width="2.25" height="16.5" fill="#cfcfea"/><rect x="1004.6" y="104.5" width="1.75" height="17.0" fill="#fadadc"/><rect x="1004.6" y="121.5" width="1.75" height="17.0" fill="#fad4d6"/><rect x="1004.6" y="138.5" width="1.75" height="17.0" fill="#f9ced0"/><rect x="1004.6" y="155.5" width="1.75" height="16.5" fill="#e6e6f4"/><rect x="1006.1" y="104.5" width="3.25" height="17.0" fill="#fbe2e4"/><rect x="1006.1" y="121.5" width="3.25" height="17.0" fill="#fbe1e2"/><rect x="1006.1" y="138.5" width="3.25" height="17.0" fill="#fbe1e3"/><rect x="1006.1" y="155.5" width="3.25" height="16.5" fill="#f5f5fa"/><rect x="1009.1" y="104.5" width="3.25" height="17.0" fill="#fce3e5"/><rect x="1009.1" y="121.5" width="3.25" height="17.0" fill="#fbdee0"/><rect x="1009.1" y="138.5" width="3.25" height="17.0" fill="#fbe1e3"/><rect x="1009.1" y="155.5" width="3.25" height="16.5" fill="#fcfcfe"/><rect x="1012.1" y="104.5" width="2.75" height="17.0" fill="#fbddde"/><rect x="1012.1" y="121.5" width="2.75" height="17.0" fill="#fbdbdd"/><rect x="1012.1" y="138.5" width="2.75" height="17.0" fill="#fad8da"/><rect x="1012.1" y="155.5" width="2.75" height="16.5" fill="#e2e2f2"/><rect x="1014.6" y="104.5" width="2.25" height="17.0" fill="#f8c5c8"/><rect x="1014.6" y="121.5" width="2.25" height="17.0" fill="#f7c2c5"/><rect x="1014.6" y="138.5" width="2.25" height="17.0" fill="#f8c9cc"/><rect x="1014.6" y="155.5" width="2.25" height="16.5" fill="#f8f8fc"/><rect x="1016.6" y="104.5" width="1.75" height="17.0" fill="#fef4f5"/><rect x="1016.6" y="121.5" width="1.75" height="17.0" fill="#fefbfb"/><rect x="1016.6" y="138.5" width="1.75" height="17.0" fill="#fef4f4"/><rect x="1016.6" y="155.5" width="1.75" height="16.5" fill="#e4e4f3"/><rect x="1018.1" y="104.5" width="2.25" height="17.0" fill="#fce8e9"/><rect x="1018.1" y="121.5" width="2.25" height="17.0" fill="#fdebec"/><rect x="1018.1" y="138.5" width="2.25" height="17.0" fill="#fdf2f3"/><rect x="1018.1" y="155.5" width="2.25" height="16.5" fill="#e5e5f4"/><rect x="1020.1" y="104.5" width="2.25" height="17.0" fill="#fbdbdd"/><rect x="1020.1" y="121.5" width="2.25" height="17.0" fill="#fad6d8"/><rect x="1020.1" y="138.5" width="2.25" height="17.0" fill="#fbdcde"/><rect x="1020.1" y="155.5" width="2.25" height="16.5" fill="#f8f8fc"/><rect x="1022.1" y="104.5" width="3.25" height="17.0" fill="#fef9f9"/><rect x="1022.1" y="121.5" width="3.25" height="17.0" fill="#fef9fa"/><rect x="1022.1" y="138.5" width="3.25" height="17.0" fill="#fdf2f3"/><rect x="1022.1" y="155.5" width="3.25" height="16.5" fill="#d8d8ee"/><rect x="1025.1" y="104.5" width="2.75" height="17.0" fill="#fbe2e4"/><rect x="1025.1" y="121.5" width="2.75" height="17.0" fill="#fce4e5"/><rect x="1025.1" y="138.5" width="2.75" height="17.0" fill="#fce8e9"/><rect x="1025.1" y="155.5" width="2.75" height="16.5" fill="#e6e6f4"/><rect x="1027.6" y="104.5" width="2.25" height="17.0" fill="#fbe3e4"/><rect x="1027.6" y="121.5" width="2.25" height="17.0" fill="#fcebec"/><rect x="1027.6" y="138.5" width="2.25" height="17.0" fill="#fce6e8"/><rect x="1027.6" y="155.5" width="2.25" height="16.5" fill="#d2d2eb"/><rect x="1029.6" y="104.5" width="4.25" height="17.0" fill="#fceaeb"/><rect x="1029.6" y="121.5" width="4.25" height="17.0" fill="#fdeff0"/><rect x="1029.6" y="138.5" width="4.25" height="17.0" fill="#fdedee"/><rect x="1029.6" y="155.5" width="4.25" height="16.5" fill="#d0d0ea"/><rect x="1033.6" y="104.5" width="1.75" height="17.0" fill="#fceaeb"/><rect x="1033.6" y="121.5" width="1.75" height="17.0" fill="#fbe2e4"/><rect x="1033.6" y="138.5" width="1.75" height="17.0" fill="#fbe0e2"/><rect x="1033.6" y="155.5" width="1.75" height="16.5" fill="#dbdbef"/><rect x="1035.1" y="104.5" width="2.25" height="17.0" fill="#fce5e7"/><rect x="1035.1" y="121.5" width="2.25" height="17.0" fill="#fce5e6"/><rect x="1035.1" y="138.5" width="2.25" height="17.0" fill="#fceaeb"/><rect x="1035.1" y="155.5" width="2.25" height="16.5" fill="#ececf6"/><rect x="1037.1" y="104.5" width="4.25" height="17.0" fill="#fbddde"/><rect x="1037.1" y="121.5" width="4.25" height="17.0" fill="#fbe2e3"/><rect x="1037.1" y="138.5" width="4.25" height="17.0" fill="#fce9ea"/><rect x="1037.1" y="155.5" width="4.25" height="16.5" fill="#e0e0f1"/><rect x="1041.1" y="104.5" width="1.75" height="17.0" fill="#fef5f5"/><rect x="1041.1" y="121.5" width="1.75" height="17.0" fill="#fef6f6"/><rect x="1041.1" y="138.5" width="1.75" height="17.0" fill="#fef7f7"/><rect x="1041.1" y="155.5" width="1.75" height="16.5" fill="#c7c7e6"/><rect x="1042.6" y="104.5" width="2.25" height="17.0" fill="#fdebec"/><rect x="1042.6" y="121.5" width="2.25" height="17.0" fill="#fdf1f2"/><rect x="1042.6" y="138.5" width="2.25" height="17.0" fill="#fdedee"/><rect x="1042.6" y="155.5" width="2.25" height="16.5" fill="#cecee9"/><rect x="1044.6" y="104.5" width="3.25" height="17.0" fill="#fce7e8"/><rect x="1044.6" y="121.5" width="3.25" height="17.0" fill="#fce7e8"/><rect x="1044.6" y="138.5" width="3.25" height="17.0" fill="#fdebec"/><rect x="1044.6" y="155.5" width="3.25" height="16.5" fill="#ebebf6"/><rect x="1047.6" y="104.5" width="2.25" height="17.0" fill="#fdebec"/><rect x="1047.6" y="121.5" width="2.25" height="17.0" fill="#fbe1e3"/><rect x="1047.6" y="138.5" width="2.25" height="17.0" fill="#fce9ea"/><rect x="1047.6" y="155.5" width="2.25" height="16.5" fill="#eaeaf6"/><rect x="1049.6" y="104.5" width="2.25" height="17.0" fill="#fce3e4"/><rect x="1049.6" y="121.5" width="2.25" height="17.0" fill="#fce6e7"/><rect x="1049.6" y="138.5" width="2.25" height="17.0" fill="#fbe0e1"/><rect x="1049.6" y="155.5" width="2.25" height="16.5" fill="#e7e7f4"/><rect x="1051.6" y="104.5" width="2.75" height="17.0" fill="#fffcfc"/><rect x="1051.6" y="121.5" width="2.75" height="17.0" fill="#fdf1f2"/><rect x="1051.6" y="138.5" width="2.75" height="17.0" fill="#fdf2f3"/><rect x="1051.6" y="155.5" width="2.75" height="16.5" fill="#f4a7ac"/><rect x="1054.1" y="104.5" width="2.25" height="17.0" fill="#fbdcde"/><rect x="1054.1" y="121.5" width="2.25" height="17.0" fill="#fbdbdd"/><rect x="1054.1" y="138.5" width="2.25" height="17.0" fill="#fbdfe1"/><rect x="1054.1" y="155.5" width="2.25" height="16.5" fill="#f4a8ad"/><rect x="1056.1" y="104.5" width="1.75" height="17.0" fill="#fef5f6"/><rect x="1056.1" y="121.5" width="1.75" height="17.0" fill="#fefafb"/><rect x="1056.1" y="138.5" width="1.75" height="17.0" fill="#fef3f4"/><rect x="1056.1" y="155.5" width="1.75" height="16.5" fill="#f9ced1"/><rect x="1057.6" y="104.5" width="2.75" height="17.0" fill="#fef3f4"/><rect x="1057.6" y="121.5" width="2.75" height="17.0" fill="#fef7f7"/><rect x="1057.6" y="138.5" width="2.75" height="17.0" fill="#fdf2f3"/><rect x="1057.6" y="155.5" width="2.75" height="16.5" fill="#f7bec2"/><rect x="1060.1" y="104.5" width="4.25" height="17.0" fill="#fbdddf"/><rect x="1060.1" y="121.5" width="4.25" height="17.0" fill="#fbdcde"/><rect x="1060.1" y="138.5" width="4.25" height="17.0" fill="#fbe1e3"/><rect x="1060.1" y="155.5" width="4.25" height="16.5" fill="#f6b3b7"/><rect x="1064.1" y="104.5" width="1.75" height="17.0" fill="#fbdfe0"/><rect x="1064.1" y="121.5" width="1.75" height="17.0" fill="#fbdbdd"/><rect x="1064.1" y="138.5" width="1.75" height="17.0" fill="#fadadc"/><rect x="1064.1" y="155.5" width="1.75" height="16.5" fill="#f3a0a5"/><rect x="1065.6" y="104.5" width="2.25" height="17.0" fill="#fad4d7"/><rect x="1065.6" y="121.5" width="2.25" height="17.0" fill="#fad7d9"/><rect x="1065.6" y="138.5" width="2.25" height="17.0" fill="#fad7d9"/><rect x="1065.6" y="155.5" width="2.25" height="16.5" fill="#f6b9bd"/><rect x="1067.6" y="104.5" width="2.75" height="17.0" fill="#fdf1f2"/><rect x="1067.6" y="121.5" width="2.75" height="17.0" fill="#fce3e5"/><rect x="1067.6" y="138.5" width="2.75" height="17.0" fill="#fdedee"/><rect x="1067.6" y="155.5" width="2.75" height="16.5" fill="#f5b1b5"/><rect x="1070.1" y="104.5" width="2.75" height="17.0" fill="#f9d0d2"/><rect x="1070.1" y="121.5" width="2.75" height="17.0" fill="#fad4d6"/><rect x="1070.1" y="138.5" width="2.75" height="17.0" fill="#f8c9cc"/><rect x="1070.1" y="155.5" width="2.75" height="16.5" fill="#f2959b"/><rect x="1072.6" y="104.5" width="4.25" height="17.0" fill="#fce4e5"/><rect x="1072.6" y="121.5" width="4.25" height="17.0" fill="#fbdcde"/><rect x="1072.6" y="138.5" width="4.25" height="17.0" fill="#fadadc"/><rect x="1072.6" y="155.5" width="4.25" height="16.5" fill="#f2979d"/><rect x="1076.6" y="104.5" width="2.25" height="17.0" fill="#fdebec"/><rect x="1076.6" y="121.5" width="2.25" height="17.0" fill="#fceaeb"/><rect x="1076.6" y="138.5" width="2.25" height="17.0" fill="#fdeced"/><rect x="1076.6" y="155.5" width="2.25" height="16.5" fill="#fad3d5"/><rect x="1078.6" y="104.5" width="4.25" height="17.0" fill="#fad2d5"/><rect x="1078.6" y="121.5" width="4.25" height="17.0" fill="#fadadc"/><rect x="1078.6" y="138.5" width="4.25" height="17.0" fill="#fad8da"/><rect x="1078.6" y="155.5" width="4.25" height="16.5" fill="#f29398"/><rect x="1082.6" y="104.5" width="1.75" height="17.0" fill="#f5acb0"/><rect x="1082.6" y="121.5" width="1.75" height="17.0" fill="#f4a9ae"/><rect x="1082.6" y="138.5" width="1.75" height="17.0" fill="#f6b3b7"/><rect x="1082.6" y="155.5" width="1.75" height="16.5" fill="#f5afb3"/><rect x="1084.1" y="104.5" width="3.25" height="17.0" fill="#f7c0c3"/><rect x="1084.1" y="121.5" width="3.25" height="17.0" fill="#f6b5b9"/><rect x="1084.1" y="138.5" width="3.25" height="17.0" fill="#f6b8bc"/><rect x="1084.1" y="155.5" width="3.25" height="16.5" fill="#f2959b"/><rect x="1087.1" y="104.5" width="1.75" height="17.0" fill="#f9cfd2"/><rect x="1087.1" y="121.5" width="1.75" height="17.0" fill="#f7bfc3"/><rect x="1087.1" y="138.5" width="1.75" height="17.0" fill="#f8c6c9"/><rect x="1087.1" y="155.5" width="1.75" height="16.5" fill="#f6b6ba"/><rect x="1088.6" y="104.5" width="2.25" height="17.0" fill="#fad9db"/><rect x="1088.6" y="121.5" width="2.25" height="17.0" fill="#fad8da"/><rect x="1088.6" y="138.5" width="2.25" height="17.0" fill="#fbdddf"/><rect x="1088.6" y="155.5" width="2.25" height="16.5" fill="#f2969c"/><rect x="1090.6" y="104.5" width="3.25" height="17.0" fill="#fdeeef"/><rect x="1090.6" y="121.5" width="3.25" height="17.0" fill="#fdebec"/><rect x="1090.6" y="138.5" width="3.25" height="17.0" fill="#fdf3f3"/><rect x="1090.6" y="155.5" width="3.25" height="16.5" fill="#fad4d7"/><rect x="1093.6" y="104.5" width="2.25" height="17.0" fill="#fdeff0"/><rect x="1093.6" y="121.5" width="2.25" height="17.0" fill="#fce9ea"/><rect x="1093.6" y="138.5" width="2.25" height="17.0" fill="#fce9ea"/><rect x="1093.6" y="155.5" width="2.25" height="16.5" fill="#fceaeb"/><rect x="1095.6" y="104.5" width="2.25" height="17.0" fill="#fdeeee"/><rect x="1095.6" y="121.5" width="2.25" height="17.0" fill="#fdf0f1"/><rect x="1095.6" y="138.5" width="2.25" height="17.0" fill="#fef9f9"/><rect x="1095.6" y="155.5" width="2.25" height="16.5" fill="#fdf0f1"/><rect x="1097.6" y="104.5" width="2.25" height="17.0" fill="#fce3e5"/><rect x="1097.6" y="121.5" width="2.25" height="17.0" fill="#fbdbdd"/><rect x="1097.6" y="138.5" width="2.25" height="17.0" fill="#fadadc"/><rect x="1097.6" y="155.5" width="2.25" height="16.5" fill="#fce7e8"/><rect x="1099.6" y="104.5" width="3.25" height="17.0" fill="#fce9ea"/><rect x="1099.6" y="121.5" width="3.25" height="17.0" fill="#fbe0e1"/><rect x="1099.6" y="138.5" width="3.25" height="17.0" fill="#fdebec"/><rect x="1099.6" y="155.5" width="3.25" height="16.5" fill="#fef9f9"/><rect x="1102.6" y="104.5" width="4.25" height="17.0" fill="#fad9db"/><rect x="1102.6" y="121.5" width="4.25" height="17.0" fill="#fbe2e4"/><rect x="1102.6" y="138.5" width="4.25" height="17.0" fill="#fbe0e2"/><rect x="1102.6" y="155.5" width="4.25" height="16.5" fill="#fadadc"/><rect x="1106.6" y="104.5" width="2.25" height="17.0" fill="#fbdddf"/><rect x="1106.6" y="121.5" width="2.25" height="17.0" fill="#fce4e5"/><rect x="1106.6" y="138.5" width="2.25" height="17.0" fill="#fce9ea"/><rect x="1106.6" y="155.5" width="2.25" height="16.5" fill="#fef4f5"/><rect x="1108.6" y="104.5" width="2.25" height="17.0" fill="#fdf2f3"/><rect x="1108.6" y="121.5" width="2.25" height="17.0" fill="#fef8f9"/><rect x="1108.6" y="138.5" width="2.25" height="17.0" fill="#fdf2f3"/><rect x="1108.6" y="155.5" width="2.25" height="16.5" fill="#fce9ea"/><rect x="1110.6" y="104.5" width="2.25" height="17.0" fill="#fbe2e3"/><rect x="1110.6" y="121.5" width="2.25" height="17.0" fill="#fbdee0"/><rect x="1110.6" y="138.5" width="2.25" height="17.0" fill="#fbdbdd"/><rect x="1110.6" y="155.5" width="2.25" height="16.5" fill="#fce6e7"/><rect x="1112.6" y="104.5" width="2.25" height="17.0" fill="#fad5d7"/><rect x="1112.6" y="121.5" width="2.25" height="17.0" fill="#fbdee0"/><rect x="1112.6" y="138.5" width="2.25" height="17.0" fill="#fbdee0"/><rect x="1112.6" y="155.5" width="2.25" height="16.5" fill="#fef8f8"/><rect x="1114.6" y="104.5" width="4.25" height="17.0" fill="#fdeff0"/><rect x="1114.6" y="121.5" width="4.25" height="17.0" fill="#fef7f7"/><rect x="1114.6" y="138.5" width="4.25" height="17.0" fill="#fef6f6"/><rect x="1114.6" y="155.5" width="4.25" height="16.5" fill="#fce8e9"/><rect x="1118.6" y="104.5" width="1.75" height="17.0" fill="#fef7f8"/><rect x="1118.6" y="121.5" width="1.75" height="17.0" fill="#fef8f9"/><rect x="1118.6" y="138.5" width="1.75" height="17.0" fill="#fefafa"/><rect x="1118.6" y="155.5" width="1.75" height="16.5" fill="#fce6e8"/><rect x="1120.1" y="104.5" width="2.25" height="17.0" fill="#fdeced"/><rect x="1120.1" y="121.5" width="2.25" height="17.0" fill="#fef3f4"/><rect x="1120.1" y="138.5" width="2.25" height="17.0" fill="#fef3f4"/><rect x="1120.1" y="155.5" width="2.25" height="16.5" fill="#fce7e9"/><rect x="1122.1" y="104.5" width="2.25" height="17.0" fill="#fce5e6"/><rect x="1122.1" y="121.5" width="2.25" height="17.0" fill="#fadadc"/><rect x="1122.1" y="138.5" width="2.25" height="17.0" fill="#fbdee0"/><rect x="1122.1" y="155.5" width="2.25" height="16.5" fill="#fad9db"/><rect x="1124.1" y="104.5" width="3.25" height="17.0" fill="#fce7e8"/><rect x="1124.1" y="121.5" width="3.25" height="17.0" fill="#fdedee"/><rect x="1124.1" y="138.5" width="3.25" height="17.0" fill="#fdf1f2"/><rect x="1124.1" y="155.5" width="3.25" height="16.5" fill="#fce7e8"/><rect x="1127.1" y="104.5" width="4.25" height="17.0" fill="#fbdfe0"/><rect x="1127.1" y="121.5" width="4.25" height="17.0" fill="#fbdcde"/><rect x="1127.1" y="138.5" width="4.25" height="17.0" fill="#fce3e4"/><rect x="1127.1" y="155.5" width="4.25" height="16.5" fill="#fdf1f2"/><rect x="1131.1" y="104.5" width="4.25" height="17.0" fill="#fce3e5"/><rect x="1131.1" y="121.5" width="4.25" height="17.0" fill="#fbdddf"/><rect x="1131.1" y="138.5" width="4.25" height="17.0" fill="#fce8e9"/><rect x="1131.1" y="155.5" width="4.25" height="16.5" fill="#fbdee0"/><rect x="1135.1" y="104.5" width="2.25" height="17.0" fill="#fef6f7"/><rect x="1135.1" y="121.5" width="2.25" height="17.0" fill="#fef3f4"/><rect x="1135.1" y="138.5" width="2.25" height="17.0" fill="#fef5f5"/><rect x="1135.1" y="155.5" width="2.25" height="16.5" fill="#fdf3f3"/><rect x="1137.1" y="104.5" width="4.25" height="17.0" fill="#fdeff0"/><rect x="1137.1" y="121.5" width="4.25" height="17.0" fill="#fdedee"/><rect x="1137.1" y="138.5" width="4.25" height="17.0" fill="#fdf0f0"/><rect x="1137.1" y="155.5" width="4.25" height="16.5" fill="#fef4f4"/><rect x="1141.1" y="104.5" width="2.75" height="17.0" fill="#fffefe"/><rect x="1141.1" y="121.5" width="2.75" height="17.0" fill="#fef5f5"/><rect x="1141.1" y="138.5" width="2.75" height="17.0" fill="#ffffff"/><rect x="1141.1" y="155.5" width="2.75" height="16.5" fill="#fef8f8"/><rect x="1143.6" y="104.5" width="2.25" height="17.0" fill="#fef7f8"/><rect x="1143.6" y="121.5" width="2.25" height="17.0" fill="#fef7f8"/><rect x="1143.6" y="138.5" width="2.25" height="17.0" fill="#fef5f6"/><rect x="1143.6" y="155.5" width="2.25" height="16.5" fill="#fef6f7"/><rect x="1145.6" y="104.5" width="4.25" height="17.0" fill="#fef7f7"/><rect x="1145.6" y="121.5" width="4.25" height="17.0" fill="#ffffff"/><rect x="1145.6" y="138.5" width="4.25" height="17.0" fill="#fef6f6"/><rect x="1145.6" y="155.5" width="4.25" height="16.5" fill="#fef4f5"/><rect x="1149.6" y="104.5" width="3.25" height="17.0" fill="#fdeff0"/><rect x="1149.6" y="121.5" width="3.25" height="17.0" fill="#fdf1f1"/><rect x="1149.6" y="138.5" width="3.25" height="17.0" fill="#fef7f8"/><rect x="1149.6" y="155.5" width="3.25" height="16.5" fill="#fef9f9"/><rect x="1152.6" y="104.5" width="4.25" height="17.0" fill="#fef8f8"/><rect x="1152.6" y="121.5" width="4.25" height="17.0" fill="#fef9f9"/><rect x="1152.6" y="138.5" width="4.25" height="17.0" fill="#fffcfc"/><rect x="1152.6" y="155.5" width="4.25" height="16.5" fill="#fef3f4"/><rect x="1156.6" y="104.5" width="1.75" height="17.0" fill="#fdf0f1"/><rect x="1156.6" y="121.5" width="1.75" height="17.0" fill="#fdf1f2"/><rect x="1156.6" y="138.5" width="1.75" height="17.0" fill="#fef3f4"/><rect x="1156.6" y="155.5" width="1.75" height="16.5" fill="#fef6f7"/><rect x="1158.1" y="104.5" width="4.25" height="17.0" fill="#fce8e9"/><rect x="1158.1" y="121.5" width="4.25" height="17.0" fill="#fdf0f1"/><rect x="1158.1" y="138.5" width="4.25" height="17.0" fill="#fdeced"/><rect x="1158.1" y="155.5" width="4.25" height="16.5" fill="#fefbfb"/><rect x="1162.1" y="104.5" width="2.25" height="17.0" fill="#fce9eb"/><rect x="1162.1" y="121.5" width="2.25" height="17.0" fill="#fef3f4"/><rect x="1162.1" y="138.5" width="2.25" height="17.0" fill="#fdeced"/><rect x="1162.1" y="155.5" width="2.25" height="16.5" fill="#fef3f4"/><rect x="1164.1" y="104.5" width="2.25" height="17.0" fill="#fce3e5"/><rect x="1164.1" y="121.5" width="2.25" height="17.0" fill="#fbdedf"/><rect x="1164.1" y="138.5" width="2.25" height="17.0" fill="#fcebec"/><rect x="1164.1" y="155.5" width="2.25" height="16.5" fill="#fffefe"/><rect x="1166.1" y="104.5" width="3.25" height="17.0" fill="#fce4e6"/><rect x="1166.1" y="121.5" width="3.25" height="17.0" fill="#fce6e7"/><rect x="1166.1" y="138.5" width="3.25" height="17.0" fill="#fce4e5"/><rect x="1166.1" y="155.5" width="3.25" height="16.5" fill="#fcfcfd"/><rect x="1169.1" y="104.5" width="1.75" height="17.0" fill="#f8c8cb"/><rect x="1169.1" y="121.5" width="1.75" height="17.0" fill="#f8c3c6"/><rect x="1169.1" y="138.5" width="1.75" height="17.0" fill="#f8cacc"/><rect x="1169.1" y="155.5" width="1.75" height="16.5" fill="#fffdfd"/><rect x="1170.6" y="104.5" width="1.75" height="17.0" fill="#fad6d8"/><rect x="1170.6" y="121.5" width="1.75" height="17.0" fill="#f9d2d4"/><rect x="1170.6" y="138.5" width="1.75" height="17.0" fill="#f8c9cc"/><rect x="1170.6" y="155.5" width="1.75" height="16.5" fill="#fefbfb"/><rect x="1172.1" y="104.5" width="2.25" height="17.0" fill="#f6b9bc"/><rect x="1172.1" y="121.5" width="2.25" height="17.0" fill="#f8c6c9"/><rect x="1172.1" y="138.5" width="2.25" height="17.0" fill="#f8c7ca"/><rect x="1172.1" y="155.5" width="2.25" height="16.5" fill="#fef4f4"/><rect x="1174.1" y="104.5" width="1.75" height="17.0" fill="#f8c8cb"/><rect x="1174.1" y="121.5" width="1.75" height="17.0" fill="#f7c2c5"/><rect x="1174.1" y="138.5" width="1.75" height="17.0" fill="#f7c2c5"/><rect x="1174.1" y="155.5" width="1.75" height="16.5" fill="#fce9ea"/><rect x="1175.6" y="104.5" width="2.25" height="17.0" fill="#fad7d9"/><rect x="1175.6" y="121.5" width="2.25" height="17.0" fill="#f9ced1"/><rect x="1175.6" y="138.5" width="2.25" height="17.0" fill="#fad7d9"/><rect x="1175.6" y="155.5" width="2.25" height="16.5" fill="#fce3e5"/><rect x="1177.6" y="104.5" width="2.25" height="17.0" fill="#fbdbdd"/><rect x="1177.6" y="121.5" width="2.25" height="17.0" fill="#f9d1d4"/><rect x="1177.6" y="138.5" width="2.25" height="17.0" fill="#f9d1d4"/><rect x="1177.6" y="155.5" width="2.25" height="16.5" fill="#fdeeef"/><rect x="1179.6" y="104.5" width="2.75" height="17.0" fill="#fbdcde"/><rect x="1179.6" y="121.5" width="2.75" height="17.0" fill="#fbdfe1"/><rect x="1179.6" y="138.5" width="2.75" height="17.0" fill="#fbdcde"/><rect x="1179.6" y="155.5" width="2.75" height="16.5" fill="#fbdbdd"/><rect x="1182.1" y="104.5" width="4.25" height="17.0" fill="#fbdddf"/><rect x="1182.1" y="121.5" width="4.25" height="17.0" fill="#fbdcde"/><rect x="1182.1" y="138.5" width="4.25" height="17.0" fill="#fbdee0"/><rect x="1182.1" y="155.5" width="4.25" height="16.5" fill="#fffefe"/><rect x="1186.1" y="104.5" width="2.25" height="17.0" fill="#fad9db"/><rect x="1186.1" y="121.5" width="2.25" height="17.0" fill="#fbdee0"/><rect x="1186.1" y="138.5" width="2.25" height="17.0" fill="#fbdbdd"/><rect x="1186.1" y="155.5" width="2.25" height="16.5" fill="#fef6f7"/><rect x="1188.1" y="104.5" width="2.75" height="17.0" fill="#f8c9cc"/><rect x="1188.1" y="121.5" width="2.75" height="17.0" fill="#f9d1d4"/><rect x="1188.1" y="138.5" width="2.75" height="17.0" fill="#fad4d6"/><rect x="1188.1" y="155.5" width="2.75" height="16.5" fill="#fffefe"/><rect x="1190.6" y="104.5" width="4.25" height="17.0" fill="#f7bec2"/><rect x="1190.6" y="121.5" width="4.25" height="17.0" fill="#f6b6ba"/><rect x="1190.6" y="138.5" width="4.25" height="17.0" fill="#f6b7bb"/><rect x="1190.6" y="155.5" width="4.25" height="16.5" fill="#fbdfe0"/><rect x="1194.6" y="104.5" width="1.75" height="17.0" fill="#f6b2b6"/><rect x="1194.6" y="121.5" width="1.75" height="17.0" fill="#f6babe"/><rect x="1194.6" y="138.5" width="1.75" height="17.0" fill="#f6b2b6"/><rect x="1194.6" y="155.5" width="1.75" height="16.5" fill="#fdf2f3"/><rect x="1196.1" y="104.5" width="2.25" height="17.0" fill="#f8c2c6"/><rect x="1196.1" y="121.5" width="2.25" height="17.0" fill="#f9cbce"/><rect x="1196.1" y="138.5" width="2.25" height="17.0" fill="#f8c5c8"/><rect x="1196.1" y="155.5" width="2.25" height="16.5" fill="#fef7f8"/><rect x="1198.1" y="104.5" width="1.75" height="17.0" fill="#fbdcde"/><rect x="1198.1" y="121.5" width="1.75" height="17.0" fill="#fce4e5"/><rect x="1198.1" y="138.5" width="1.75" height="17.0" fill="#fbe2e4"/><rect x="1198.1" y="155.5" width="1.75" height="16.5" fill="#fdf1f2"/><rect x="1199.6" y="104.5" width="2.75" height="17.0" fill="#fad4d6"/><rect x="1199.6" y="121.5" width="2.75" height="17.0" fill="#f8c9cc"/><rect x="1199.6" y="138.5" width="2.75" height="17.0" fill="#f9d2d4"/><rect x="1199.6" y="155.5" width="2.75" height="16.5" fill="#fce5e7"/><rect x="1202.1" y="104.5" width="4.25" height="17.0" fill="#f9cdd0"/><rect x="1202.1" y="121.5" width="4.25" height="17.0" fill="#f9ced0"/><rect x="1202.1" y="138.5" width="4.25" height="17.0" fill="#fad4d6"/><rect x="1202.1" y="155.5" width="4.25" height="16.5" fill="#fdeff0"/><rect x="1206.1" y="104.5" width="2.25" height="17.0" fill="#f9cdd0"/><rect x="1206.1" y="121.5" width="2.25" height="17.0" fill="#fad9db"/><rect x="1206.1" y="138.5" width="2.25" height="17.0" fill="#fad8da"/><rect x="1206.1" y="155.5" width="2.25" height="16.5" fill="#fef3f4"/><rect x="1208.1" y="104.5" width="2.25" height="17.0" fill="#fad8da"/><rect x="1208.1" y="121.5" width="2.25" height="17.0" fill="#fadadc"/><rect x="1208.1" y="138.5" width="2.25" height="17.0" fill="#fbdfe1"/><rect x="1208.1" y="155.5" width="2.25" height="16.5" fill="#ffffff"/><rect x="1210.1" y="104.5" width="4.25" height="17.0" fill="#fad4d7"/><rect x="1210.1" y="121.5" width="4.25" height="17.0" fill="#f9d0d2"/><rect x="1210.1" y="138.5" width="4.25" height="17.0" fill="#fbdddf"/><rect x="1210.1" y="155.5" width="4.25" height="16.5" fill="#f5b1b5"/><rect x="1214.1" y="104.5" width="4.25" height="17.0" fill="#fadadc"/><rect x="1214.1" y="121.5" width="4.25" height="17.0" fill="#fbe2e4"/><rect x="1214.1" y="138.5" width="4.25" height="17.0" fill="#fadadc"/><rect x="1214.1" y="155.5" width="4.25" height="16.5" fill="#f9cdd0"/><rect x="1218.1" y="104.5" width="2.75" height="17.0" fill="#fbe0e1"/><rect x="1218.1" y="121.5" width="2.75" height="17.0" fill="#fbe0e2"/><rect x="1218.1" y="138.5" width="2.75" height="17.0" fill="#fad7d9"/><rect x="1218.1" y="155.5" width="2.75" height="16.5" fill="#f9cbce"/><rect x="1220.6" y="104.5" width="4.25" height="17.0" fill="#fbdfe1"/><rect x="1220.6" y="121.5" width="4.25" height="17.0" fill="#fadadc"/><rect x="1220.6" y="138.5" width="4.25" height="17.0" fill="#fad9db"/><rect x="1220.6" y="155.5" width="4.25" height="16.5" fill="#fad3d6"/><rect x="1224.6" y="104.5" width="4.25" height="17.0" fill="#fbdddf"/><rect x="1224.6" y="121.5" width="4.25" height="17.0" fill="#fadadc"/><rect x="1224.6" y="138.5" width="4.25" height="17.0" fill="#fad8da"/><rect x="1224.6" y="155.5" width="4.25" height="16.5" fill="#fad8da"/><rect x="1228.6" y="104.5" width="2.75" height="17.0" fill="#fbdfe1"/><rect x="1228.6" y="121.5" width="2.75" height="17.0" fill="#fbe1e3"/><rect x="1228.6" y="138.5" width="2.75" height="17.0" fill="#fbdfe1"/><rect x="1228.6" y="155.5" width="2.75" height="16.5" fill="#fef9f9"/><rect x="1231.1" y="104.5" width="2.75" height="17.0" fill="#fdebed"/><rect x="1231.1" y="121.5" width="2.75" height="17.0" fill="#fdebec"/><rect x="1231.1" y="138.5" width="2.75" height="17.0" fill="#fef5f5"/><rect x="1231.1" y="155.5" width="2.75" height="16.5" fill="#fceaeb"/><rect x="1233.6" y="104.5" width="3.25" height="17.0" fill="#fce8e9"/><rect x="1233.6" y="121.5" width="3.25" height="17.0" fill="#fce6e7"/><rect x="1233.6" y="138.5" width="3.25" height="17.0" fill="#fdf2f2"/><rect x="1233.6" y="155.5" width="3.25" height="16.5" fill="#fef8f9"/><rect x="1236.6" y="104.5" width="2.25" height="17.0" fill="#fad7d9"/><rect x="1236.6" y="121.5" width="2.25" height="17.0" fill="#fbdbdd"/><rect x="1236.6" y="138.5" width="2.25" height="17.0" fill="#fad5d7"/><rect x="1236.6" y="155.5" width="2.25" height="16.5" fill="#fdf2f3"/><rect x="1238.6" y="104.5" width="2.75" height="17.0" fill="#fdebec"/><rect x="1238.6" y="121.5" width="2.75" height="17.0" fill="#fce3e4"/><rect x="1238.6" y="138.5" width="2.75" height="17.0" fill="#fdf0f0"/><rect x="1238.6" y="155.5" width="2.75" height="16.5" fill="#fbdcde"/><rect x="1241.1" y="104.5" width="2.25" height="17.0" fill="#fadadc"/><rect x="1241.1" y="121.5" width="2.25" height="17.0" fill="#fadadc"/><rect x="1241.1" y="138.5" width="2.25" height="17.0" fill="#fbdddf"/><rect x="1241.1" y="155.5" width="2.25" height="16.5" fill="#fce8ea"/><rect x="1243.1" y="104.5" width="2.25" height="17.0" fill="#fef4f4"/><rect x="1243.1" y="121.5" width="2.25" height="17.0" fill="#fef4f5"/><rect x="1243.1" y="138.5" width="2.25" height="17.0" fill="#fdeced"/><rect x="1243.1" y="155.5" width="2.25" height="16.5" fill="#fceaeb"/><rect x="1245.1" y="104.5" width="2.25" height="17.0" fill="#fad4d7"/><rect x="1245.1" y="121.5" width="2.25" height="17.0" fill="#f9d0d3"/><rect x="1245.1" y="138.5" width="2.25" height="17.0" fill="#f9d1d3"/><rect x="1245.1" y="155.5" width="2.25" height="16.5" fill="#fef9f9"/><rect x="1247.1" y="104.5" width="3.25" height="17.0" fill="#fce9ea"/><rect x="1247.1" y="121.5" width="3.25" height="17.0" fill="#fbe1e2"/><rect x="1247.1" y="138.5" width="3.25" height="17.0" fill="#fce9ea"/><rect x="1247.1" y="155.5" width="3.25" height="16.5" fill="#fefafa"/><rect x="1250.1" y="104.5" width="3.25" height="17.0" fill="#f9cdd0"/><rect x="1250.1" y="121.5" width="3.25" height="17.0" fill="#f8c4c7"/><rect x="1250.1" y="138.5" width="3.25" height="17.0" fill="#f7bec2"/><rect x="1250.1" y="155.5" width="3.25" height="16.5" fill="#fadadc"/><rect x="1253.1" y="104.5" width="1.75" height="17.0" fill="#f9d2d4"/><rect x="1253.1" y="121.5" width="1.75" height="17.0" fill="#f9cdd0"/><rect x="1253.1" y="138.5" width="1.75" height="17.0" fill="#f9cacd"/><rect x="1253.1" y="155.5" width="1.75" height="16.5" fill="#fdeced"/><rect x="1254.6" y="104.5" width="2.25" height="17.0" fill="#fdf0f1"/><rect x="1254.6" y="121.5" width="2.25" height="17.0" fill="#fbe2e4"/><rect x="1254.6" y="138.5" width="2.25" height="17.0" fill="#fdedee"/><rect x="1254.6" y="155.5" width="2.25" height="16.5" fill="#fce9ea"/><rect x="1256.6" y="104.5" width="2.25" height="17.0" fill="#f7bfc3"/><rect x="1256.6" y="121.5" width="2.25" height="17.0" fill="#f9cbce"/><rect x="1256.6" y="138.5" width="2.25" height="17.0" fill="#f8c3c6"/><rect x="1256.6" y="155.5" width="2.25" height="16.5" fill="#fce5e7"/><rect x="1258.6" y="104.5" width="3.25" height="17.0" fill="#fbe1e3"/><rect x="1258.6" y="121.5" width="3.25" height="17.0" fill="#fbe2e4"/><rect x="1258.6" y="138.5" width="3.25" height="17.0" fill="#fbdddf"/><rect x="1258.6" y="155.5" width="3.25" height="16.5" fill="#fce5e6"/><rect x="1261.6" y="104.5" width="4.25" height="17.0" fill="#fce5e6"/><rect x="1261.6" y="121.5" width="4.25" height="17.0" fill="#fce7e9"/><rect x="1261.6" y="138.5" width="4.25" height="17.0" fill="#fbe1e3"/><rect x="1261.6" y="155.5" width="4.25" height="16.5" fill="#fef4f5"/><rect x="1265.6" y="104.5" width="1.75" height="17.0" fill="#f7bec2"/><rect x="1265.6" y="121.5" width="1.75" height="17.0" fill="#f7bdc1"/><rect x="1265.6" y="138.5" width="1.75" height="17.0" fill="#f8c7ca"/><rect x="1265.6" y="155.5" width="1.75" height="16.5" fill="#fad6d8"/><rect x="1267.1" y="104.5" width="3.25" height="17.0" fill="#f9cdd0"/><rect x="1267.1" y="121.5" width="3.25" height="17.0" fill="#fad3d5"/><rect x="1267.1" y="138.5" width="3.25" height="17.0" fill="#f8c6c9"/><rect x="1267.1" y="155.5" width="3.25" height="16.5" fill="#fad5d7"/><rect x="1270.1" y="104.5" width="1.75" height="17.0" fill="#fbe0e1"/><rect x="1270.1" y="121.5" width="1.75" height="17.0" fill="#fadadc"/><rect x="1270.1" y="138.5" width="1.75" height="17.0" fill="#fadadc"/><rect x="1270.1" y="155.5" width="1.75" height="16.5" fill="#fdeff0"/><rect x="1271.6" y="104.5" width="4.25" height="17.0" fill="#fbdee0"/><rect x="1271.6" y="121.5" width="4.25" height="17.0" fill="#fce5e6"/><rect x="1271.6" y="138.5" width="4.25" height="17.0" fill="#fce4e6"/><rect x="1271.6" y="155.5" width="4.25" height="16.5" fill="#fadadc"/><rect x="1275.6" y="104.5" width="3.05" height="17.0" fill="#f8c9cc"/><rect x="1275.6" y="121.5" width="3.05" height="17.0" fill="#f9cccf"/><rect x="1275.6" y="138.5" width="3.05" height="17.0" fill="#f8c7ca"/><rect x="1275.6" y="155.5" width="3.05" height="16.5" fill="#fbe0e1"/></g>
<line x1="619.8" y1="104.5" x2="1279.2" y2="104.5" stroke="#000" stroke-width="1.6" />
<line x1="619.8" y1="121.5" x2="1279.2" y2="121.5" stroke="#000" stroke-width="1.6" />
<line x1="619.8" y1="138.5" x2="1279.2" y2="138.5" stroke="#000" stroke-width="1.6" />
<line x1="619.8" y1="155.5" x2="1279.2" y2="155.5" stroke="#000" stroke-width="1.6" />
<line x1="619.8" y1="172.0" x2="1279.2" y2="172.0" stroke="#000" stroke-width="1.6" />
<line x1="620.6" y1="104.5" x2="620.6" y2="172.5" stroke="#000" stroke-width="1.6" />
<line x1="1278.4" y1="104.5" x2="1278.4" y2="172.5" stroke="#000" stroke-width="1.6" />
<line x1="892.6" y1="104.5" x2="892.6" y2="172.5" stroke="#000" stroke-width="1.6" />
<text x="616.8" y="118.0" font-size="17.6" text-anchor="end" fill="#000" font-weight="normal" font-style="italic" >Homo sapiens</text>
<text x="616.8" y="134.4" font-size="17.6" text-anchor="end" fill="#000" font-weight="normal" font-style="normal" >Neanderthal</text>
<text x="616.8" y="151.4" font-size="17.6" text-anchor="end" fill="#000" font-weight="normal" font-style="normal" >Denisovan</text>
<text x="616.8" y="167.6" font-size="17.6" text-anchor="end" fill="#000" font-weight="normal" font-style="italic" >Pan troglodytes</text>
<path d="M500.8,113 H476 V129.6 H516 M474.5,121.5 V146.4 H529 M474.5,134 H455.75 V163.25 H489.9" stroke="#000" stroke-width="1.6" fill="none"/>
<text x="934.5" y="185.6" font-size="15" text-anchor="middle" fill="#000" font-weight="normal" font-style="normal" >Protein-coding genes (N=11667)</text>
<defs><linearGradient id="cb" x1="0" x2="1" y1="0" y2="0"><stop offset="0" stop-color="#2a46a6"/><stop offset="0.25" stop-color="#7a86c4"/><stop offset="0.5" stop-color="#ffffff"/><stop offset="0.75" stop-color="#f08890"/><stop offset="1" stop-color="#e61d28"/></linearGradient></defs>
<rect x="1073.4" y="21.5" width="202" height="14" fill="url(#cb)" stroke="#000" stroke-width="1.6"/>
<text x="0" y="0" font-size="20.5" transform="translate(1079.6,17.6) scale(1,1.1)">ω</text>
<text x="1098.0" y="18.3" font-size="7.5" text-anchor="start" fill="#000" font-weight="normal" font-style="normal" >GC</text>
<text x="1115.9" y="17.2" font-size="15" text-anchor="start" fill="#000" font-weight="normal" font-style="normal" >(vs. common ancestor)</text>
<text x="1076.3" y="50.7" font-size="15" text-anchor="middle" fill="#333" font-weight="normal" font-style="normal" >-5</text>
<text x="1173.9" y="50.7" font-size="15" text-anchor="middle" fill="#333" font-weight="normal" font-style="normal" >0</text>
<text x="1270.5" y="50.7" font-size="15" text-anchor="middle" fill="#333" font-weight="normal" font-style="normal" >+5</text>
<text x="850.0" y="219.0" font-size="15.2" text-anchor="end" fill="#000" font-weight="normal" font-style="normal" >Olfactory receptor activity (GO:4984)</text>
<line x1="916.5" y1="213.6" x2="1165.6" y2="213.6" stroke="#e3202a" stroke-width="4.2" />
<rect x="1018.1999999999999" y="208.4" width="10.4" height="10.4" fill="#e3202a"/>
<text x="1167.5" y="219.2" font-size="15.8" text-anchor="start" fill="#1a1a1a" font-weight="normal" font-style="italic" >p=8e-9</text>
<text x="850.0" y="239.6" font-size="15.2" text-anchor="end" fill="#000" font-weight="normal" font-style="normal" >Ion transport (GO:6811)</text>
<line x1="912.2" y1="234.2" x2="1026.5" y2="234.2" stroke="#1ba3dd" stroke-width="3.2" />
<rect x="960.8" y="229.0" width="10.4" height="10.4" fill="#1ba3dd"/>
<text x="1029.0" y="239.8" font-size="15.8" text-anchor="start" fill="#1a1a1a" font-weight="normal" font-style="italic" >p=1e-11</text>
<text x="850.0" y="260.2" font-size="15.2" text-anchor="end" fill="#000" font-weight="normal" font-style="normal" >Regulation of cell communication (GO:10646)</text>
<line x1="902.7" y1="254.8" x2="989.2" y2="254.8" stroke="#1ba3dd" stroke-width="3.2" />
<rect x="937.5999999999999" y="249.60000000000002" width="10.4" height="10.4" fill="#1ba3dd"/>
<text x="992.0" y="260.4" font-size="15.8" text-anchor="start" fill="#1a1a1a" font-weight="normal" font-style="italic" >p=6e-11</text>
<text x="850.0" y="280.8" font-size="15.2" text-anchor="end" fill="#000" font-weight="normal" font-style="normal" >Nervous system development (GO:7399)</text>
<line x1="896.4" y1="275.4" x2="986.0" y2="275.4" stroke="#1ba3dd" stroke-width="3.2" />
<rect x="932.8" y="270.2" width="10.4" height="10.4" fill="#1ba3dd"/>
<text x="989.0" y="281.0" font-size="15.8" text-anchor="start" fill="#1a1a1a" font-weight="normal" font-style="italic" >p=2e-9</text>
<text x="850.0" y="301.4" font-size="15.2" text-anchor="end" fill="#000" font-weight="normal" font-style="normal" >ATP binding (GO:5524)</text>
<line x1="893.6" y1="296.0" x2="970.6" y2="296.0" stroke="#1ba3dd" stroke-width="3.2" />
<rect x="924.5" y="290.8" width="10.4" height="10.4" fill="#1ba3dd"/>
<text x="974.0" y="301.6" font-size="15.8" text-anchor="start" fill="#1a1a1a" font-weight="normal" font-style="italic" >p=6e-9</text>
<text x="850.0" y="322.0" font-size="15.2" text-anchor="end" fill="#000" font-weight="normal" font-style="normal" >Intrinsic to plasma membrane (GO:31226)</text>
<line x1="893.3" y1="316.6" x2="982.7" y2="316.6" stroke="#1ba3dd" stroke-width="3.2" />
<rect x="930.4" y="311.40000000000003" width="10.4" height="10.4" fill="#1ba3dd"/>
<text x="988.5" y="322.2" font-size="15.8" text-anchor="start" fill="#1a1a1a" font-weight="normal" font-style="italic" >p=7e-9</text>
<text x="850.0" y="342.5" font-size="15.2" text-anchor="end" fill="#000" font-weight="normal" font-style="normal" >Synapse (GO:45202)</text>
<line x1="908.8" y1="337.1" x2="1076.5" y2="337.1" stroke="#1ba3dd" stroke-width="3.2" />
<rect x="979.1999999999999" y="331.90000000000003" width="10.4" height="10.4" fill="#1ba3dd"/>
<text x="1080.6" y="342.7" font-size="15.8" text-anchor="start" fill="#1a1a1a" font-weight="normal" font-style="italic" >p=2e-8</text>
<text x="850.0" y="363.1" font-size="15.2" text-anchor="end" fill="#000" font-weight="normal" font-style="normal" >Neuron projection (GO:43005)</text>
<line x1="902.6" y1="357.8" x2="1060.7" y2="357.8" stroke="#1ba3dd" stroke-width="3.2" />
<rect x="968.8" y="352.55" width="10.4" height="10.4" fill="#1ba3dd"/>
<text x="1065.2" y="363.4" font-size="15.8" text-anchor="start" fill="#1a1a1a" font-weight="normal" font-style="italic" >p=9e-8</text>
<text x="850.0" y="383.8" font-size="15.2" text-anchor="end" fill="#000" font-weight="normal" font-style="normal" >Cell surface receptor linked signaling pathway (GO:7166)</text>
<line x1="884.0" y1="378.4" x2="970.6" y2="378.4" stroke="#1ba3dd" stroke-width="3.2" />
<rect x="919.6999999999999" y="373.2" width="10.4" height="10.4" fill="#1ba3dd"/>
<text x="973.4" y="384.0" font-size="15.8" text-anchor="start" fill="#1a1a1a" font-weight="normal" font-style="italic" >p=7e-7</text>
<text x="850.0" y="405.1" font-size="15.2" text-anchor="end" fill="#000" font-weight="normal" font-style="normal" >Transmission of nerve impulse (GO:19226)</text>
<line x1="896.0" y1="399.7" x2="1063.4" y2="399.7" stroke="#1ba3dd" stroke-width="3.2" />
<rect x="966.0999999999999" y="394.5" width="10.4" height="10.4" fill="#1ba3dd"/>
<text x="1068.6" y="405.3" font-size="15.8" text-anchor="start" fill="#1a1a1a" font-weight="normal" font-style="italic" >p=1e-6</text>
<text x="850.0" y="425.7" font-size="15.2" text-anchor="end" fill="#000" font-weight="normal" font-style="normal" >Divalent metal ion transport (GO:70838)</text>
<line x1="905.3" y1="420.3" x2="1216.4" y2="420.3" stroke="#1ba3dd" stroke-width="3.2" />
<rect x="1030.1" y="415.1" width="10.4" height="10.4" fill="#1ba3dd"/>
<text x="1220.9" y="425.9" font-size="15.8" text-anchor="start" fill="#1a1a1a" font-weight="normal" font-style="italic" >p=1e-6</text>
<rect x="856.4" y="204.1" width="421" height="227.4" fill="none" stroke="#000" stroke-width="2.4"/>
<line x1="874.5" y1="204.5" x2="874.5" y2="431.5" stroke="#000" stroke-width="4.9" />
<line x1="874.3" y1="431.5" x2="874.3" y2="436.5" stroke="#000" stroke-width="1.8" />
<text x="874.3" y="450.5" font-size="13" text-anchor="middle" fill="#000" font-weight="normal" font-style="normal" letter-spacing="0.6" stroke="#000" stroke-width="0.35">1.0</text>
<line x1="936.7" y1="431.5" x2="936.7" y2="436.5" stroke="#000" stroke-width="1.8" />
<text x="936.7" y="450.5" font-size="13" text-anchor="middle" fill="#000" font-weight="normal" font-style="normal" letter-spacing="0.6" stroke="#000" stroke-width="0.35">1.2</text>
<line x1="999.0" y1="431.5" x2="999.0" y2="436.5" stroke="#000" stroke-width="1.8" />
<text x="999.0" y="450.5" font-size="13" text-anchor="middle" fill="#000" font-weight="normal" font-style="normal" letter-spacing="0.6" stroke="#000" stroke-width="0.35">1.4</text>
<line x1="1061.4" y1="431.5" x2="1061.4" y2="436.5" stroke="#000" stroke-width="1.8" />
<text x="1061.4" y="450.5" font-size="13" text-anchor="middle" fill="#000" font-weight="normal" font-style="normal" letter-spacing="0.6" stroke="#000" stroke-width="0.35">1.6</text>
<line x1="1123.8" y1="431.5" x2="1123.8" y2="436.5" stroke="#000" stroke-width="1.8" />
<text x="1123.8" y="450.5" font-size="13" text-anchor="middle" fill="#000" font-weight="normal" font-style="normal" letter-spacing="0.6" stroke="#000" stroke-width="0.35">1.8</text>
<line x1="1186.1" y1="431.5" x2="1186.1" y2="436.5" stroke="#000" stroke-width="1.8" />
<text x="1186.1" y="450.5" font-size="13" text-anchor="middle" fill="#000" font-weight="normal" font-style="normal" letter-spacing="0.6" stroke="#000" stroke-width="0.35">2.0</text>
<line x1="1248.5" y1="431.5" x2="1248.5" y2="436.5" stroke="#000" stroke-width="1.8" />
<text x="1248.5" y="450.5" font-size="13" text-anchor="middle" fill="#000" font-weight="normal" font-style="normal" letter-spacing="0.6" stroke="#000" stroke-width="0.35">2.2</text>
<text x="1075.8" y="470.2" font-size="15" text-anchor="middle" fill="#000" font-weight="normal" font-style="normal" >Odd ratio</text>
<line x1="610.5" y1="485.0" x2="610.5" y2="727.0" stroke="#d4d4d4" stroke-width="1.3" />
<line x1="703.5" y1="485.0" x2="703.5" y2="727.0" stroke="#d4d4d4" stroke-width="1.3" />
<line x1="796.4" y1="485.0" x2="796.4" y2="727.0" stroke="#d4d4d4" stroke-width="1.3" />
<line x1="889.2" y1="485.0" x2="889.2" y2="727.0" stroke="#d4d4d4" stroke-width="1.3" />
<line x1="982.1" y1="485.0" x2="982.1" y2="727.0" stroke="#d4d4d4" stroke-width="1.3" />
<line x1="1075.1" y1="485.0" x2="1075.1" y2="727.0" stroke="#d4d4d4" stroke-width="1.3" />
<line x1="1168.0" y1="485.0" x2="1168.0" y2="727.0" stroke="#d4d4d4" stroke-width="1.3" />
<line x1="518.0" y1="713.5" x2="1260.0" y2="713.5" stroke="#a0a0a0" stroke-width="1.5" />
<rect x="518.2" y="484.6" width="741.8" height="242.6" fill="none" stroke="#cbcbcb" stroke-width="2.6"/>
<text x="515.0" y="718.8" font-size="15" text-anchor="end" fill="#000" font-weight="normal" font-style="normal" >0</text>
<text x="515.0" y="647.3" font-size="15" text-anchor="end" fill="#000" font-weight="normal" font-style="normal" >5</text>
<text x="515.0" y="575.8" font-size="15" text-anchor="end" fill="#000" font-weight="normal" font-style="normal" >10</text>
<text x="515.0" y="504.3" font-size="15" text-anchor="end" fill="#000" font-weight="normal" font-style="normal" >15</text>
<text x="517.6" y="741.5" font-size="15" text-anchor="middle" fill="#000" font-weight="normal" font-style="normal" >-0.4</text>
<text x="610.5" y="741.5" font-size="15" text-anchor="middle" fill="#000" font-weight="normal" font-style="normal" >-0.3</text>
<text x="703.5" y="741.5" font-size="15" text-anchor="middle" fill="#000" font-weight="normal" font-style="normal" >-0.2</text>
<text x="796.4" y="741.5" font-size="15" text-anchor="middle" fill="#000" font-weight="normal" font-style="normal" >-0.1</text>
<text x="889.2" y="741.5" font-size="15" text-anchor="middle" fill="#000" font-weight="normal" font-style="normal" >0.0</text>
<text x="982.1" y="741.5" font-size="15" text-anchor="middle" fill="#000" font-weight="normal" font-style="normal" >0.1</text>
<text x="1075.1" y="741.5" font-size="15" text-anchor="middle" fill="#000" font-weight="normal" font-style="normal" >0.2</text>
<text x="1168.0" y="741.5" font-size="15" text-anchor="middle" fill="#000" font-weight="normal" font-style="normal" >0.3</text>
<text x="1260.8" y="741.5" font-size="15" text-anchor="middle" fill="#000" font-weight="normal" font-style="normal" >0.4</text>
<text transform="translate(486.6,612.4) rotate(-90)" font-size="19.6" text-anchor="middle">-log(p-value)</text>
<defs><clipPath id="pc"><rect x="519.5" y="486" width="739" height="240"/></clipPath></defs>
<g clip-path="url(#pc)"><circle cx="1032" cy="693" r="48" fill="#a3a3a3" stroke="#7a7a7a" stroke-width="3" stroke-dasharray="4,3"/></g>
<text x="1078.5" y="639.5" font-size="15" text-anchor="middle" fill="#ababab" font-weight="bold" font-style="normal" >All proteins</text>
<line x1="519" y1="679.8" x2="1259" y2="679.8" stroke="#000" stroke-width="1.2" stroke-dasharray="5,3.5"/>
<g clip-path="url(#pc)">
<circle cx="697.6" cy="539.6" r="9.2" fill="#7ec6c8"/>
<circle cx="753.3" cy="516" r="10.8" fill="#f6b945"/>
<circle cx="804.7" cy="511.8" r="12.2" fill="#f9d22a"/>
<circle cx="752.4" cy="548.9" r="9.4" fill="#dfbf8e"/>
<circle cx="1179" cy="516.5" r="16" fill="#a5d252"/>
<circle cx="862.5" cy="675.5" r="9" fill="#e180bc"/>
<circle cx="773.2" cy="682.3" r="4.2" fill="#f6cc2e"/>
<circle cx="1033" cy="682.5" r="9.3" fill="#f7b7cc"/>
<circle cx="987.5" cy="709.5" r="12.2" fill="#5ec49c"/>
<circle cx="1089.2" cy="712.3" r="7.2" fill="#5ec49c"/>
<circle cx="1132.2" cy="705.8" r="6" fill="#f28450"/>
<circle cx="1194.8" cy="696.2" r="6" fill="#8da0d6"/>
</g>
<text x="621.0" y="512.3" font-size="15" text-anchor="start" fill="#474747" font-weight="normal" font-style="normal" >Brain (microarray)*</text>
<text x="558.3" y="539.8" font-size="15" text-anchor="start" fill="#474747" font-weight="normal" font-style="normal" >Brain (mass spec.)*</text>
<text x="821.6" y="517.4" font-size="15" text-anchor="start" fill="#474747" font-weight="normal" font-style="normal" >Brain (RNA-seq)*</text>
<text x="766.0" y="554.5" font-size="15" text-anchor="start" fill="#474747" font-weight="normal" font-style="normal" >Fetal brain (microarray)*</text>
<text x="1107.2" y="516.5" font-size="15" text-anchor="start" fill="#474747" font-weight="normal" font-style="normal" >Testes *</text>
<text x="807.0" y="663.0" font-size="15" text-anchor="start" fill="#474747" font-weight="normal" font-style="normal" >Skeletal muscles</text>
<text x="726.3" y="690.2" font-size="15" text-anchor="start" fill="#474747" font-weight="normal" font-style="normal" >Ovary</text>
<text x="1027.5" y="706.3" font-size="15" text-anchor="start" fill="#474747" font-weight="normal" font-style="normal" >Liver</text>
<text x="933.8" y="712.5" font-size="15" text-anchor="start" fill="#474747" font-weight="normal" font-style="normal" >Blood</text>
<text x="1096.5" y="725.8" font-size="15" text-anchor="start" fill="#474747" font-weight="normal" font-style="normal" >Heart</text>
<text x="1111.0" y="697.0" font-size="15" text-anchor="start" fill="#474747" font-weight="normal" font-style="normal" >Kidney</text>
<text x="1205.0" y="702.7" font-size="15" text-anchor="start" fill="#474747" font-weight="normal" font-style="normal" >Lung</text>
<path d="M557,618.6 A14.6,14.6 0 0,0 557,647.8 Z" fill="#959595"/>
<path d="M557,618.6 A5.8,5.8 0 0,0 557,630.2 Z" fill="#000"/>
<text x="527.8" y="611.0" font-size="15" text-anchor="start" fill="#000" font-weight="bold" font-style="normal" ># of proteins</text>
<text x="558.3" y="632.5" font-size="15" text-anchor="start" fill="#000" font-weight="normal" font-style="normal" >100</text>
<text x="558.3" y="651.9" font-size="15" text-anchor="start" fill="#959595" font-weight="normal" font-style="normal" >1000</text>
<text x="890.0" y="760.0" font-size="15" text-anchor="middle" fill="#000" font-weight="normal" font-style="normal" >Rank-biserial correlation</text>
<text x="890.5" y="775.0" font-size="15" text-anchor="middle" fill="#000" font-weight="normal" font-style="normal" >(HS vs. 6-EPO ancestor)</text>
<text x="518.7" y="765.2" font-size="15" text-anchor="start" fill="#000" font-weight="bold" font-style="italic" >More conserved</text>
<text x="1260.8" y="766.0" font-size="15" text-anchor="end" fill="#000" font-weight="bold" font-style="italic" >Less conserved</text>
<line x1="658" y1="761.3" x2="796" y2="761.3" stroke="#000" stroke-width="2.6"/><polygon points="646.8,761.3 660,755.5 660,767" fill="#000"/>
<line x1="985.5" y1="761.3" x2="1124" y2="761.3" stroke="#000" stroke-width="2.6"/><polygon points="1136,761.3 1122.8,755.5 1122.8,767" fill="#000"/>
</svg></body></html>
